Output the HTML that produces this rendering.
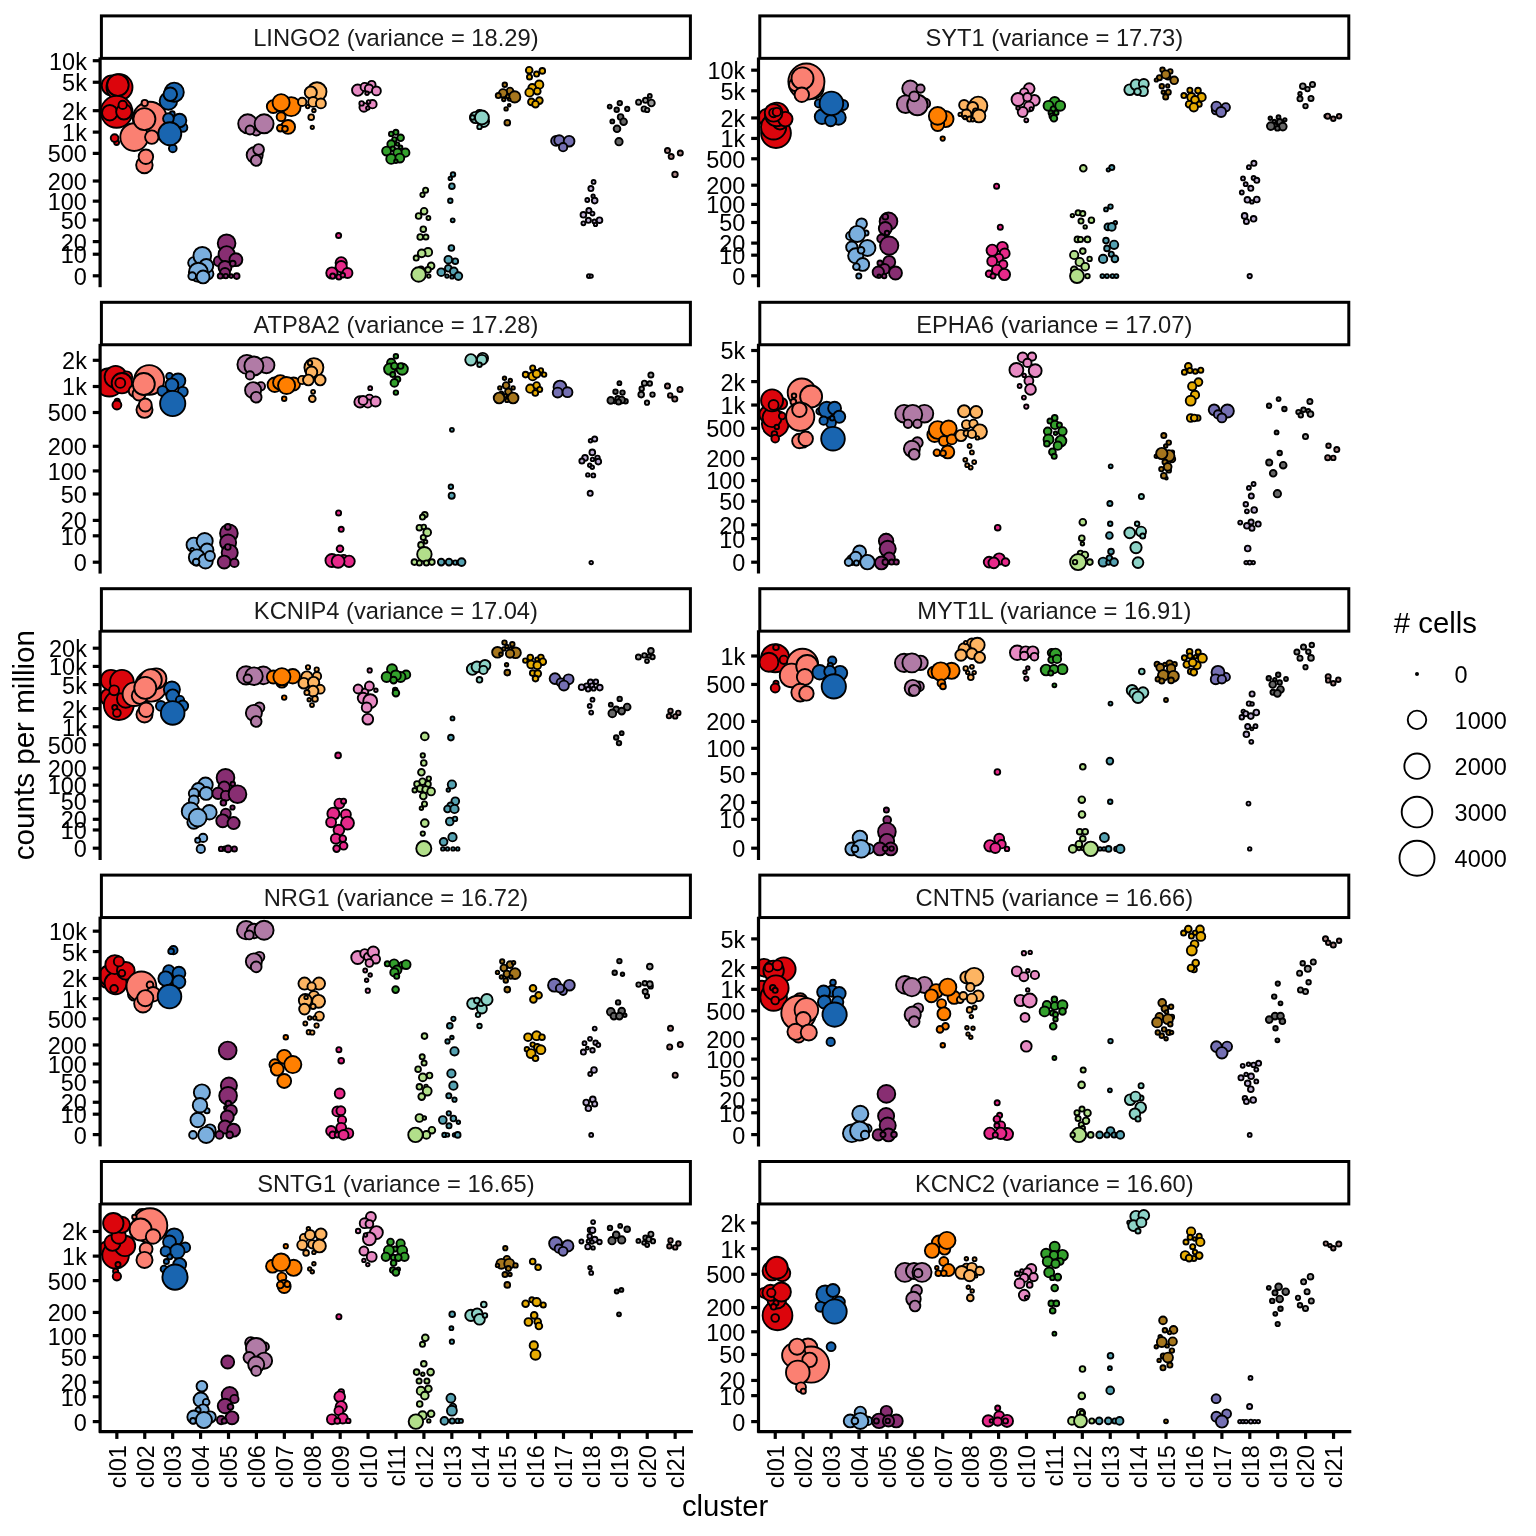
<!DOCTYPE html>
<html><head><meta charset="utf-8"><style>html,body{margin:0;padding:0;background:#fff}svg{display:block}</style></head><body>
<svg xmlns="http://www.w3.org/2000/svg" width="1536" height="1536" viewBox="0 0 1536 1536">
<rect width="1536" height="1536" fill="#fff"/>
<clipPath id="cp0"><rect x="100.10" y="56.45" width="591.8" height="229.55"/></clipPath>
<g stroke="#000" stroke-width="1.89" clip-path="url(#cp0)">
<circle cx="111.7" cy="85.4" r="10.00" fill="#DC050C"/>
<circle cx="119.5" cy="87.3" r="13.00" fill="#DC050C"/>
<circle cx="117.9" cy="85.1" r="10.80" fill="#DC050C"/>
<circle cx="116.6" cy="111.8" r="15.91" fill="#DC050C"/>
<circle cx="109.8" cy="112.7" r="7.76" fill="#DC050C"/>
<circle cx="123.9" cy="111.8" r="7.76" fill="#DC050C"/>
<circle cx="122.7" cy="104.9" r="4.16" fill="#DC050C"/>
<circle cx="116.6" cy="142.5" r="2.46" fill="#DC050C"/>
<circle cx="114.6" cy="138.1" r="3.86" fill="#DC050C"/>
<circle cx="149.8" cy="118.6" r="16.91" fill="#FB8072"/>
<circle cx="134.2" cy="137.1" r="13.90" fill="#FB8072"/>
<circle cx="144.4" cy="119.1" r="11.00" fill="#FB8072"/>
<circle cx="151.8" cy="137.1" r="6.75" fill="#FB8072"/>
<circle cx="144.7" cy="103.0" r="3.16" fill="#FB8072"/>
<circle cx="144.4" cy="165.0" r="8.26" fill="#FB8072"/>
<circle cx="145.9" cy="156.7" r="7.25" fill="#FB8072"/>
<circle cx="172.8" cy="148.4" r="3.86" fill="#1965B0"/>
<circle cx="168.4" cy="101.0" r="8.76" fill="#1965B0"/>
<circle cx="174.2" cy="92.2" r="9.61" fill="#1965B0"/>
<circle cx="170.3" cy="94.2" r="6.75" fill="#1965B0"/>
<circle cx="172.3" cy="113.7" r="2.46" fill="#1965B0"/>
<circle cx="183.0" cy="127.4" r="4.36" fill="#1965B0"/>
<circle cx="179.6" cy="120.5" r="6.75" fill="#1965B0"/>
<circle cx="168.4" cy="118.6" r="5.36" fill="#1965B0"/>
<circle cx="169.8" cy="133.7" r="11.50" fill="#1965B0"/>
<circle cx="193.8" cy="262.8" r="5.66" fill="#7BAFDE"/>
<circle cx="207.8" cy="273.8" r="5.66" fill="#7BAFDE"/>
<circle cx="202.3" cy="255.8" r="8.86" fill="#7BAFDE"/>
<circle cx="206.3" cy="265.9" r="6.96" fill="#7BAFDE"/>
<circle cx="198.4" cy="272.2" r="9.50" fill="#7BAFDE"/>
<circle cx="203.1" cy="276.9" r="6.46" fill="#7BAFDE"/>
<circle cx="192.2" cy="276.1" r="3.86" fill="#7BAFDE"/>
<circle cx="218.8" cy="261.2" r="4.96" fill="#882E72"/>
<circle cx="226.6" cy="243.3" r="8.86" fill="#882E72"/>
<circle cx="226.6" cy="254.2" r="8.05" fill="#882E72"/>
<circle cx="235.9" cy="259.7" r="6.46" fill="#882E72"/>
<circle cx="225.0" cy="267.5" r="6.46" fill="#882E72"/>
<circle cx="225.0" cy="273.0" r="4.96" fill="#882E72"/>
<circle cx="232.8" cy="263.6" r="2.85" fill="#882E72"/>
<circle cx="220.3" cy="276.1" r="2.56" fill="#882E72"/>
<circle cx="225.8" cy="276.1" r="2.25" fill="#882E72"/>
<circle cx="231.2" cy="276.1" r="1.85" fill="#882E72"/>
<circle cx="236.7" cy="276.1" r="2.85" fill="#882E72"/>
<circle cx="256.2" cy="130.0" r="5.46" fill="#B17BA6"/>
<circle cx="247.7" cy="123.8" r="9.50" fill="#B17BA6"/>
<circle cx="264.1" cy="123.8" r="9.50" fill="#B17BA6"/>
<circle cx="250.0" cy="130.0" r="4.46" fill="#B17BA6"/>
<circle cx="254.7" cy="155.0" r="8.05" fill="#B17BA6"/>
<circle cx="258.6" cy="149.5" r="5.36" fill="#B17BA6"/>
<circle cx="256.2" cy="160.5" r="5.36" fill="#B17BA6"/>
<circle cx="273.3" cy="106.6" r="6.46" fill="#FF7F00"/>
<circle cx="288.0" cy="104.0" r="5.66" fill="#FF7F00"/>
<circle cx="291.2" cy="106.6" r="9.50" fill="#FF7F00"/>
<circle cx="281.1" cy="102.7" r="8.55" fill="#FF7F00"/>
<circle cx="281.1" cy="116.7" r="4.46" fill="#FF7F00"/>
<circle cx="288.1" cy="126.9" r="6.96" fill="#FF7F00"/>
<circle cx="280.3" cy="128.1" r="3.35" fill="#FF7F00"/>
<circle cx="285.0" cy="128.8" r="2.85" fill="#FF7F00"/>
<circle cx="317.0" cy="91.7" r="9.50" fill="#FDB462"/>
<circle cx="310.8" cy="92.5" r="6.05" fill="#FDB462"/>
<circle cx="313.1" cy="101.9" r="4.96" fill="#FDB462"/>
<circle cx="302.2" cy="101.9" r="4.16" fill="#FDB462"/>
<circle cx="320.9" cy="103.4" r="4.96" fill="#FDB462"/>
<circle cx="307.7" cy="106.6" r="1.75" fill="#FDB462"/>
<circle cx="313.9" cy="110.5" r="1.75" fill="#FDB462"/>
<circle cx="311.2" cy="117.2" r="2.85" fill="#FDB462"/>
<circle cx="312.3" cy="127.3" r="1.66" fill="#FDB462"/>
<circle cx="338.6" cy="235.5" r="2.56" fill="#E7298A"/>
<circle cx="341.2" cy="262.8" r="5.66" fill="#E7298A"/>
<circle cx="341.2" cy="266.7" r="5.66" fill="#E7298A"/>
<circle cx="331.9" cy="273.0" r="5.66" fill="#E7298A"/>
<circle cx="347.5" cy="273.0" r="4.96" fill="#E7298A"/>
<circle cx="332.7" cy="276.1" r="2.56" fill="#E7298A"/>
<circle cx="338.9" cy="276.9" r="2.56" fill="#E7298A"/>
<circle cx="342.8" cy="275.3" r="2.25" fill="#E7298A"/>
<circle cx="357.7" cy="90.2" r="5.66" fill="#E78AC3"/>
<circle cx="364.7" cy="87.0" r="4.16" fill="#E78AC3"/>
<circle cx="371.7" cy="84.7" r="3.86" fill="#E78AC3"/>
<circle cx="369.0" cy="88.6" r="4.16" fill="#E78AC3"/>
<circle cx="376.4" cy="90.9" r="4.46" fill="#E78AC3"/>
<circle cx="367.0" cy="93.3" r="1.75" fill="#E78AC3"/>
<circle cx="363.9" cy="107.3" r="4.46" fill="#E78AC3"/>
<circle cx="372.5" cy="104.2" r="4.16" fill="#E78AC3"/>
<circle cx="361.6" cy="103.4" r="2.25" fill="#E78AC3"/>
<circle cx="368.6" cy="101.9" r="1.75" fill="#E78AC3"/>
<circle cx="367.8" cy="108.1" r="1.75" fill="#E78AC3"/>
<circle cx="395.9" cy="132.3" r="2.56" fill="#33A02C"/>
<circle cx="391.2" cy="133.9" r="2.25" fill="#33A02C"/>
<circle cx="400.6" cy="137.8" r="3.35" fill="#33A02C"/>
<circle cx="394.4" cy="139.4" r="2.25" fill="#33A02C"/>
<circle cx="391.2" cy="144.1" r="3.86" fill="#33A02C"/>
<circle cx="397.5" cy="144.1" r="1.75" fill="#33A02C"/>
<circle cx="386.6" cy="151.1" r="4.46" fill="#33A02C"/>
<circle cx="392.8" cy="148.8" r="2.25" fill="#33A02C"/>
<circle cx="400.6" cy="147.2" r="1.75" fill="#33A02C"/>
<circle cx="405.3" cy="152.7" r="4.16" fill="#33A02C"/>
<circle cx="397.5" cy="152.7" r="4.16" fill="#33A02C"/>
<circle cx="391.2" cy="158.9" r="4.96" fill="#33A02C"/>
<circle cx="399.8" cy="158.1" r="4.46" fill="#33A02C"/>
<circle cx="395.9" cy="161.2" r="1.75" fill="#33A02C"/>
<circle cx="425.6" cy="190.2" r="2.56" fill="#B2DF8A"/>
<circle cx="422.5" cy="194.8" r="2.16" fill="#B2DF8A"/>
<circle cx="424.1" cy="211.2" r="3.35" fill="#B2DF8A"/>
<circle cx="418.6" cy="216.0" r="2.85" fill="#B2DF8A"/>
<circle cx="428.4" cy="218.0" r="1.96" fill="#B2DF8A"/>
<circle cx="423.3" cy="229.2" r="2.85" fill="#B2DF8A"/>
<circle cx="420.2" cy="237.0" r="2.85" fill="#B2DF8A"/>
<circle cx="425.9" cy="237.0" r="2.56" fill="#B2DF8A"/>
<circle cx="428.0" cy="252.2" r="4.16" fill="#B2DF8A"/>
<circle cx="421.7" cy="253.4" r="3.86" fill="#B2DF8A"/>
<circle cx="416.2" cy="258.1" r="2.56" fill="#B2DF8A"/>
<circle cx="421.0" cy="269.8" r="3.35" fill="#B2DF8A"/>
<circle cx="431.1" cy="265.9" r="3.35" fill="#B2DF8A"/>
<circle cx="428.0" cy="269.8" r="2.85" fill="#B2DF8A"/>
<circle cx="418.6" cy="274.5" r="7.25" fill="#B2DF8A"/>
<circle cx="428.8" cy="276.1" r="1.75" fill="#B2DF8A"/>
<circle cx="453.0" cy="174.5" r="2.25" fill="#55A1B1"/>
<circle cx="450.3" cy="178.4" r="1.75" fill="#55A1B1"/>
<circle cx="451.9" cy="186.2" r="2.85" fill="#55A1B1"/>
<circle cx="450.3" cy="200.8" r="2.25" fill="#55A1B1"/>
<circle cx="452.7" cy="220.3" r="1.96" fill="#55A1B1"/>
<circle cx="451.4" cy="248.0" r="2.85" fill="#55A1B1"/>
<circle cx="448.3" cy="259.7" r="3.86" fill="#55A1B1"/>
<circle cx="455.3" cy="261.2" r="2.85" fill="#55A1B1"/>
<circle cx="448.3" cy="268.3" r="3.35" fill="#55A1B1"/>
<circle cx="441.2" cy="272.2" r="3.86" fill="#55A1B1"/>
<circle cx="453.8" cy="271.4" r="3.86" fill="#55A1B1"/>
<circle cx="447.0" cy="276.1" r="1.75" fill="#55A1B1"/>
<circle cx="452.0" cy="276.9" r="1.75" fill="#55A1B1"/>
<circle cx="458.4" cy="276.1" r="3.86" fill="#55A1B1"/>
<circle cx="479.5" cy="114.0" r="4.16" fill="#8DD3C7"/>
<circle cx="475.6" cy="117.5" r="5.66" fill="#8DD3C7"/>
<circle cx="483.4" cy="121.4" r="5.66" fill="#8DD3C7"/>
<circle cx="481.9" cy="117.5" r="6.96" fill="#8DD3C7"/>
<circle cx="472.5" cy="117.5" r="2.25" fill="#8DD3C7"/>
<circle cx="479.5" cy="126.9" r="2.25" fill="#8DD3C7"/>
<circle cx="504.8" cy="84.7" r="2.25" fill="#A6761D"/>
<circle cx="510.0" cy="91.0" r="3.35" fill="#A6761D"/>
<circle cx="503.0" cy="93.3" r="4.16" fill="#A6761D"/>
<circle cx="498.3" cy="95.6" r="2.56" fill="#A6761D"/>
<circle cx="514.7" cy="96.9" r="5.66" fill="#A6761D"/>
<circle cx="507.7" cy="96.4" r="1.75" fill="#A6761D"/>
<circle cx="503.8" cy="99.5" r="1.75" fill="#A6761D"/>
<circle cx="509.2" cy="99.5" r="1.35" fill="#A6761D"/>
<circle cx="509.2" cy="105.3" r="1.35" fill="#A6761D"/>
<circle cx="506.1" cy="108.9" r="1.75" fill="#A6761D"/>
<circle cx="507.3" cy="122.7" r="2.85" fill="#A6761D"/>
<circle cx="529.2" cy="70.2" r="3.35" fill="#E6AB02"/>
<circle cx="536.6" cy="74.1" r="2.56" fill="#E6AB02"/>
<circle cx="542.3" cy="70.9" r="2.85" fill="#E6AB02"/>
<circle cx="529.5" cy="76.9" r="2.56" fill="#E6AB02"/>
<circle cx="539.2" cy="84.7" r="4.16" fill="#E6AB02"/>
<circle cx="532.2" cy="87.8" r="3.86" fill="#E6AB02"/>
<circle cx="529.5" cy="92.5" r="4.16" fill="#E6AB02"/>
<circle cx="537.3" cy="91.2" r="3.35" fill="#E6AB02"/>
<circle cx="531.4" cy="101.9" r="3.35" fill="#E6AB02"/>
<circle cx="539.4" cy="100.6" r="3.35" fill="#E6AB02"/>
<circle cx="535.5" cy="104.2" r="3.35" fill="#E6AB02"/>
<circle cx="556.1" cy="140.9" r="4.96" fill="#7570B3"/>
<circle cx="559.2" cy="140.2" r="4.96" fill="#7570B3"/>
<circle cx="569.1" cy="141.2" r="5.36" fill="#7570B3"/>
<circle cx="563.1" cy="147.2" r="4.16" fill="#7570B3"/>
<circle cx="593.6" cy="181.9" r="1.96" fill="#BEAED4"/>
<circle cx="590.9" cy="188.6" r="2.56" fill="#BEAED4"/>
<circle cx="593.1" cy="196.1" r="1.66" fill="#BEAED4"/>
<circle cx="587.3" cy="200.0" r="1.96" fill="#BEAED4"/>
<circle cx="594.7" cy="200.6" r="2.85" fill="#BEAED4"/>
<circle cx="588.9" cy="210.5" r="2.56" fill="#BEAED4"/>
<circle cx="592.5" cy="213.6" r="1.96" fill="#BEAED4"/>
<circle cx="583.4" cy="214.8" r="2.85" fill="#BEAED4"/>
<circle cx="588.4" cy="220.3" r="2.56" fill="#BEAED4"/>
<circle cx="594.4" cy="221.4" r="1.96" fill="#BEAED4"/>
<circle cx="599.5" cy="220.2" r="2.85" fill="#BEAED4"/>
<circle cx="583.4" cy="223.3" r="1.96" fill="#BEAED4"/>
<circle cx="595.5" cy="224.5" r="1.66" fill="#BEAED4"/>
<circle cx="588.9" cy="276.1" r="1.96" fill="#BEAED4"/>
<circle cx="591.2" cy="276.1" r="1.66" fill="#BEAED4"/>
<circle cx="609.7" cy="106.6" r="1.96" fill="#666666"/>
<circle cx="619.8" cy="103.1" r="2.25" fill="#666666"/>
<circle cx="616.7" cy="109.7" r="2.25" fill="#666666"/>
<circle cx="627.2" cy="108.9" r="2.16" fill="#666666"/>
<circle cx="620.6" cy="117.0" r="2.85" fill="#666666"/>
<circle cx="623.6" cy="121.7" r="3.35" fill="#666666"/>
<circle cx="612.3" cy="121.4" r="1.96" fill="#666666"/>
<circle cx="617.0" cy="128.8" r="3.35" fill="#666666"/>
<circle cx="619.0" cy="141.7" r="3.66" fill="#666666"/>
<circle cx="649.8" cy="95.9" r="1.96" fill="#999999"/>
<circle cx="638.6" cy="102.2" r="2.56" fill="#999999"/>
<circle cx="645.5" cy="100.3" r="2.56" fill="#999999"/>
<circle cx="651.4" cy="103.0" r="3.35" fill="#999999"/>
<circle cx="644.1" cy="108.9" r="2.56" fill="#999999"/>
<circle cx="647.2" cy="110.0" r="2.16" fill="#999999"/>
<circle cx="667.5" cy="150.6" r="2.56" fill="#AA8282"/>
<circle cx="671.2" cy="156.6" r="2.56" fill="#AA8282"/>
<circle cx="680.3" cy="153.0" r="2.56" fill="#AA8282"/>
<circle cx="675.0" cy="174.4" r="2.75" fill="#AA8282"/>
</g>
<rect x="101.40" y="15.90" width="589.00" height="42.45" fill="#fff" stroke="#000" stroke-width="3.0"/>
<text x="395.90" y="46.30" font-family='"Liberation Sans", Arial, sans-serif' font-size="23.73" fill="#1A1A1A" text-anchor="middle">LINGO2 (variance = 18.29)</text>
<line x1="100.1" y1="57.45" x2="100.1" y2="287.20" stroke="#000" stroke-width="3.2"/>
<line x1="92.77" y1="275.80" x2="100.1" y2="275.80" stroke="#000" stroke-width="3.2"/>
<text x="86.90" y="284.75" font-family='"Liberation Sans", Arial, sans-serif' font-size="23.47" fill="#000" text-anchor="end">0</text>
<line x1="92.77" y1="254.22" x2="100.1" y2="254.22" stroke="#000" stroke-width="3.2"/>
<text x="86.90" y="263.17" font-family='"Liberation Sans", Arial, sans-serif' font-size="23.47" fill="#000" text-anchor="end">10</text>
<line x1="92.77" y1="241.60" x2="100.1" y2="241.60" stroke="#000" stroke-width="3.2"/>
<text x="86.90" y="250.55" font-family='"Liberation Sans", Arial, sans-serif' font-size="23.47" fill="#000" text-anchor="end">20</text>
<line x1="92.77" y1="220.01" x2="100.1" y2="220.01" stroke="#000" stroke-width="3.2"/>
<text x="86.90" y="228.96" font-family='"Liberation Sans", Arial, sans-serif' font-size="23.47" fill="#000" text-anchor="end">50</text>
<line x1="92.77" y1="201.14" x2="100.1" y2="201.14" stroke="#000" stroke-width="3.2"/>
<text x="86.90" y="210.09" font-family='"Liberation Sans", Arial, sans-serif' font-size="23.47" fill="#000" text-anchor="end">100</text>
<line x1="92.77" y1="181.01" x2="100.1" y2="181.01" stroke="#000" stroke-width="3.2"/>
<text x="86.90" y="189.96" font-family='"Liberation Sans", Arial, sans-serif' font-size="23.47" fill="#000" text-anchor="end">200</text>
<line x1="92.77" y1="153.38" x2="100.1" y2="153.38" stroke="#000" stroke-width="3.2"/>
<text x="86.90" y="162.33" font-family='"Liberation Sans", Arial, sans-serif' font-size="23.47" fill="#000" text-anchor="end">500</text>
<line x1="92.77" y1="132.11" x2="100.1" y2="132.11" stroke="#000" stroke-width="3.2"/>
<text x="86.90" y="141.06" font-family='"Liberation Sans", Arial, sans-serif' font-size="23.47" fill="#000" text-anchor="end">1k</text>
<line x1="92.77" y1="110.68" x2="100.1" y2="110.68" stroke="#000" stroke-width="3.2"/>
<text x="86.90" y="119.63" font-family='"Liberation Sans", Arial, sans-serif' font-size="23.47" fill="#000" text-anchor="end">2k</text>
<line x1="92.77" y1="82.25" x2="100.1" y2="82.25" stroke="#000" stroke-width="3.2"/>
<text x="86.90" y="91.20" font-family='"Liberation Sans", Arial, sans-serif' font-size="23.47" fill="#000" text-anchor="end">5k</text>
<line x1="92.77" y1="60.70" x2="100.1" y2="60.70" stroke="#000" stroke-width="3.2"/>
<text x="86.90" y="69.65" font-family='"Liberation Sans", Arial, sans-serif' font-size="23.47" fill="#000" text-anchor="end">10k</text>
<clipPath id="cp1"><rect x="758.50" y="56.45" width="591.8" height="229.55"/></clipPath>
<g stroke="#000" stroke-width="1.89" clip-path="url(#cp1)">
<circle cx="767.4" cy="117.5" r="8.86" fill="#DC050C"/>
<circle cx="776.0" cy="133.1" r="14.90" fill="#DC050C"/>
<circle cx="773.6" cy="126.9" r="12.61" fill="#DC050C"/>
<circle cx="780.0" cy="122.0" r="7.46" fill="#DC050C"/>
<circle cx="776.8" cy="114.4" r="11.80" fill="#DC050C"/>
<circle cx="785.3" cy="119.1" r="7.25" fill="#DC050C"/>
<circle cx="773.6" cy="112.8" r="8.86" fill="#DC050C"/>
<circle cx="773.6" cy="112.8" r="4.46" fill="#DC050C"/>
<circle cx="776.8" cy="112.0" r="4.16" fill="#DC050C"/>
<circle cx="812.7" cy="87.8" r="11.00" fill="#FB8072"/>
<circle cx="806.4" cy="81.6" r="18.05" fill="#FB8072"/>
<circle cx="795.5" cy="84.7" r="6.46" fill="#FB8072"/>
<circle cx="802.5" cy="78.4" r="11.00" fill="#FB8072"/>
<circle cx="801.8" cy="94.8" r="7.25" fill="#FB8072"/>
<circle cx="819.0" cy="103.4" r="4.16" fill="#1965B0"/>
<circle cx="843.2" cy="105.0" r="4.96" fill="#1965B0"/>
<circle cx="822.0" cy="116.7" r="7.25" fill="#1965B0"/>
<circle cx="838.5" cy="117.5" r="7.25" fill="#1965B0"/>
<circle cx="830.7" cy="120.6" r="5.66" fill="#1965B0"/>
<circle cx="831.4" cy="103.4" r="11.80" fill="#1965B0"/>
<circle cx="850.2" cy="236.0" r="4.16" fill="#7BAFDE"/>
<circle cx="861.6" cy="223.8" r="5.36" fill="#7BAFDE"/>
<circle cx="866.0" cy="233.0" r="2.56" fill="#7BAFDE"/>
<circle cx="857.2" cy="233.9" r="8.05" fill="#7BAFDE"/>
<circle cx="851.8" cy="247.2" r="5.66" fill="#7BAFDE"/>
<circle cx="867.4" cy="248.0" r="8.05" fill="#7BAFDE"/>
<circle cx="855.7" cy="255.8" r="7.55" fill="#7BAFDE"/>
<circle cx="861.1" cy="250.3" r="3.35" fill="#7BAFDE"/>
<circle cx="862.7" cy="264.4" r="6.46" fill="#7BAFDE"/>
<circle cx="856.4" cy="266.7" r="3.35" fill="#7BAFDE"/>
<circle cx="858.8" cy="276.1" r="2.56" fill="#7BAFDE"/>
<circle cx="888.5" cy="221.4" r="8.86" fill="#882E72"/>
<circle cx="885.3" cy="216.7" r="2.85" fill="#882E72"/>
<circle cx="885.3" cy="228.4" r="6.46" fill="#882E72"/>
<circle cx="887.0" cy="233.0" r="2.25" fill="#882E72"/>
<circle cx="881.4" cy="238.6" r="4.16" fill="#882E72"/>
<circle cx="889.2" cy="245.6" r="9.15" fill="#882E72"/>
<circle cx="880.0" cy="263.0" r="2.56" fill="#882E72"/>
<circle cx="889.2" cy="262.0" r="6.05" fill="#882E72"/>
<circle cx="884.6" cy="269.0" r="4.96" fill="#882E72"/>
<circle cx="878.3" cy="272.2" r="5.66" fill="#882E72"/>
<circle cx="895.5" cy="273.0" r="6.46" fill="#882E72"/>
<circle cx="884.2" cy="276.1" r="2.25" fill="#882E72"/>
<circle cx="879.1" cy="276.1" r="1.66" fill="#882E72"/>
<circle cx="910.3" cy="88.6" r="8.05" fill="#B17BA6"/>
<circle cx="920.5" cy="88.6" r="4.16" fill="#B17BA6"/>
<circle cx="925.2" cy="103.4" r="4.96" fill="#B17BA6"/>
<circle cx="905.7" cy="104.2" r="8.86" fill="#B17BA6"/>
<circle cx="917.4" cy="105.0" r="10.21" fill="#B17BA6"/>
<circle cx="914.2" cy="96.4" r="4.96" fill="#B17BA6"/>
<circle cx="937.0" cy="119.0" r="5.66" fill="#FF7F00"/>
<circle cx="945.5" cy="119.1" r="8.05" fill="#FF7F00"/>
<circle cx="937.7" cy="124.5" r="6.46" fill="#FF7F00"/>
<circle cx="937.7" cy="115.9" r="8.86" fill="#FF7F00"/>
<circle cx="942.7" cy="138.6" r="2.16" fill="#FF7F00"/>
<circle cx="978.2" cy="105.8" r="9.15" fill="#FDB462"/>
<circle cx="964.1" cy="105.0" r="4.96" fill="#FDB462"/>
<circle cx="972.7" cy="107.3" r="5.36" fill="#FDB462"/>
<circle cx="975.8" cy="111.2" r="2.85" fill="#FDB462"/>
<circle cx="978.9" cy="115.9" r="6.46" fill="#FDB462"/>
<circle cx="966.4" cy="114.4" r="4.96" fill="#FDB462"/>
<circle cx="960.2" cy="114.4" r="1.75" fill="#FDB462"/>
<circle cx="965.0" cy="117.5" r="1.75" fill="#FDB462"/>
<circle cx="969.6" cy="119.1" r="2.56" fill="#FDB462"/>
<circle cx="972.7" cy="119.8" r="1.75" fill="#FDB462"/>
<circle cx="996.6" cy="186.2" r="2.56" fill="#E7298A"/>
<circle cx="1000.3" cy="227.2" r="2.56" fill="#E7298A"/>
<circle cx="1002.4" cy="247.2" r="5.36" fill="#E7298A"/>
<circle cx="992.2" cy="250.3" r="5.66" fill="#E7298A"/>
<circle cx="1004.7" cy="253.4" r="4.96" fill="#E7298A"/>
<circle cx="999.0" cy="258.0" r="4.16" fill="#E7298A"/>
<circle cx="992.2" cy="261.2" r="4.96" fill="#E7298A"/>
<circle cx="1003.2" cy="264.4" r="4.16" fill="#E7298A"/>
<circle cx="996.9" cy="269.8" r="4.96" fill="#E7298A"/>
<circle cx="989.1" cy="273.8" r="3.35" fill="#E7298A"/>
<circle cx="993.0" cy="276.1" r="2.56" fill="#E7298A"/>
<circle cx="1004.4" cy="274.5" r="5.66" fill="#E7298A"/>
<circle cx="1029.2" cy="88.6" r="5.36" fill="#E78AC3"/>
<circle cx="1024.2" cy="92.5" r="4.16" fill="#E78AC3"/>
<circle cx="1018.0" cy="99.5" r="6.46" fill="#E78AC3"/>
<circle cx="1034.4" cy="100.3" r="5.36" fill="#E78AC3"/>
<circle cx="1027.4" cy="97.2" r="4.16" fill="#E78AC3"/>
<circle cx="1029.0" cy="106.6" r="4.96" fill="#E78AC3"/>
<circle cx="1022.7" cy="112.0" r="4.96" fill="#E78AC3"/>
<circle cx="1018.0" cy="108.1" r="1.75" fill="#E78AC3"/>
<circle cx="1031.3" cy="108.9" r="1.75" fill="#E78AC3"/>
<circle cx="1026.3" cy="120.3" r="1.96" fill="#E78AC3"/>
<circle cx="1047.0" cy="105.0" r="2.56" fill="#33A02C"/>
<circle cx="1054.7" cy="101.9" r="4.96" fill="#33A02C"/>
<circle cx="1048.5" cy="105.8" r="4.96" fill="#33A02C"/>
<circle cx="1060.2" cy="105.8" r="4.96" fill="#33A02C"/>
<circle cx="1053.2" cy="108.9" r="2.56" fill="#33A02C"/>
<circle cx="1056.3" cy="112.8" r="2.25" fill="#33A02C"/>
<circle cx="1050.8" cy="112.8" r="2.25" fill="#33A02C"/>
<circle cx="1052.0" cy="115.9" r="2.56" fill="#33A02C"/>
<circle cx="1053.9" cy="118.3" r="3.35" fill="#33A02C"/>
<circle cx="1083.3" cy="168.3" r="3.35" fill="#B2DF8A"/>
<circle cx="1078.1" cy="212.8" r="2.56" fill="#B2DF8A"/>
<circle cx="1082.8" cy="213.6" r="2.56" fill="#B2DF8A"/>
<circle cx="1072.4" cy="215.6" r="1.75" fill="#B2DF8A"/>
<circle cx="1091.4" cy="220.2" r="2.85" fill="#B2DF8A"/>
<circle cx="1081.0" cy="221.1" r="2.56" fill="#B2DF8A"/>
<circle cx="1085.2" cy="226.9" r="1.75" fill="#B2DF8A"/>
<circle cx="1077.4" cy="239.4" r="2.85" fill="#B2DF8A"/>
<circle cx="1080.5" cy="239.4" r="2.56" fill="#B2DF8A"/>
<circle cx="1087.5" cy="239.4" r="2.85" fill="#B2DF8A"/>
<circle cx="1082.8" cy="251.1" r="2.85" fill="#B2DF8A"/>
<circle cx="1074.2" cy="255.0" r="4.16" fill="#B2DF8A"/>
<circle cx="1089.6" cy="258.9" r="2.25" fill="#B2DF8A"/>
<circle cx="1079.7" cy="262.0" r="4.16" fill="#B2DF8A"/>
<circle cx="1085.2" cy="266.7" r="3.86" fill="#B2DF8A"/>
<circle cx="1074.2" cy="269.8" r="3.35" fill="#B2DF8A"/>
<circle cx="1077.0" cy="276.1" r="6.96" fill="#B2DF8A"/>
<circle cx="1087.5" cy="276.1" r="2.25" fill="#B2DF8A"/>
<circle cx="1111.8" cy="167.5" r="2.56" fill="#55A1B1"/>
<circle cx="1108.3" cy="169.8" r="1.66" fill="#55A1B1"/>
<circle cx="1110.5" cy="206.6" r="2.25" fill="#55A1B1"/>
<circle cx="1106.0" cy="209.4" r="1.96" fill="#55A1B1"/>
<circle cx="1115.3" cy="222.7" r="1.75" fill="#55A1B1"/>
<circle cx="1107.8" cy="226.9" r="3.35" fill="#55A1B1"/>
<circle cx="1111.8" cy="226.9" r="3.86" fill="#55A1B1"/>
<circle cx="1106.0" cy="240.6" r="2.85" fill="#55A1B1"/>
<circle cx="1114.1" cy="244.8" r="4.16" fill="#55A1B1"/>
<circle cx="1107.0" cy="248.4" r="2.85" fill="#55A1B1"/>
<circle cx="1111.3" cy="254.2" r="2.56" fill="#55A1B1"/>
<circle cx="1103.1" cy="258.9" r="4.16" fill="#55A1B1"/>
<circle cx="1114.9" cy="258.9" r="3.35" fill="#55A1B1"/>
<circle cx="1102.4" cy="276.1" r="1.96" fill="#55A1B1"/>
<circle cx="1107.0" cy="276.1" r="1.96" fill="#55A1B1"/>
<circle cx="1112.5" cy="276.1" r="1.96" fill="#55A1B1"/>
<circle cx="1116.4" cy="276.1" r="1.96" fill="#55A1B1"/>
<circle cx="1129.7" cy="89.7" r="5.36" fill="#8DD3C7"/>
<circle cx="1136.0" cy="84.7" r="5.36" fill="#8DD3C7"/>
<circle cx="1143.8" cy="83.9" r="4.96" fill="#8DD3C7"/>
<circle cx="1143.0" cy="91.2" r="4.96" fill="#8DD3C7"/>
<circle cx="1137.5" cy="91.7" r="3.35" fill="#8DD3C7"/>
<circle cx="1162.5" cy="69.8" r="2.25" fill="#A6761D"/>
<circle cx="1170.3" cy="71.4" r="2.25" fill="#A6761D"/>
<circle cx="1168.0" cy="77.0" r="2.56" fill="#A6761D"/>
<circle cx="1165.7" cy="74.5" r="4.16" fill="#A6761D"/>
<circle cx="1174.2" cy="80.3" r="3.86" fill="#A6761D"/>
<circle cx="1159.4" cy="77.7" r="2.56" fill="#A6761D"/>
<circle cx="1156.3" cy="80.0" r="1.66" fill="#A6761D"/>
<circle cx="1161.8" cy="86.2" r="2.25" fill="#A6761D"/>
<circle cx="1167.7" cy="85.9" r="1.66" fill="#A6761D"/>
<circle cx="1163.3" cy="92.2" r="1.75" fill="#A6761D"/>
<circle cx="1168.3" cy="92.2" r="2.56" fill="#A6761D"/>
<circle cx="1165.7" cy="96.9" r="2.56" fill="#A6761D"/>
<circle cx="1189.9" cy="90.2" r="2.56" fill="#E6AB02"/>
<circle cx="1198.0" cy="90.6" r="2.85" fill="#E6AB02"/>
<circle cx="1183.9" cy="95.6" r="2.56" fill="#E6AB02"/>
<circle cx="1201.6" cy="97.2" r="4.16" fill="#E6AB02"/>
<circle cx="1191.4" cy="97.2" r="4.16" fill="#E6AB02"/>
<circle cx="1195.0" cy="99.8" r="3.86" fill="#E6AB02"/>
<circle cx="1189.1" cy="104.2" r="3.35" fill="#E6AB02"/>
<circle cx="1199.2" cy="104.2" r="2.56" fill="#E6AB02"/>
<circle cx="1193.8" cy="107.3" r="4.16" fill="#E6AB02"/>
<circle cx="1215.7" cy="110.5" r="3.86" fill="#7570B3"/>
<circle cx="1216.4" cy="106.6" r="4.96" fill="#7570B3"/>
<circle cx="1225.8" cy="107.3" r="4.16" fill="#7570B3"/>
<circle cx="1221.1" cy="112.0" r="4.96" fill="#7570B3"/>
<circle cx="1253.9" cy="163.3" r="2.56" fill="#BEAED4"/>
<circle cx="1248.9" cy="167.2" r="1.96" fill="#BEAED4"/>
<circle cx="1243.0" cy="178.4" r="1.96" fill="#BEAED4"/>
<circle cx="1253.6" cy="178.0" r="1.96" fill="#BEAED4"/>
<circle cx="1256.8" cy="180.3" r="2.56" fill="#BEAED4"/>
<circle cx="1245.7" cy="184.2" r="1.96" fill="#BEAED4"/>
<circle cx="1250.8" cy="188.3" r="2.56" fill="#BEAED4"/>
<circle cx="1241.8" cy="192.5" r="1.96" fill="#BEAED4"/>
<circle cx="1247.4" cy="199.8" r="2.85" fill="#BEAED4"/>
<circle cx="1256.8" cy="199.5" r="2.85" fill="#BEAED4"/>
<circle cx="1251.9" cy="201.9" r="1.75" fill="#BEAED4"/>
<circle cx="1244.6" cy="215.9" r="2.85" fill="#BEAED4"/>
<circle cx="1253.6" cy="218.8" r="2.85" fill="#BEAED4"/>
<circle cx="1246.4" cy="221.4" r="2.56" fill="#BEAED4"/>
<circle cx="1249.7" cy="276.1" r="2.16" fill="#BEAED4"/>
<circle cx="1270.3" cy="118.3" r="1.75" fill="#666666"/>
<circle cx="1278.5" cy="117.2" r="1.96" fill="#666666"/>
<circle cx="1284.9" cy="119.8" r="1.66" fill="#666666"/>
<circle cx="1274.2" cy="121.4" r="1.66" fill="#666666"/>
<circle cx="1279.7" cy="121.9" r="2.85" fill="#666666"/>
<circle cx="1275.0" cy="126.0" r="2.56" fill="#666666"/>
<circle cx="1270.8" cy="126.1" r="3.86" fill="#666666"/>
<circle cx="1282.8" cy="126.6" r="3.86" fill="#666666"/>
<circle cx="1277.4" cy="128.4" r="2.25" fill="#666666"/>
<circle cx="1302.8" cy="86.2" r="2.85" fill="#999999"/>
<circle cx="1312.5" cy="84.4" r="2.56" fill="#999999"/>
<circle cx="1307.5" cy="89.1" r="2.25" fill="#999999"/>
<circle cx="1300.0" cy="93.8" r="1.75" fill="#999999"/>
<circle cx="1300.0" cy="98.8" r="2.56" fill="#999999"/>
<circle cx="1311.0" cy="98.4" r="2.56" fill="#999999"/>
<circle cx="1305.5" cy="106.1" r="2.25" fill="#999999"/>
<circle cx="1326.0" cy="116.0" r="1.66" fill="#AA8282"/>
<circle cx="1327.7" cy="116.2" r="2.56" fill="#AA8282"/>
<circle cx="1333.3" cy="118.8" r="2.25" fill="#AA8282"/>
<circle cx="1339.1" cy="116.2" r="2.25" fill="#AA8282"/>
</g>
<rect x="759.80" y="15.90" width="589.00" height="42.45" fill="#fff" stroke="#000" stroke-width="3.0"/>
<text x="1054.30" y="46.30" font-family='"Liberation Sans", Arial, sans-serif' font-size="23.73" fill="#1A1A1A" text-anchor="middle">SYT1 (variance = 17.73)</text>
<line x1="758.5" y1="57.45" x2="758.5" y2="287.20" stroke="#000" stroke-width="3.2"/>
<line x1="751.17" y1="275.80" x2="758.5" y2="275.80" stroke="#000" stroke-width="3.2"/>
<text x="745.30" y="284.75" font-family='"Liberation Sans", Arial, sans-serif' font-size="23.47" fill="#000" text-anchor="end">0</text>
<line x1="751.17" y1="255.17" x2="758.5" y2="255.17" stroke="#000" stroke-width="3.2"/>
<text x="745.30" y="264.12" font-family='"Liberation Sans", Arial, sans-serif' font-size="23.47" fill="#000" text-anchor="end">10</text>
<line x1="751.17" y1="243.10" x2="758.5" y2="243.10" stroke="#000" stroke-width="3.2"/>
<text x="745.30" y="252.05" font-family='"Liberation Sans", Arial, sans-serif' font-size="23.47" fill="#000" text-anchor="end">20</text>
<line x1="751.17" y1="222.47" x2="758.5" y2="222.47" stroke="#000" stroke-width="3.2"/>
<text x="745.30" y="231.42" font-family='"Liberation Sans", Arial, sans-serif' font-size="23.47" fill="#000" text-anchor="end">50</text>
<line x1="751.17" y1="204.43" x2="758.5" y2="204.43" stroke="#000" stroke-width="3.2"/>
<text x="745.30" y="213.38" font-family='"Liberation Sans", Arial, sans-serif' font-size="23.47" fill="#000" text-anchor="end">100</text>
<line x1="751.17" y1="185.19" x2="758.5" y2="185.19" stroke="#000" stroke-width="3.2"/>
<text x="745.30" y="194.14" font-family='"Liberation Sans", Arial, sans-serif' font-size="23.47" fill="#000" text-anchor="end">200</text>
<line x1="751.17" y1="158.78" x2="758.5" y2="158.78" stroke="#000" stroke-width="3.2"/>
<text x="745.30" y="167.73" font-family='"Liberation Sans", Arial, sans-serif' font-size="23.47" fill="#000" text-anchor="end">500</text>
<line x1="751.17" y1="138.44" x2="758.5" y2="138.44" stroke="#000" stroke-width="3.2"/>
<text x="745.30" y="147.39" font-family='"Liberation Sans", Arial, sans-serif' font-size="23.47" fill="#000" text-anchor="end">1k</text>
<line x1="751.17" y1="117.96" x2="758.5" y2="117.96" stroke="#000" stroke-width="3.2"/>
<text x="745.30" y="126.91" font-family='"Liberation Sans", Arial, sans-serif' font-size="23.47" fill="#000" text-anchor="end">2k</text>
<line x1="751.17" y1="90.78" x2="758.5" y2="90.78" stroke="#000" stroke-width="3.2"/>
<text x="745.30" y="99.73" font-family='"Liberation Sans", Arial, sans-serif' font-size="23.47" fill="#000" text-anchor="end">5k</text>
<line x1="751.17" y1="70.18" x2="758.5" y2="70.18" stroke="#000" stroke-width="3.2"/>
<text x="745.30" y="79.13" font-family='"Liberation Sans", Arial, sans-serif' font-size="23.47" fill="#000" text-anchor="end">10k</text>
<clipPath id="cp2"><rect x="100.10" y="342.85" width="591.8" height="229.55"/></clipPath>
<g stroke="#000" stroke-width="1.89" clip-path="url(#cp2)">
<circle cx="106.2" cy="383.2" r="7.25" fill="#DC050C"/>
<circle cx="109.4" cy="382.4" r="14.11" fill="#DC050C"/>
<circle cx="115.6" cy="376.9" r="11.00" fill="#DC050C"/>
<circle cx="126.6" cy="377.0" r="5.66" fill="#DC050C"/>
<circle cx="121.9" cy="383.2" r="10.21" fill="#DC050C"/>
<circle cx="120.3" cy="382.9" r="4.96" fill="#DC050C"/>
<circle cx="117.2" cy="401.2" r="2.56" fill="#DC050C"/>
<circle cx="116.9" cy="405.0" r="4.46" fill="#DC050C"/>
<circle cx="149.2" cy="380.0" r="14.90" fill="#FB8072"/>
<circle cx="134.4" cy="391.0" r="5.66" fill="#FB8072"/>
<circle cx="139.0" cy="394.0" r="6.46" fill="#FB8072"/>
<circle cx="143.8" cy="384.0" r="11.00" fill="#FB8072"/>
<circle cx="144.5" cy="409.8" r="8.05" fill="#FB8072"/>
<circle cx="145.3" cy="405.0" r="6.46" fill="#FB8072"/>
<circle cx="169.5" cy="376.2" r="3.35" fill="#1965B0"/>
<circle cx="176.1" cy="376.6" r="2.25" fill="#1965B0"/>
<circle cx="178.1" cy="380.8" r="7.25" fill="#1965B0"/>
<circle cx="171.9" cy="384.8" r="6.46" fill="#1965B0"/>
<circle cx="182.8" cy="391.8" r="4.96" fill="#1965B0"/>
<circle cx="162.5" cy="391.0" r="4.96" fill="#1965B0"/>
<circle cx="172.7" cy="403.5" r="12.61" fill="#1965B0"/>
<circle cx="193.8" cy="544.9" r="7.25" fill="#7BAFDE"/>
<circle cx="204.7" cy="541.0" r="8.05" fill="#7BAFDE"/>
<circle cx="207.0" cy="550.0" r="6.46" fill="#7BAFDE"/>
<circle cx="192.2" cy="549.6" r="1.75" fill="#7BAFDE"/>
<circle cx="196.9" cy="557.4" r="8.05" fill="#7BAFDE"/>
<circle cx="205.5" cy="561.3" r="7.25" fill="#7BAFDE"/>
<circle cx="210.0" cy="556.0" r="4.96" fill="#7BAFDE"/>
<circle cx="196.1" cy="562.1" r="3.35" fill="#7BAFDE"/>
<circle cx="228.9" cy="533.2" r="8.86" fill="#882E72"/>
<circle cx="227.8" cy="526.9" r="2.85" fill="#882E72"/>
<circle cx="228.1" cy="542.6" r="8.05" fill="#882E72"/>
<circle cx="229.7" cy="552.7" r="8.05" fill="#882E72"/>
<circle cx="227.8" cy="547.0" r="2.85" fill="#882E72"/>
<circle cx="224.2" cy="562.1" r="6.46" fill="#882E72"/>
<circle cx="234.4" cy="562.9" r="4.16" fill="#882E72"/>
<circle cx="246.9" cy="364.4" r="9.50" fill="#B17BA6"/>
<circle cx="266.4" cy="365.2" r="8.05" fill="#B17BA6"/>
<circle cx="253.9" cy="366.0" r="9.50" fill="#B17BA6"/>
<circle cx="250.0" cy="375.4" r="4.16" fill="#B17BA6"/>
<circle cx="260.9" cy="386.3" r="4.16" fill="#B17BA6"/>
<circle cx="253.1" cy="390.2" r="8.05" fill="#B17BA6"/>
<circle cx="256.2" cy="397.2" r="5.36" fill="#B17BA6"/>
<circle cx="274.8" cy="384.8" r="7.25" fill="#FF7F00"/>
<circle cx="280.3" cy="382.4" r="7.25" fill="#FF7F00"/>
<circle cx="293.6" cy="384.0" r="6.46" fill="#FF7F00"/>
<circle cx="286.6" cy="385.5" r="8.55" fill="#FF7F00"/>
<circle cx="284.2" cy="398.8" r="2.25" fill="#FF7F00"/>
<circle cx="313.9" cy="367.6" r="9.50" fill="#FDB462"/>
<circle cx="311.6" cy="372.2" r="5.66" fill="#FDB462"/>
<circle cx="310.0" cy="362.9" r="2.25" fill="#FDB462"/>
<circle cx="302.2" cy="380.0" r="4.16" fill="#FDB462"/>
<circle cx="308.4" cy="380.0" r="5.36" fill="#FDB462"/>
<circle cx="320.2" cy="380.0" r="5.36" fill="#FDB462"/>
<circle cx="313.1" cy="391.8" r="1.96" fill="#FDB462"/>
<circle cx="312.3" cy="398.8" r="3.35" fill="#FDB462"/>
<circle cx="338.6" cy="512.9" r="2.56" fill="#E7298A"/>
<circle cx="341.2" cy="529.3" r="2.56" fill="#E7298A"/>
<circle cx="340.0" cy="548.8" r="3.35" fill="#E7298A"/>
<circle cx="343.6" cy="559.0" r="4.16" fill="#E7298A"/>
<circle cx="331.9" cy="560.5" r="6.46" fill="#E7298A"/>
<circle cx="349.1" cy="561.3" r="5.66" fill="#E7298A"/>
<circle cx="338.1" cy="561.3" r="6.46" fill="#E7298A"/>
<circle cx="360.0" cy="401.9" r="5.66" fill="#E78AC3"/>
<circle cx="369.4" cy="398.8" r="4.16" fill="#E78AC3"/>
<circle cx="367.8" cy="403.5" r="4.16" fill="#E78AC3"/>
<circle cx="363.1" cy="400.4" r="4.46" fill="#E78AC3"/>
<circle cx="375.6" cy="401.5" r="4.96" fill="#E78AC3"/>
<circle cx="370.2" cy="388.2" r="1.96" fill="#E78AC3"/>
<circle cx="395.9" cy="356.3" r="2.25" fill="#33A02C"/>
<circle cx="391.2" cy="362.9" r="4.16" fill="#33A02C"/>
<circle cx="389.7" cy="369.1" r="5.66" fill="#33A02C"/>
<circle cx="402.2" cy="369.1" r="5.66" fill="#33A02C"/>
<circle cx="394.4" cy="366.0" r="3.35" fill="#33A02C"/>
<circle cx="400.6" cy="366.0" r="2.85" fill="#33A02C"/>
<circle cx="392.8" cy="374.6" r="2.56" fill="#33A02C"/>
<circle cx="397.5" cy="379.3" r="2.85" fill="#33A02C"/>
<circle cx="394.4" cy="382.9" r="3.86" fill="#33A02C"/>
<circle cx="395.9" cy="392.6" r="2.25" fill="#33A02C"/>
<circle cx="424.8" cy="514.8" r="2.85" fill="#B2DF8A"/>
<circle cx="422.5" cy="517.1" r="2.56" fill="#B2DF8A"/>
<circle cx="419.4" cy="527.7" r="2.85" fill="#B2DF8A"/>
<circle cx="423.8" cy="526.9" r="2.25" fill="#B2DF8A"/>
<circle cx="427.2" cy="532.4" r="3.86" fill="#B2DF8A"/>
<circle cx="423.3" cy="537.4" r="2.56" fill="#B2DF8A"/>
<circle cx="425.6" cy="541.8" r="1.75" fill="#B2DF8A"/>
<circle cx="421.0" cy="544.9" r="2.85" fill="#B2DF8A"/>
<circle cx="424.4" cy="554.3" r="7.25" fill="#B2DF8A"/>
<circle cx="414.4" cy="562.1" r="2.85" fill="#B2DF8A"/>
<circle cx="419.4" cy="562.9" r="2.56" fill="#B2DF8A"/>
<circle cx="431.9" cy="562.1" r="2.85" fill="#B2DF8A"/>
<circle cx="426.4" cy="562.9" r="2.56" fill="#B2DF8A"/>
<circle cx="451.9" cy="429.8" r="1.96" fill="#55A1B1"/>
<circle cx="450.9" cy="486.8" r="2.25" fill="#55A1B1"/>
<circle cx="451.7" cy="495.7" r="3.06" fill="#55A1B1"/>
<circle cx="441.2" cy="562.1" r="3.35" fill="#55A1B1"/>
<circle cx="449.0" cy="562.1" r="3.35" fill="#55A1B1"/>
<circle cx="455.3" cy="562.6" r="2.25" fill="#55A1B1"/>
<circle cx="459.2" cy="562.6" r="2.25" fill="#55A1B1"/>
<circle cx="461.6" cy="562.1" r="3.86" fill="#55A1B1"/>
<circle cx="470.9" cy="359.8" r="5.66" fill="#8DD3C7"/>
<circle cx="482.7" cy="358.2" r="5.36" fill="#8DD3C7"/>
<circle cx="481.9" cy="359.8" r="4.96" fill="#8DD3C7"/>
<circle cx="479.5" cy="364.8" r="2.25" fill="#8DD3C7"/>
<circle cx="504.5" cy="378.2" r="1.75" fill="#A6761D"/>
<circle cx="510.3" cy="380.5" r="1.75" fill="#A6761D"/>
<circle cx="506.1" cy="385.5" r="3.35" fill="#A6761D"/>
<circle cx="499.8" cy="387.9" r="1.75" fill="#A6761D"/>
<circle cx="513.1" cy="387.9" r="1.75" fill="#A6761D"/>
<circle cx="501.4" cy="393.3" r="1.75" fill="#A6761D"/>
<circle cx="508.4" cy="391.8" r="3.35" fill="#A6761D"/>
<circle cx="505.3" cy="395.7" r="1.75" fill="#A6761D"/>
<circle cx="515.5" cy="395.7" r="1.75" fill="#A6761D"/>
<circle cx="499.1" cy="398.0" r="5.36" fill="#A6761D"/>
<circle cx="513.1" cy="398.0" r="5.36" fill="#A6761D"/>
<circle cx="506.9" cy="400.4" r="1.75" fill="#A6761D"/>
<circle cx="532.7" cy="367.9" r="2.56" fill="#E6AB02"/>
<circle cx="540.9" cy="370.4" r="2.25" fill="#E6AB02"/>
<circle cx="525.6" cy="374.6" r="2.85" fill="#E6AB02"/>
<circle cx="532.7" cy="376.2" r="4.16" fill="#E6AB02"/>
<circle cx="536.6" cy="373.8" r="3.86" fill="#E6AB02"/>
<circle cx="544.1" cy="374.6" r="2.25" fill="#E6AB02"/>
<circle cx="530.3" cy="388.7" r="4.16" fill="#E6AB02"/>
<circle cx="536.6" cy="385.5" r="3.35" fill="#E6AB02"/>
<circle cx="539.7" cy="389.4" r="2.56" fill="#E6AB02"/>
<circle cx="535.3" cy="393.0" r="2.85" fill="#E6AB02"/>
<circle cx="560.0" cy="387.1" r="6.46" fill="#7570B3"/>
<circle cx="557.7" cy="392.6" r="4.96" fill="#7570B3"/>
<circle cx="567.5" cy="392.2" r="4.96" fill="#7570B3"/>
<circle cx="594.7" cy="439.0" r="2.56" fill="#BEAED4"/>
<circle cx="590.5" cy="440.7" r="1.75" fill="#BEAED4"/>
<circle cx="592.3" cy="452.4" r="2.85" fill="#BEAED4"/>
<circle cx="585.0" cy="457.9" r="2.85" fill="#BEAED4"/>
<circle cx="581.9" cy="461.0" r="2.56" fill="#BEAED4"/>
<circle cx="592.5" cy="459.4" r="1.75" fill="#BEAED4"/>
<circle cx="597.5" cy="457.9" r="2.25" fill="#BEAED4"/>
<circle cx="598.3" cy="461.6" r="2.85" fill="#BEAED4"/>
<circle cx="589.7" cy="465.2" r="1.75" fill="#BEAED4"/>
<circle cx="592.3" cy="467.2" r="1.75" fill="#BEAED4"/>
<circle cx="587.8" cy="474.9" r="1.75" fill="#BEAED4"/>
<circle cx="593.3" cy="475.4" r="1.96" fill="#BEAED4"/>
<circle cx="590.2" cy="493.3" r="2.56" fill="#BEAED4"/>
<circle cx="591.2" cy="562.6" r="1.75" fill="#BEAED4"/>
<circle cx="619.4" cy="383.2" r="1.96" fill="#666666"/>
<circle cx="615.5" cy="391.8" r="2.25" fill="#666666"/>
<circle cx="622.5" cy="392.6" r="2.25" fill="#666666"/>
<circle cx="617.8" cy="398.5" r="2.56" fill="#666666"/>
<circle cx="614.7" cy="401.6" r="1.75" fill="#666666"/>
<circle cx="610.8" cy="400.4" r="3.35" fill="#666666"/>
<circle cx="625.6" cy="401.2" r="2.25" fill="#666666"/>
<circle cx="621.7" cy="400.0" r="3.35" fill="#666666"/>
<circle cx="618.6" cy="401.9" r="2.56" fill="#666666"/>
<circle cx="650.9" cy="375.0" r="2.56" fill="#999999"/>
<circle cx="644.4" cy="383.2" r="2.56" fill="#999999"/>
<circle cx="649.8" cy="383.5" r="2.25" fill="#999999"/>
<circle cx="641.7" cy="388.7" r="2.25" fill="#999999"/>
<circle cx="641.2" cy="394.6" r="2.85" fill="#999999"/>
<circle cx="652.5" cy="394.6" r="2.25" fill="#999999"/>
<circle cx="647.0" cy="402.7" r="2.16" fill="#999999"/>
<circle cx="667.5" cy="386.0" r="2.56" fill="#AA8282"/>
<circle cx="680.0" cy="389.4" r="2.56" fill="#AA8282"/>
<circle cx="670.2" cy="395.4" r="2.25" fill="#AA8282"/>
<circle cx="674.8" cy="399.1" r="2.56" fill="#AA8282"/>
</g>
<rect x="101.40" y="302.30" width="589.00" height="42.45" fill="#fff" stroke="#000" stroke-width="3.0"/>
<text x="395.90" y="332.70" font-family='"Liberation Sans", Arial, sans-serif' font-size="23.73" fill="#1A1A1A" text-anchor="middle">ATP8A2 (variance = 17.28)</text>
<line x1="100.1" y1="343.85" x2="100.1" y2="573.60" stroke="#000" stroke-width="3.2"/>
<line x1="92.77" y1="562.20" x2="100.1" y2="562.20" stroke="#000" stroke-width="3.2"/>
<text x="86.90" y="571.15" font-family='"Liberation Sans", Arial, sans-serif' font-size="23.47" fill="#000" text-anchor="end">0</text>
<line x1="92.77" y1="535.81" x2="100.1" y2="535.81" stroke="#000" stroke-width="3.2"/>
<text x="86.90" y="544.76" font-family='"Liberation Sans", Arial, sans-serif' font-size="23.47" fill="#000" text-anchor="end">10</text>
<line x1="92.77" y1="520.38" x2="100.1" y2="520.38" stroke="#000" stroke-width="3.2"/>
<text x="86.90" y="529.33" font-family='"Liberation Sans", Arial, sans-serif' font-size="23.47" fill="#000" text-anchor="end">20</text>
<line x1="92.77" y1="493.99" x2="100.1" y2="493.99" stroke="#000" stroke-width="3.2"/>
<text x="86.90" y="502.94" font-family='"Liberation Sans", Arial, sans-serif' font-size="23.47" fill="#000" text-anchor="end">50</text>
<line x1="92.77" y1="470.91" x2="100.1" y2="470.91" stroke="#000" stroke-width="3.2"/>
<text x="86.90" y="479.86" font-family='"Liberation Sans", Arial, sans-serif' font-size="23.47" fill="#000" text-anchor="end">100</text>
<line x1="92.77" y1="446.29" x2="100.1" y2="446.29" stroke="#000" stroke-width="3.2"/>
<text x="86.90" y="455.24" font-family='"Liberation Sans", Arial, sans-serif' font-size="23.47" fill="#000" text-anchor="end">200</text>
<line x1="92.77" y1="412.51" x2="100.1" y2="412.51" stroke="#000" stroke-width="3.2"/>
<text x="86.90" y="421.46" font-family='"Liberation Sans", Arial, sans-serif' font-size="23.47" fill="#000" text-anchor="end">500</text>
<line x1="92.77" y1="386.50" x2="100.1" y2="386.50" stroke="#000" stroke-width="3.2"/>
<text x="86.90" y="395.45" font-family='"Liberation Sans", Arial, sans-serif' font-size="23.47" fill="#000" text-anchor="end">1k</text>
<line x1="92.77" y1="360.30" x2="100.1" y2="360.30" stroke="#000" stroke-width="3.2"/>
<text x="86.90" y="369.25" font-family='"Liberation Sans", Arial, sans-serif' font-size="23.47" fill="#000" text-anchor="end">2k</text>
<clipPath id="cp3"><rect x="758.50" y="342.85" width="591.8" height="229.55"/></clipPath>
<g stroke="#000" stroke-width="1.89" clip-path="url(#cp3)">
<circle cx="767.4" cy="414.4" r="8.05" fill="#DC050C"/>
<circle cx="775.2" cy="423.8" r="13.30" fill="#DC050C"/>
<circle cx="772.1" cy="417.6" r="9.50" fill="#DC050C"/>
<circle cx="781.5" cy="403.5" r="5.66" fill="#DC050C"/>
<circle cx="772.1" cy="400.4" r="11.00" fill="#DC050C"/>
<circle cx="773.6" cy="405.0" r="4.96" fill="#DC050C"/>
<circle cx="782.2" cy="416.0" r="3.35" fill="#DC050C"/>
<circle cx="776.8" cy="427.0" r="2.25" fill="#DC050C"/>
<circle cx="774.4" cy="434.0" r="2.85" fill="#DC050C"/>
<circle cx="775.2" cy="438.7" r="3.86" fill="#DC050C"/>
<circle cx="801.8" cy="392.6" r="14.11" fill="#FB8072"/>
<circle cx="811.1" cy="396.5" r="11.00" fill="#FB8072"/>
<circle cx="793.4" cy="401.9" r="2.85" fill="#FB8072"/>
<circle cx="800.2" cy="416.8" r="14.11" fill="#FB8072"/>
<circle cx="799.4" cy="409.8" r="7.25" fill="#FB8072"/>
<circle cx="794.0" cy="395.7" r="2.25" fill="#FB8072"/>
<circle cx="803.0" cy="442.0" r="5.66" fill="#FB8072"/>
<circle cx="799.4" cy="441.0" r="7.25" fill="#FB8072"/>
<circle cx="805.7" cy="438.7" r="7.25" fill="#FB8072"/>
<circle cx="819.7" cy="411.3" r="3.35" fill="#1965B0"/>
<circle cx="826.8" cy="409.8" r="8.05" fill="#1965B0"/>
<circle cx="834.6" cy="408.2" r="6.46" fill="#1965B0"/>
<circle cx="839.2" cy="416.8" r="6.05" fill="#1965B0"/>
<circle cx="831.0" cy="423.0" r="4.96" fill="#1965B0"/>
<circle cx="823.6" cy="420.7" r="4.16" fill="#1965B0"/>
<circle cx="832.2" cy="418.3" r="2.25" fill="#1965B0"/>
<circle cx="833.0" cy="438.7" r="11.80" fill="#1965B0"/>
<circle cx="859.6" cy="551.9" r="6.46" fill="#7BAFDE"/>
<circle cx="852.0" cy="560.0" r="4.96" fill="#7BAFDE"/>
<circle cx="855.7" cy="557.4" r="5.66" fill="#7BAFDE"/>
<circle cx="848.6" cy="562.1" r="3.86" fill="#7BAFDE"/>
<circle cx="867.4" cy="562.1" r="7.25" fill="#7BAFDE"/>
<circle cx="856.4" cy="562.9" r="2.56" fill="#7BAFDE"/>
<circle cx="886.1" cy="537.1" r="3.35" fill="#882E72"/>
<circle cx="886.1" cy="541.0" r="7.25" fill="#882E72"/>
<circle cx="887.7" cy="548.8" r="8.05" fill="#882E72"/>
<circle cx="889.2" cy="558.2" r="5.66" fill="#882E72"/>
<circle cx="881.4" cy="562.9" r="6.46" fill="#882E72"/>
<circle cx="885.3" cy="562.1" r="2.85" fill="#882E72"/>
<circle cx="891.6" cy="562.1" r="2.56" fill="#882E72"/>
<circle cx="896.3" cy="562.1" r="2.56" fill="#882E72"/>
<circle cx="904.1" cy="413.7" r="8.86" fill="#B17BA6"/>
<circle cx="924.4" cy="413.7" r="8.86" fill="#B17BA6"/>
<circle cx="912.7" cy="414.4" r="9.50" fill="#B17BA6"/>
<circle cx="908.0" cy="423.8" r="4.16" fill="#B17BA6"/>
<circle cx="917.4" cy="423.8" r="4.16" fill="#B17BA6"/>
<circle cx="917.4" cy="442.6" r="5.36" fill="#B17BA6"/>
<circle cx="911.9" cy="448.8" r="8.05" fill="#B17BA6"/>
<circle cx="914.2" cy="454.3" r="5.36" fill="#B17BA6"/>
<circle cx="934.6" cy="434.8" r="7.25" fill="#FF7F00"/>
<circle cx="937.7" cy="430.0" r="8.86" fill="#FF7F00"/>
<circle cx="948.6" cy="428.5" r="8.05" fill="#FF7F00"/>
<circle cx="943.9" cy="441.0" r="4.96" fill="#FF7F00"/>
<circle cx="951.8" cy="439.4" r="4.96" fill="#FF7F00"/>
<circle cx="947.8" cy="451.9" r="6.46" fill="#FF7F00"/>
<circle cx="936.9" cy="452.7" r="3.35" fill="#FF7F00"/>
<circle cx="943.1" cy="453.2" r="2.85" fill="#FF7F00"/>
<circle cx="964.1" cy="411.3" r="6.05" fill="#FDB462"/>
<circle cx="976.1" cy="412.1" r="6.05" fill="#FDB462"/>
<circle cx="966.4" cy="424.6" r="4.46" fill="#FDB462"/>
<circle cx="973.5" cy="423.8" r="4.16" fill="#FDB462"/>
<circle cx="979.7" cy="431.6" r="7.25" fill="#FDB462"/>
<circle cx="961.0" cy="435.5" r="5.66" fill="#FDB462"/>
<circle cx="966.4" cy="433.2" r="2.85" fill="#FDB462"/>
<circle cx="971.9" cy="434.0" r="4.16" fill="#FDB462"/>
<circle cx="977.4" cy="437.9" r="1.75" fill="#FDB462"/>
<circle cx="969.6" cy="446.0" r="1.96" fill="#FDB462"/>
<circle cx="971.9" cy="452.4" r="1.96" fill="#FDB462"/>
<circle cx="965.3" cy="459.8" r="1.96" fill="#FDB462"/>
<circle cx="974.2" cy="462.1" r="1.96" fill="#FDB462"/>
<circle cx="967.2" cy="465.2" r="1.96" fill="#FDB462"/>
<circle cx="970.7" cy="467.6" r="1.96" fill="#FDB462"/>
<circle cx="997.7" cy="527.7" r="2.85" fill="#E7298A"/>
<circle cx="989.1" cy="562.1" r="5.36" fill="#E7298A"/>
<circle cx="999.2" cy="559.0" r="5.66" fill="#E7298A"/>
<circle cx="993.8" cy="562.9" r="5.36" fill="#E7298A"/>
<circle cx="1005.5" cy="562.1" r="3.86" fill="#E7298A"/>
<circle cx="1022.7" cy="357.4" r="4.96" fill="#E78AC3"/>
<circle cx="1032.0" cy="356.6" r="4.16" fill="#E78AC3"/>
<circle cx="1027.4" cy="362.9" r="4.16" fill="#E78AC3"/>
<circle cx="1016.4" cy="369.9" r="6.96" fill="#E78AC3"/>
<circle cx="1035.2" cy="370.7" r="6.46" fill="#E78AC3"/>
<circle cx="1024.2" cy="375.4" r="1.75" fill="#E78AC3"/>
<circle cx="1028.9" cy="380.8" r="4.46" fill="#E78AC3"/>
<circle cx="1030.5" cy="389.4" r="5.36" fill="#E78AC3"/>
<circle cx="1019.6" cy="386.0" r="1.96" fill="#E78AC3"/>
<circle cx="1023.9" cy="397.6" r="1.96" fill="#E78AC3"/>
<circle cx="1026.3" cy="406.6" r="2.16" fill="#E78AC3"/>
<circle cx="1054.7" cy="417.9" r="2.85" fill="#33A02C"/>
<circle cx="1050.0" cy="421.0" r="2.56" fill="#33A02C"/>
<circle cx="1055.0" cy="425.0" r="4.16" fill="#33A02C"/>
<circle cx="1059.4" cy="425.1" r="2.56" fill="#33A02C"/>
<circle cx="1047.7" cy="431.3" r="3.86" fill="#33A02C"/>
<circle cx="1062.5" cy="431.3" r="4.16" fill="#33A02C"/>
<circle cx="1055.5" cy="433.2" r="1.75" fill="#33A02C"/>
<circle cx="1048.5" cy="439.4" r="4.96" fill="#33A02C"/>
<circle cx="1061.0" cy="441.0" r="5.36" fill="#33A02C"/>
<circle cx="1057.8" cy="445.7" r="4.16" fill="#33A02C"/>
<circle cx="1046.9" cy="443.7" r="2.85" fill="#33A02C"/>
<circle cx="1052.4" cy="451.9" r="3.35" fill="#33A02C"/>
<circle cx="1054.2" cy="456.3" r="2.56" fill="#33A02C"/>
<circle cx="1082.8" cy="522.2" r="3.35" fill="#B2DF8A"/>
<circle cx="1081.8" cy="538.2" r="2.85" fill="#B2DF8A"/>
<circle cx="1082.4" cy="543.8" r="1.75" fill="#B2DF8A"/>
<circle cx="1080.5" cy="553.5" r="2.85" fill="#B2DF8A"/>
<circle cx="1084.9" cy="555.0" r="3.35" fill="#B2DF8A"/>
<circle cx="1078.1" cy="562.1" r="8.05" fill="#B2DF8A"/>
<circle cx="1075.0" cy="562.1" r="2.25" fill="#B2DF8A"/>
<circle cx="1089.9" cy="562.1" r="2.85" fill="#B2DF8A"/>
<circle cx="1110.7" cy="466.3" r="1.96" fill="#55A1B1"/>
<circle cx="1109.9" cy="503.5" r="2.56" fill="#55A1B1"/>
<circle cx="1110.2" cy="523.8" r="2.25" fill="#55A1B1"/>
<circle cx="1109.4" cy="535.5" r="3.35" fill="#55A1B1"/>
<circle cx="1111.0" cy="551.6" r="2.85" fill="#55A1B1"/>
<circle cx="1109.4" cy="558.2" r="2.85" fill="#55A1B1"/>
<circle cx="1103.1" cy="562.1" r="4.46" fill="#55A1B1"/>
<circle cx="1108.5" cy="562.6" r="2.25" fill="#55A1B1"/>
<circle cx="1114.1" cy="562.1" r="3.86" fill="#55A1B1"/>
<circle cx="1141.4" cy="496.5" r="2.56" fill="#8DD3C7"/>
<circle cx="1137.1" cy="523.8" r="2.25" fill="#8DD3C7"/>
<circle cx="1129.7" cy="532.9" r="5.36" fill="#8DD3C7"/>
<circle cx="1141.1" cy="531.6" r="4.96" fill="#8DD3C7"/>
<circle cx="1142.7" cy="536.0" r="2.56" fill="#8DD3C7"/>
<circle cx="1136.0" cy="547.6" r="5.66" fill="#8DD3C7"/>
<circle cx="1138.0" cy="562.6" r="5.36" fill="#8DD3C7"/>
<circle cx="1163.8" cy="435.5" r="2.56" fill="#A6761D"/>
<circle cx="1168.8" cy="442.6" r="2.25" fill="#A6761D"/>
<circle cx="1165.7" cy="446.0" r="1.75" fill="#A6761D"/>
<circle cx="1159.4" cy="452.0" r="1.75" fill="#A6761D"/>
<circle cx="1156.3" cy="456.3" r="1.75" fill="#A6761D"/>
<circle cx="1172.4" cy="452.2" r="1.75" fill="#A6761D"/>
<circle cx="1171.9" cy="459.0" r="3.35" fill="#A6761D"/>
<circle cx="1168.8" cy="455.8" r="5.66" fill="#A6761D"/>
<circle cx="1161.8" cy="453.5" r="5.66" fill="#A6761D"/>
<circle cx="1165.0" cy="462.0" r="2.56" fill="#A6761D"/>
<circle cx="1168.8" cy="470.4" r="2.25" fill="#A6761D"/>
<circle cx="1167.7" cy="466.8" r="3.86" fill="#A6761D"/>
<circle cx="1161.4" cy="469.1" r="2.25" fill="#A6761D"/>
<circle cx="1166.4" cy="478.2" r="1.35" fill="#A6761D"/>
<circle cx="1163.8" cy="475.7" r="2.85" fill="#A6761D"/>
<circle cx="1188.3" cy="366.3" r="3.35" fill="#E6AB02"/>
<circle cx="1184.4" cy="372.2" r="2.56" fill="#E6AB02"/>
<circle cx="1189.9" cy="370.4" r="2.56" fill="#E6AB02"/>
<circle cx="1195.3" cy="371.5" r="2.25" fill="#E6AB02"/>
<circle cx="1200.8" cy="370.2" r="2.56" fill="#E6AB02"/>
<circle cx="1198.5" cy="382.1" r="3.86" fill="#E6AB02"/>
<circle cx="1192.2" cy="386.3" r="4.16" fill="#E6AB02"/>
<circle cx="1195.0" cy="394.9" r="4.16" fill="#E6AB02"/>
<circle cx="1190.7" cy="400.7" r="4.96" fill="#E6AB02"/>
<circle cx="1190.7" cy="418.0" r="3.86" fill="#E6AB02"/>
<circle cx="1197.7" cy="418.0" r="2.85" fill="#E6AB02"/>
<circle cx="1194.2" cy="418.0" r="3.35" fill="#E6AB02"/>
<circle cx="1227.4" cy="411.0" r="6.46" fill="#7570B3"/>
<circle cx="1214.1" cy="409.8" r="5.36" fill="#7570B3"/>
<circle cx="1218.0" cy="414.4" r="4.16" fill="#7570B3"/>
<circle cx="1221.9" cy="417.9" r="4.46" fill="#7570B3"/>
<circle cx="1253.6" cy="484.0" r="1.96" fill="#BEAED4"/>
<circle cx="1248.9" cy="487.9" r="1.96" fill="#BEAED4"/>
<circle cx="1251.3" cy="496.0" r="2.56" fill="#BEAED4"/>
<circle cx="1245.8" cy="504.3" r="2.25" fill="#BEAED4"/>
<circle cx="1254.2" cy="510.0" r="2.85" fill="#BEAED4"/>
<circle cx="1246.9" cy="511.3" r="1.96" fill="#BEAED4"/>
<circle cx="1240.2" cy="522.6" r="1.96" fill="#BEAED4"/>
<circle cx="1251.1" cy="522.0" r="2.56" fill="#BEAED4"/>
<circle cx="1246.9" cy="525.8" r="2.85" fill="#BEAED4"/>
<circle cx="1258.2" cy="524.1" r="2.56" fill="#BEAED4"/>
<circle cx="1252.0" cy="528.2" r="2.56" fill="#BEAED4"/>
<circle cx="1247.7" cy="548.5" r="2.85" fill="#BEAED4"/>
<circle cx="1246.1" cy="562.6" r="1.75" fill="#BEAED4"/>
<circle cx="1253.2" cy="562.6" r="1.75" fill="#BEAED4"/>
<circle cx="1249.7" cy="562.6" r="1.96" fill="#BEAED4"/>
<circle cx="1278.6" cy="399.1" r="1.96" fill="#666666"/>
<circle cx="1269.1" cy="405.8" r="2.25" fill="#666666"/>
<circle cx="1284.4" cy="409.0" r="2.25" fill="#666666"/>
<circle cx="1276.6" cy="432.4" r="1.96" fill="#666666"/>
<circle cx="1279.7" cy="453.0" r="2.25" fill="#666666"/>
<circle cx="1269.2" cy="462.6" r="3.06" fill="#666666"/>
<circle cx="1283.2" cy="465.2" r="3.35" fill="#666666"/>
<circle cx="1273.2" cy="473.3" r="3.35" fill="#666666"/>
<circle cx="1277.4" cy="493.7" r="3.66" fill="#666666"/>
<circle cx="1309.9" cy="401.5" r="2.56" fill="#999999"/>
<circle cx="1298.5" cy="412.1" r="2.25" fill="#999999"/>
<circle cx="1303.5" cy="409.8" r="2.25" fill="#999999"/>
<circle cx="1308.3" cy="411.0" r="1.96" fill="#999999"/>
<circle cx="1310.5" cy="414.1" r="2.85" fill="#999999"/>
<circle cx="1300.8" cy="415.2" r="2.25" fill="#999999"/>
<circle cx="1305.5" cy="436.6" r="2.56" fill="#999999"/>
<circle cx="1328.5" cy="445.7" r="2.25" fill="#AA8282"/>
<circle cx="1336.8" cy="449.6" r="2.56" fill="#AA8282"/>
<circle cx="1327.7" cy="457.7" r="2.56" fill="#AA8282"/>
<circle cx="1333.3" cy="457.9" r="2.25" fill="#AA8282"/>
</g>
<rect x="759.80" y="302.30" width="589.00" height="42.45" fill="#fff" stroke="#000" stroke-width="3.0"/>
<text x="1054.30" y="332.70" font-family='"Liberation Sans", Arial, sans-serif' font-size="23.73" fill="#1A1A1A" text-anchor="middle">EPHA6 (variance = 17.07)</text>
<line x1="758.5" y1="343.85" x2="758.5" y2="573.60" stroke="#000" stroke-width="3.2"/>
<line x1="751.17" y1="562.20" x2="758.5" y2="562.20" stroke="#000" stroke-width="3.2"/>
<text x="745.30" y="571.15" font-family='"Liberation Sans", Arial, sans-serif' font-size="23.47" fill="#000" text-anchor="end">0</text>
<line x1="751.17" y1="538.60" x2="758.5" y2="538.60" stroke="#000" stroke-width="3.2"/>
<text x="745.30" y="547.55" font-family='"Liberation Sans", Arial, sans-serif' font-size="23.47" fill="#000" text-anchor="end">10</text>
<line x1="751.17" y1="524.79" x2="758.5" y2="524.79" stroke="#000" stroke-width="3.2"/>
<text x="745.30" y="533.74" font-family='"Liberation Sans", Arial, sans-serif' font-size="23.47" fill="#000" text-anchor="end">20</text>
<line x1="751.17" y1="501.19" x2="758.5" y2="501.19" stroke="#000" stroke-width="3.2"/>
<text x="745.30" y="510.14" font-family='"Liberation Sans", Arial, sans-serif' font-size="23.47" fill="#000" text-anchor="end">50</text>
<line x1="751.17" y1="480.54" x2="758.5" y2="480.54" stroke="#000" stroke-width="3.2"/>
<text x="745.30" y="489.49" font-family='"Liberation Sans", Arial, sans-serif' font-size="23.47" fill="#000" text-anchor="end">100</text>
<line x1="751.17" y1="458.52" x2="758.5" y2="458.52" stroke="#000" stroke-width="3.2"/>
<text x="745.30" y="467.47" font-family='"Liberation Sans", Arial, sans-serif' font-size="23.47" fill="#000" text-anchor="end">200</text>
<line x1="751.17" y1="428.31" x2="758.5" y2="428.31" stroke="#000" stroke-width="3.2"/>
<text x="745.30" y="437.26" font-family='"Liberation Sans", Arial, sans-serif' font-size="23.47" fill="#000" text-anchor="end">500</text>
<line x1="751.17" y1="405.04" x2="758.5" y2="405.04" stroke="#000" stroke-width="3.2"/>
<text x="745.30" y="413.99" font-family='"Liberation Sans", Arial, sans-serif' font-size="23.47" fill="#000" text-anchor="end">1k</text>
<line x1="751.17" y1="381.61" x2="758.5" y2="381.61" stroke="#000" stroke-width="3.2"/>
<text x="745.30" y="390.56" font-family='"Liberation Sans", Arial, sans-serif' font-size="23.47" fill="#000" text-anchor="end">2k</text>
<line x1="751.17" y1="350.51" x2="758.5" y2="350.51" stroke="#000" stroke-width="3.2"/>
<text x="745.30" y="359.46" font-family='"Liberation Sans", Arial, sans-serif' font-size="23.47" fill="#000" text-anchor="end">5k</text>
<clipPath id="cp4"><rect x="100.10" y="629.25" width="591.8" height="229.55"/></clipPath>
<g stroke="#000" stroke-width="1.89" clip-path="url(#cp4)">
<circle cx="109.4" cy="697.3" r="8.86" fill="#DC050C"/>
<circle cx="118.8" cy="705.1" r="14.90" fill="#DC050C"/>
<circle cx="125.8" cy="698.9" r="8.86" fill="#DC050C"/>
<circle cx="110.9" cy="680.1" r="10.21" fill="#DC050C"/>
<circle cx="121.9" cy="681.7" r="11.80" fill="#DC050C"/>
<circle cx="114.1" cy="690.3" r="4.96" fill="#DC050C"/>
<circle cx="114.8" cy="707.5" r="2.56" fill="#DC050C"/>
<circle cx="116.9" cy="713.0" r="3.86" fill="#DC050C"/>
<circle cx="151.0" cy="686.0" r="15.61" fill="#FB8072"/>
<circle cx="156.2" cy="678.6" r="10.21" fill="#FB8072"/>
<circle cx="150.8" cy="680.1" r="11.00" fill="#FB8072"/>
<circle cx="134.4" cy="694.2" r="11.80" fill="#FB8072"/>
<circle cx="139.8" cy="695.8" r="8.05" fill="#FB8072"/>
<circle cx="145.3" cy="687.9" r="11.00" fill="#FB8072"/>
<circle cx="144.5" cy="714.5" r="8.05" fill="#FB8072"/>
<circle cx="146.1" cy="709.8" r="7.25" fill="#FB8072"/>
<circle cx="171.9" cy="689.5" r="8.05" fill="#1965B0"/>
<circle cx="172.7" cy="695.8" r="6.46" fill="#1965B0"/>
<circle cx="180.0" cy="700.0" r="4.16" fill="#1965B0"/>
<circle cx="182.8" cy="705.9" r="5.36" fill="#1965B0"/>
<circle cx="160.9" cy="705.9" r="4.96" fill="#1965B0"/>
<circle cx="172.7" cy="712.9" r="11.80" fill="#1965B0"/>
<circle cx="205.5" cy="784.8" r="7.25" fill="#7BAFDE"/>
<circle cx="198.4" cy="789.5" r="6.46" fill="#7BAFDE"/>
<circle cx="193.8" cy="793.4" r="4.96" fill="#7BAFDE"/>
<circle cx="206.2" cy="793.4" r="6.46" fill="#7BAFDE"/>
<circle cx="193.8" cy="800.4" r="4.96" fill="#7BAFDE"/>
<circle cx="190.6" cy="811.4" r="8.86" fill="#7BAFDE"/>
<circle cx="209.4" cy="812.2" r="7.25" fill="#7BAFDE"/>
<circle cx="193.8" cy="822.3" r="6.46" fill="#7BAFDE"/>
<circle cx="197.7" cy="817.6" r="8.86" fill="#7BAFDE"/>
<circle cx="203.1" cy="837.9" r="4.16" fill="#7BAFDE"/>
<circle cx="197.7" cy="840.3" r="2.56" fill="#7BAFDE"/>
<circle cx="200.8" cy="848.9" r="4.16" fill="#7BAFDE"/>
<circle cx="225.5" cy="777.8" r="8.86" fill="#882E72"/>
<circle cx="224.2" cy="787.2" r="5.66" fill="#882E72"/>
<circle cx="232.8" cy="784.0" r="2.25" fill="#882E72"/>
<circle cx="218.0" cy="793.4" r="5.66" fill="#882E72"/>
<circle cx="225.8" cy="795.8" r="4.96" fill="#882E72"/>
<circle cx="237.5" cy="794.2" r="8.86" fill="#882E72"/>
<circle cx="223.4" cy="802.8" r="2.85" fill="#882E72"/>
<circle cx="232.5" cy="807.5" r="2.16" fill="#882E72"/>
<circle cx="225.8" cy="813.7" r="4.96" fill="#882E72"/>
<circle cx="222.7" cy="820.8" r="6.46" fill="#882E72"/>
<circle cx="233.6" cy="823.1" r="6.05" fill="#882E72"/>
<circle cx="221.1" cy="848.9" r="2.25" fill="#882E72"/>
<circle cx="225.0" cy="848.6" r="2.25" fill="#882E72"/>
<circle cx="228.1" cy="848.9" r="3.35" fill="#882E72"/>
<circle cx="234.4" cy="848.9" r="2.56" fill="#882E72"/>
<circle cx="246.1" cy="675.4" r="9.15" fill="#B17BA6"/>
<circle cx="263.3" cy="675.4" r="8.86" fill="#B17BA6"/>
<circle cx="253.9" cy="676.2" r="8.86" fill="#B17BA6"/>
<circle cx="247.7" cy="678.6" r="4.16" fill="#B17BA6"/>
<circle cx="259.4" cy="707.5" r="4.96" fill="#B17BA6"/>
<circle cx="253.9" cy="712.9" r="8.05" fill="#B17BA6"/>
<circle cx="256.2" cy="721.5" r="5.36" fill="#B17BA6"/>
<circle cx="273.3" cy="677.0" r="6.46" fill="#FF7F00"/>
<circle cx="292.8" cy="676.2" r="7.25" fill="#FF7F00"/>
<circle cx="281.9" cy="682.0" r="5.66" fill="#FF7F00"/>
<circle cx="281.9" cy="676.7" r="8.55" fill="#FF7F00"/>
<circle cx="284.2" cy="697.6" r="2.25" fill="#FF7F00"/>
<circle cx="308.0" cy="667.3" r="2.16" fill="#FDB462"/>
<circle cx="316.7" cy="669.5" r="2.16" fill="#FDB462"/>
<circle cx="306.9" cy="677.0" r="5.66" fill="#FDB462"/>
<circle cx="317.0" cy="676.2" r="4.16" fill="#FDB462"/>
<circle cx="303.8" cy="683.2" r="5.36" fill="#FDB462"/>
<circle cx="313.6" cy="682.5" r="5.66" fill="#FDB462"/>
<circle cx="320.2" cy="689.2" r="4.46" fill="#FDB462"/>
<circle cx="313.1" cy="691.1" r="5.36" fill="#FDB462"/>
<circle cx="306.9" cy="692.6" r="2.56" fill="#FDB462"/>
<circle cx="315.0" cy="698.9" r="2.85" fill="#FDB462"/>
<circle cx="309.2" cy="699.7" r="1.75" fill="#FDB462"/>
<circle cx="312.0" cy="705.1" r="1.96" fill="#FDB462"/>
<circle cx="338.1" cy="755.4" r="2.85" fill="#E7298A"/>
<circle cx="339.4" cy="803.6" r="4.96" fill="#E7298A"/>
<circle cx="343.6" cy="801.2" r="2.56" fill="#E7298A"/>
<circle cx="333.4" cy="813.7" r="6.05" fill="#E7298A"/>
<circle cx="345.9" cy="814.5" r="4.96" fill="#E7298A"/>
<circle cx="331.1" cy="822.3" r="4.96" fill="#E7298A"/>
<circle cx="347.5" cy="823.1" r="6.46" fill="#E7298A"/>
<circle cx="338.9" cy="830.1" r="5.36" fill="#E7298A"/>
<circle cx="335.8" cy="838.7" r="4.96" fill="#E7298A"/>
<circle cx="342.8" cy="838.7" r="3.35" fill="#E7298A"/>
<circle cx="343.6" cy="845.8" r="3.86" fill="#E7298A"/>
<circle cx="336.6" cy="848.6" r="3.35" fill="#E7298A"/>
<circle cx="369.7" cy="670.4" r="2.16" fill="#E78AC3"/>
<circle cx="358.1" cy="689.0" r="4.46" fill="#E78AC3"/>
<circle cx="365.0" cy="691.9" r="3.35" fill="#E78AC3"/>
<circle cx="369.4" cy="686.0" r="4.46" fill="#E78AC3"/>
<circle cx="375.9" cy="690.3" r="1.75" fill="#E78AC3"/>
<circle cx="363.1" cy="698.1" r="5.36" fill="#E78AC3"/>
<circle cx="370.2" cy="701.2" r="6.96" fill="#E78AC3"/>
<circle cx="366.7" cy="707.5" r="4.96" fill="#E78AC3"/>
<circle cx="367.8" cy="719.2" r="5.36" fill="#E78AC3"/>
<circle cx="392.0" cy="669.2" r="4.96" fill="#33A02C"/>
<circle cx="394.4" cy="674.0" r="2.85" fill="#33A02C"/>
<circle cx="386.6" cy="677.0" r="4.96" fill="#33A02C"/>
<circle cx="406.1" cy="674.7" r="4.16" fill="#33A02C"/>
<circle cx="400.6" cy="677.0" r="4.96" fill="#33A02C"/>
<circle cx="395.9" cy="675.4" r="4.96" fill="#33A02C"/>
<circle cx="393.6" cy="680.1" r="3.35" fill="#33A02C"/>
<circle cx="395.2" cy="690.0" r="2.25" fill="#33A02C"/>
<circle cx="395.9" cy="693.1" r="3.35" fill="#33A02C"/>
<circle cx="424.8" cy="736.4" r="3.86" fill="#B2DF8A"/>
<circle cx="422.8" cy="755.4" r="2.16" fill="#B2DF8A"/>
<circle cx="423.8" cy="763.0" r="2.85" fill="#B2DF8A"/>
<circle cx="421.4" cy="772.3" r="3.35" fill="#B2DF8A"/>
<circle cx="428.8" cy="778.6" r="2.25" fill="#B2DF8A"/>
<circle cx="422.5" cy="781.7" r="3.35" fill="#B2DF8A"/>
<circle cx="428.0" cy="784.0" r="2.85" fill="#B2DF8A"/>
<circle cx="417.0" cy="784.0" r="2.85" fill="#B2DF8A"/>
<circle cx="420.2" cy="788.7" r="3.35" fill="#B2DF8A"/>
<circle cx="425.6" cy="789.5" r="3.35" fill="#B2DF8A"/>
<circle cx="431.1" cy="791.5" r="3.86" fill="#B2DF8A"/>
<circle cx="414.7" cy="790.3" r="2.25" fill="#B2DF8A"/>
<circle cx="423.3" cy="796.0" r="3.35" fill="#B2DF8A"/>
<circle cx="424.5" cy="803.9" r="2.56" fill="#B2DF8A"/>
<circle cx="421.4" cy="808.2" r="1.75" fill="#B2DF8A"/>
<circle cx="424.8" cy="823.1" r="3.86" fill="#B2DF8A"/>
<circle cx="422.8" cy="833.6" r="2.16" fill="#B2DF8A"/>
<circle cx="423.8" cy="848.6" r="7.55" fill="#B2DF8A"/>
<circle cx="452.5" cy="718.4" r="1.96" fill="#55A1B1"/>
<circle cx="450.9" cy="737.6" r="2.85" fill="#55A1B1"/>
<circle cx="451.9" cy="784.5" r="4.16" fill="#55A1B1"/>
<circle cx="448.3" cy="790.0" r="1.75" fill="#55A1B1"/>
<circle cx="455.3" cy="801.2" r="3.86" fill="#55A1B1"/>
<circle cx="450.6" cy="805.9" r="3.35" fill="#55A1B1"/>
<circle cx="447.5" cy="809.0" r="3.35" fill="#55A1B1"/>
<circle cx="454.5" cy="809.0" r="4.16" fill="#55A1B1"/>
<circle cx="449.8" cy="821.5" r="3.86" fill="#55A1B1"/>
<circle cx="455.0" cy="818.9" r="2.25" fill="#55A1B1"/>
<circle cx="452.5" cy="837.2" r="4.16" fill="#55A1B1"/>
<circle cx="443.6" cy="841.8" r="3.86" fill="#55A1B1"/>
<circle cx="442.8" cy="848.9" r="1.75" fill="#55A1B1"/>
<circle cx="447.5" cy="848.9" r="1.75" fill="#55A1B1"/>
<circle cx="453.0" cy="848.9" r="1.75" fill="#55A1B1"/>
<circle cx="457.7" cy="848.9" r="1.75" fill="#55A1B1"/>
<circle cx="472.5" cy="669.2" r="5.66" fill="#8DD3C7"/>
<circle cx="476.9" cy="666.8" r="5.36" fill="#8DD3C7"/>
<circle cx="485.0" cy="665.3" r="5.36" fill="#8DD3C7"/>
<circle cx="483.4" cy="670.0" r="4.16" fill="#8DD3C7"/>
<circle cx="479.5" cy="679.8" r="2.85" fill="#8DD3C7"/>
<circle cx="504.5" cy="642.6" r="2.25" fill="#A6761D"/>
<circle cx="512.3" cy="644.2" r="2.25" fill="#A6761D"/>
<circle cx="506.9" cy="646.5" r="1.75" fill="#A6761D"/>
<circle cx="503.8" cy="648.9" r="1.75" fill="#A6761D"/>
<circle cx="510.8" cy="648.9" r="1.75" fill="#A6761D"/>
<circle cx="497.5" cy="652.3" r="5.36" fill="#A6761D"/>
<circle cx="515.5" cy="652.8" r="5.36" fill="#A6761D"/>
<circle cx="510.0" cy="653.6" r="4.16" fill="#A6761D"/>
<circle cx="500.9" cy="654.3" r="1.75" fill="#A6761D"/>
<circle cx="506.6" cy="664.8" r="1.75" fill="#A6761D"/>
<circle cx="507.3" cy="672.6" r="2.85" fill="#A6761D"/>
<circle cx="530.3" cy="657.5" r="2.85" fill="#E6AB02"/>
<circle cx="540.9" cy="657.5" r="2.85" fill="#E6AB02"/>
<circle cx="525.3" cy="660.6" r="2.25" fill="#E6AB02"/>
<circle cx="537.0" cy="659.5" r="1.96" fill="#E6AB02"/>
<circle cx="542.8" cy="661.7" r="3.35" fill="#E6AB02"/>
<circle cx="531.1" cy="664.5" r="3.86" fill="#E6AB02"/>
<circle cx="537.3" cy="665.3" r="3.86" fill="#E6AB02"/>
<circle cx="532.7" cy="673.1" r="2.85" fill="#E6AB02"/>
<circle cx="537.8" cy="673.6" r="3.35" fill="#E6AB02"/>
<circle cx="535.5" cy="678.6" r="2.85" fill="#E6AB02"/>
<circle cx="555.0" cy="678.6" r="5.36" fill="#7570B3"/>
<circle cx="568.6" cy="679.3" r="4.96" fill="#7570B3"/>
<circle cx="560.8" cy="682.5" r="4.16" fill="#7570B3"/>
<circle cx="563.9" cy="685.6" r="4.96" fill="#7570B3"/>
<circle cx="590.5" cy="682.0" r="2.56" fill="#BEAED4"/>
<circle cx="595.9" cy="681.7" r="2.25" fill="#BEAED4"/>
<circle cx="586.6" cy="685.6" r="2.25" fill="#BEAED4"/>
<circle cx="592.0" cy="685.6" r="2.25" fill="#BEAED4"/>
<circle cx="581.6" cy="687.2" r="2.85" fill="#BEAED4"/>
<circle cx="599.8" cy="687.6" r="2.85" fill="#BEAED4"/>
<circle cx="588.1" cy="689.2" r="2.25" fill="#BEAED4"/>
<circle cx="593.6" cy="688.7" r="1.96" fill="#BEAED4"/>
<circle cx="592.5" cy="699.7" r="1.96" fill="#BEAED4"/>
<circle cx="589.7" cy="705.9" r="1.96" fill="#BEAED4"/>
<circle cx="591.2" cy="712.6" r="1.96" fill="#BEAED4"/>
<circle cx="619.7" cy="698.9" r="2.25" fill="#666666"/>
<circle cx="610.8" cy="704.7" r="1.96" fill="#666666"/>
<circle cx="627.2" cy="707.0" r="3.35" fill="#666666"/>
<circle cx="616.2" cy="709.3" r="2.85" fill="#666666"/>
<circle cx="621.7" cy="711.1" r="3.35" fill="#666666"/>
<circle cx="612.3" cy="713.4" r="3.86" fill="#666666"/>
<circle cx="621.7" cy="733.2" r="1.96" fill="#666666"/>
<circle cx="616.2" cy="737.5" r="2.25" fill="#666666"/>
<circle cx="619.0" cy="743.1" r="2.25" fill="#666666"/>
<circle cx="650.9" cy="650.8" r="2.85" fill="#999999"/>
<circle cx="638.4" cy="657.0" r="2.56" fill="#999999"/>
<circle cx="644.4" cy="655.4" r="2.25" fill="#999999"/>
<circle cx="652.5" cy="657.0" r="2.25" fill="#999999"/>
<circle cx="649.0" cy="656.0" r="1.75" fill="#999999"/>
<circle cx="647.0" cy="661.1" r="1.96" fill="#999999"/>
<circle cx="670.5" cy="710.9" r="2.25" fill="#AA8282"/>
<circle cx="678.3" cy="712.9" r="2.25" fill="#AA8282"/>
<circle cx="669.0" cy="716.1" r="2.25" fill="#AA8282"/>
<circle cx="675.2" cy="716.4" r="2.25" fill="#AA8282"/>
</g>
<rect x="101.40" y="588.70" width="589.00" height="42.45" fill="#fff" stroke="#000" stroke-width="3.0"/>
<text x="395.90" y="619.10" font-family='"Liberation Sans", Arial, sans-serif' font-size="23.73" fill="#1A1A1A" text-anchor="middle">KCNIP4 (variance = 17.04)</text>
<line x1="100.1" y1="630.25" x2="100.1" y2="860.00" stroke="#000" stroke-width="3.2"/>
<line x1="92.77" y1="848.20" x2="100.1" y2="848.20" stroke="#000" stroke-width="3.2"/>
<text x="86.90" y="857.15" font-family='"Liberation Sans", Arial, sans-serif' font-size="23.47" fill="#000" text-anchor="end">0</text>
<line x1="92.77" y1="829.96" x2="100.1" y2="829.96" stroke="#000" stroke-width="3.2"/>
<text x="86.90" y="838.91" font-family='"Liberation Sans", Arial, sans-serif' font-size="23.47" fill="#000" text-anchor="end">10</text>
<line x1="92.77" y1="819.30" x2="100.1" y2="819.30" stroke="#000" stroke-width="3.2"/>
<text x="86.90" y="828.25" font-family='"Liberation Sans", Arial, sans-serif' font-size="23.47" fill="#000" text-anchor="end">20</text>
<line x1="92.77" y1="801.06" x2="100.1" y2="801.06" stroke="#000" stroke-width="3.2"/>
<text x="86.90" y="810.01" font-family='"Liberation Sans", Arial, sans-serif' font-size="23.47" fill="#000" text-anchor="end">50</text>
<line x1="92.77" y1="785.11" x2="100.1" y2="785.11" stroke="#000" stroke-width="3.2"/>
<text x="86.90" y="794.06" font-family='"Liberation Sans", Arial, sans-serif' font-size="23.47" fill="#000" text-anchor="end">100</text>
<line x1="92.77" y1="768.10" x2="100.1" y2="768.10" stroke="#000" stroke-width="3.2"/>
<text x="86.90" y="777.05" font-family='"Liberation Sans", Arial, sans-serif' font-size="23.47" fill="#000" text-anchor="end">200</text>
<line x1="92.77" y1="744.76" x2="100.1" y2="744.76" stroke="#000" stroke-width="3.2"/>
<text x="86.90" y="753.71" font-family='"Liberation Sans", Arial, sans-serif' font-size="23.47" fill="#000" text-anchor="end">500</text>
<line x1="92.77" y1="726.78" x2="100.1" y2="726.78" stroke="#000" stroke-width="3.2"/>
<text x="86.90" y="735.73" font-family='"Liberation Sans", Arial, sans-serif' font-size="23.47" fill="#000" text-anchor="end">1k</text>
<line x1="92.77" y1="708.67" x2="100.1" y2="708.67" stroke="#000" stroke-width="3.2"/>
<text x="86.90" y="717.62" font-family='"Liberation Sans", Arial, sans-serif' font-size="23.47" fill="#000" text-anchor="end">2k</text>
<line x1="92.77" y1="684.64" x2="100.1" y2="684.64" stroke="#000" stroke-width="3.2"/>
<text x="86.90" y="693.59" font-family='"Liberation Sans", Arial, sans-serif' font-size="23.47" fill="#000" text-anchor="end">5k</text>
<line x1="92.77" y1="666.43" x2="100.1" y2="666.43" stroke="#000" stroke-width="3.2"/>
<text x="86.90" y="675.38" font-family='"Liberation Sans", Arial, sans-serif' font-size="23.47" fill="#000" text-anchor="end">10k</text>
<line x1="92.77" y1="648.21" x2="100.1" y2="648.21" stroke="#000" stroke-width="3.2"/>
<text x="86.90" y="657.16" font-family='"Liberation Sans", Arial, sans-serif' font-size="23.47" fill="#000" text-anchor="end">20k</text>
<clipPath id="cp5"><rect x="758.50" y="629.25" width="591.8" height="229.55"/></clipPath>
<g stroke="#000" stroke-width="1.89" clip-path="url(#cp5)">
<circle cx="775.2" cy="658.2" r="14.11" fill="#DC050C"/>
<circle cx="768.9" cy="662.2" r="9.50" fill="#DC050C"/>
<circle cx="776.0" cy="647.3" r="2.85" fill="#DC050C"/>
<circle cx="783.8" cy="659.8" r="4.16" fill="#DC050C"/>
<circle cx="776.0" cy="683.2" r="2.56" fill="#DC050C"/>
<circle cx="775.2" cy="688.0" r="4.46" fill="#DC050C"/>
<circle cx="802.5" cy="664.5" r="15.70" fill="#FB8072"/>
<circle cx="791.6" cy="675.4" r="11.80" fill="#FB8072"/>
<circle cx="807.2" cy="666.0" r="11.00" fill="#FB8072"/>
<circle cx="804.9" cy="677.0" r="8.05" fill="#FB8072"/>
<circle cx="800.2" cy="692.6" r="8.86" fill="#FB8072"/>
<circle cx="806.4" cy="693.4" r="7.25" fill="#FB8072"/>
<circle cx="832.2" cy="660.6" r="4.16" fill="#1965B0"/>
<circle cx="830.3" cy="665.3" r="2.56" fill="#1965B0"/>
<circle cx="819.7" cy="672.3" r="7.25" fill="#1965B0"/>
<circle cx="840.0" cy="673.1" r="7.25" fill="#1965B0"/>
<circle cx="829.9" cy="671.5" r="5.66" fill="#1965B0"/>
<circle cx="833.8" cy="686.4" r="12.11" fill="#1965B0"/>
<circle cx="859.9" cy="837.9" r="7.25" fill="#7BAFDE"/>
<circle cx="851.8" cy="848.9" r="6.46" fill="#7BAFDE"/>
<circle cx="868.9" cy="848.9" r="4.96" fill="#7BAFDE"/>
<circle cx="861.1" cy="848.9" r="8.86" fill="#7BAFDE"/>
<circle cx="854.9" cy="848.9" r="3.35" fill="#7BAFDE"/>
<circle cx="886.4" cy="810.1" r="2.56" fill="#882E72"/>
<circle cx="887.2" cy="820.0" r="3.86" fill="#882E72"/>
<circle cx="886.9" cy="831.7" r="8.86" fill="#882E72"/>
<circle cx="886.9" cy="841.1" r="7.25" fill="#882E72"/>
<circle cx="879.9" cy="848.9" r="6.46" fill="#882E72"/>
<circle cx="890.8" cy="848.9" r="6.46" fill="#882E72"/>
<circle cx="885.3" cy="848.6" r="2.56" fill="#882E72"/>
<circle cx="891.6" cy="848.6" r="2.25" fill="#882E72"/>
<circle cx="904.1" cy="662.9" r="9.15" fill="#B17BA6"/>
<circle cx="920.5" cy="662.9" r="7.25" fill="#B17BA6"/>
<circle cx="911.9" cy="662.9" r="9.50" fill="#B17BA6"/>
<circle cx="918.9" cy="686.4" r="4.96" fill="#B17BA6"/>
<circle cx="912.7" cy="687.9" r="8.05" fill="#B17BA6"/>
<circle cx="914.2" cy="690.3" r="5.36" fill="#B17BA6"/>
<circle cx="933.6" cy="672.3" r="5.66" fill="#FF7F00"/>
<circle cx="951.6" cy="670.8" r="8.05" fill="#FF7F00"/>
<circle cx="940.7" cy="671.5" r="9.15" fill="#FF7F00"/>
<circle cx="941.4" cy="683.2" r="3.86" fill="#FF7F00"/>
<circle cx="943.0" cy="686.4" r="2.85" fill="#FF7F00"/>
<circle cx="971.9" cy="643.4" r="4.96" fill="#FDB462"/>
<circle cx="977.4" cy="645.0" r="7.25" fill="#FDB462"/>
<circle cx="964.1" cy="648.9" r="5.66" fill="#FDB462"/>
<circle cx="961.0" cy="655.1" r="5.66" fill="#FDB462"/>
<circle cx="971.9" cy="653.6" r="5.36" fill="#FDB462"/>
<circle cx="979.7" cy="657.5" r="5.36" fill="#FDB462"/>
<circle cx="965.7" cy="642.6" r="1.75" fill="#FDB462"/>
<circle cx="965.7" cy="668.4" r="2.25" fill="#FDB462"/>
<circle cx="971.9" cy="666.8" r="1.96" fill="#FDB462"/>
<circle cx="967.7" cy="672.6" r="1.75" fill="#FDB462"/>
<circle cx="974.2" cy="672.6" r="1.75" fill="#FDB462"/>
<circle cx="970.8" cy="677.3" r="2.85" fill="#FDB462"/>
<circle cx="997.4" cy="772.0" r="2.85" fill="#E7298A"/>
<circle cx="999.2" cy="838.7" r="4.96" fill="#E7298A"/>
<circle cx="989.9" cy="845.8" r="5.66" fill="#E7298A"/>
<circle cx="1001.6" cy="844.2" r="4.16" fill="#E7298A"/>
<circle cx="995.3" cy="848.1" r="4.96" fill="#E7298A"/>
<circle cx="1007.0" cy="848.9" r="2.25" fill="#E7298A"/>
<circle cx="1017.2" cy="652.8" r="7.25" fill="#E78AC3"/>
<circle cx="1025.8" cy="652.0" r="5.66" fill="#E78AC3"/>
<circle cx="1032.8" cy="652.0" r="5.66" fill="#E78AC3"/>
<circle cx="1024.2" cy="655.9" r="4.16" fill="#E78AC3"/>
<circle cx="1034.4" cy="656.7" r="3.86" fill="#E78AC3"/>
<circle cx="1027.8" cy="668.0" r="1.75" fill="#E78AC3"/>
<circle cx="1025.0" cy="672.3" r="1.75" fill="#E78AC3"/>
<circle cx="1026.3" cy="678.6" r="2.16" fill="#E78AC3"/>
<circle cx="1051.6" cy="652.8" r="3.86" fill="#33A02C"/>
<circle cx="1055.5" cy="654.3" r="5.66" fill="#33A02C"/>
<circle cx="1051.6" cy="659.8" r="3.35" fill="#33A02C"/>
<circle cx="1057.0" cy="659.0" r="4.16" fill="#33A02C"/>
<circle cx="1046.1" cy="670.0" r="5.36" fill="#33A02C"/>
<circle cx="1062.5" cy="669.2" r="4.96" fill="#33A02C"/>
<circle cx="1053.9" cy="669.2" r="4.16" fill="#33A02C"/>
<circle cx="1050.8" cy="673.1" r="2.56" fill="#33A02C"/>
<circle cx="1054.4" cy="685.3" r="1.96" fill="#33A02C"/>
<circle cx="1082.8" cy="766.8" r="2.85" fill="#B2DF8A"/>
<circle cx="1081.8" cy="799.7" r="3.35" fill="#B2DF8A"/>
<circle cx="1082.0" cy="814.5" r="3.35" fill="#B2DF8A"/>
<circle cx="1079.7" cy="831.7" r="2.85" fill="#B2DF8A"/>
<circle cx="1085.2" cy="831.7" r="2.85" fill="#B2DF8A"/>
<circle cx="1082.8" cy="838.7" r="2.85" fill="#B2DF8A"/>
<circle cx="1078.9" cy="844.2" r="3.35" fill="#B2DF8A"/>
<circle cx="1072.7" cy="848.9" r="3.86" fill="#B2DF8A"/>
<circle cx="1079.0" cy="848.6" r="1.75" fill="#B2DF8A"/>
<circle cx="1083.0" cy="848.6" r="1.75" fill="#B2DF8A"/>
<circle cx="1090.7" cy="848.9" r="7.25" fill="#B2DF8A"/>
<circle cx="1110.5" cy="703.6" r="1.96" fill="#55A1B1"/>
<circle cx="1109.9" cy="761.1" r="3.35" fill="#55A1B1"/>
<circle cx="1110.2" cy="801.7" r="2.25" fill="#55A1B1"/>
<circle cx="1104.4" cy="837.5" r="4.46" fill="#55A1B1"/>
<circle cx="1100.0" cy="848.9" r="1.75" fill="#55A1B1"/>
<circle cx="1104.0" cy="848.9" r="1.75" fill="#55A1B1"/>
<circle cx="1108.6" cy="848.9" r="2.85" fill="#55A1B1"/>
<circle cx="1116.4" cy="848.9" r="2.25" fill="#55A1B1"/>
<circle cx="1120.3" cy="848.9" r="4.16" fill="#55A1B1"/>
<circle cx="1141.8" cy="671.5" r="2.85" fill="#8DD3C7"/>
<circle cx="1132.1" cy="690.3" r="5.36" fill="#8DD3C7"/>
<circle cx="1143.0" cy="692.6" r="5.36" fill="#8DD3C7"/>
<circle cx="1134.4" cy="693.4" r="4.96" fill="#8DD3C7"/>
<circle cx="1138.0" cy="697.3" r="5.66" fill="#8DD3C7"/>
<circle cx="1157.1" cy="664.2" r="2.56" fill="#A6761D"/>
<circle cx="1169.6" cy="663.7" r="3.35" fill="#A6761D"/>
<circle cx="1174.6" cy="664.2" r="2.25" fill="#A6761D"/>
<circle cx="1164.9" cy="664.5" r="1.75" fill="#A6761D"/>
<circle cx="1160.2" cy="667.6" r="3.86" fill="#A6761D"/>
<circle cx="1171.1" cy="668.4" r="4.16" fill="#A6761D"/>
<circle cx="1163.3" cy="675.4" r="5.36" fill="#A6761D"/>
<circle cx="1173.5" cy="676.2" r="5.36" fill="#A6761D"/>
<circle cx="1157.8" cy="679.3" r="2.25" fill="#A6761D"/>
<circle cx="1161.8" cy="680.9" r="2.56" fill="#A6761D"/>
<circle cx="1171.1" cy="680.4" r="2.85" fill="#A6761D"/>
<circle cx="1166.0" cy="700.0" r="1.96" fill="#A6761D"/>
<circle cx="1189.6" cy="651.7" r="2.85" fill="#E6AB02"/>
<circle cx="1198.2" cy="652.0" r="2.56" fill="#E6AB02"/>
<circle cx="1184.4" cy="657.8" r="2.56" fill="#E6AB02"/>
<circle cx="1189.9" cy="655.9" r="2.56" fill="#E6AB02"/>
<circle cx="1195.5" cy="656.7" r="1.75" fill="#E6AB02"/>
<circle cx="1202.4" cy="658.2" r="4.46" fill="#E6AB02"/>
<circle cx="1186.8" cy="664.5" r="3.35" fill="#E6AB02"/>
<circle cx="1196.9" cy="665.3" r="3.86" fill="#E6AB02"/>
<circle cx="1192.7" cy="662.6" r="3.86" fill="#E6AB02"/>
<circle cx="1190.7" cy="671.5" r="2.85" fill="#E6AB02"/>
<circle cx="1193.8" cy="672.3" r="3.35" fill="#E6AB02"/>
<circle cx="1225.8" cy="677.0" r="4.16" fill="#7570B3"/>
<circle cx="1218.0" cy="672.3" r="6.46" fill="#7570B3"/>
<circle cx="1215.7" cy="679.3" r="4.96" fill="#7570B3"/>
<circle cx="1221.9" cy="679.3" r="4.16" fill="#7570B3"/>
<circle cx="1252.1" cy="693.9" r="2.56" fill="#BEAED4"/>
<circle cx="1249.0" cy="703.6" r="2.25" fill="#BEAED4"/>
<circle cx="1252.1" cy="704.0" r="1.75" fill="#BEAED4"/>
<circle cx="1243.3" cy="711.4" r="1.75" fill="#BEAED4"/>
<circle cx="1256.3" cy="712.5" r="2.85" fill="#BEAED4"/>
<circle cx="1245.8" cy="713.7" r="2.56" fill="#BEAED4"/>
<circle cx="1250.8" cy="716.1" r="2.85" fill="#BEAED4"/>
<circle cx="1241.8" cy="717.3" r="2.25" fill="#BEAED4"/>
<circle cx="1247.7" cy="726.5" r="2.56" fill="#BEAED4"/>
<circle cx="1255.5" cy="726.2" r="1.96" fill="#BEAED4"/>
<circle cx="1251.9" cy="728.9" r="1.46" fill="#BEAED4"/>
<circle cx="1246.4" cy="734.3" r="2.85" fill="#BEAED4"/>
<circle cx="1251.3" cy="741.8" r="1.96" fill="#BEAED4"/>
<circle cx="1248.5" cy="803.6" r="1.96" fill="#BEAED4"/>
<circle cx="1249.7" cy="848.9" r="1.75" fill="#BEAED4"/>
<circle cx="1278.2" cy="674.7" r="2.25" fill="#666666"/>
<circle cx="1268.8" cy="678.2" r="2.25" fill="#666666"/>
<circle cx="1286.0" cy="679.0" r="1.96" fill="#666666"/>
<circle cx="1274.8" cy="679.8" r="1.75" fill="#666666"/>
<circle cx="1279.7" cy="682.5" r="2.25" fill="#666666"/>
<circle cx="1272.7" cy="684.5" r="3.35" fill="#666666"/>
<circle cx="1280.5" cy="689.5" r="3.35" fill="#666666"/>
<circle cx="1273.0" cy="692.3" r="2.56" fill="#666666"/>
<circle cx="1277.4" cy="693.4" r="3.35" fill="#666666"/>
<circle cx="1311.8" cy="645.0" r="2.25" fill="#999999"/>
<circle cx="1303.5" cy="647.0" r="2.56" fill="#999999"/>
<circle cx="1296.9" cy="652.0" r="2.56" fill="#999999"/>
<circle cx="1308.3" cy="651.7" r="2.25" fill="#999999"/>
<circle cx="1300.0" cy="658.2" r="2.56" fill="#999999"/>
<circle cx="1311.0" cy="657.9" r="2.85" fill="#999999"/>
<circle cx="1305.5" cy="667.2" r="2.16" fill="#999999"/>
<circle cx="1328.2" cy="676.7" r="2.56" fill="#AA8282"/>
<circle cx="1328.2" cy="680.4" r="2.25" fill="#AA8282"/>
<circle cx="1333.3" cy="683.2" r="2.25" fill="#AA8282"/>
<circle cx="1338.3" cy="679.8" r="2.25" fill="#AA8282"/>
</g>
<rect x="759.80" y="588.70" width="589.00" height="42.45" fill="#fff" stroke="#000" stroke-width="3.0"/>
<text x="1054.30" y="619.10" font-family='"Liberation Sans", Arial, sans-serif' font-size="23.73" fill="#1A1A1A" text-anchor="middle">MYT1L (variance = 16.91)</text>
<line x1="758.5" y1="630.25" x2="758.5" y2="860.00" stroke="#000" stroke-width="3.2"/>
<line x1="751.17" y1="848.20" x2="758.5" y2="848.20" stroke="#000" stroke-width="3.2"/>
<text x="745.30" y="857.15" font-family='"Liberation Sans", Arial, sans-serif' font-size="23.47" fill="#000" text-anchor="end">0</text>
<line x1="751.17" y1="819.33" x2="758.5" y2="819.33" stroke="#000" stroke-width="3.2"/>
<text x="745.30" y="828.28" font-family='"Liberation Sans", Arial, sans-serif' font-size="23.47" fill="#000" text-anchor="end">10</text>
<line x1="751.17" y1="802.44" x2="758.5" y2="802.44" stroke="#000" stroke-width="3.2"/>
<text x="745.30" y="811.39" font-family='"Liberation Sans", Arial, sans-serif' font-size="23.47" fill="#000" text-anchor="end">20</text>
<line x1="751.17" y1="773.58" x2="758.5" y2="773.58" stroke="#000" stroke-width="3.2"/>
<text x="745.30" y="782.53" font-family='"Liberation Sans", Arial, sans-serif' font-size="23.47" fill="#000" text-anchor="end">50</text>
<line x1="751.17" y1="748.33" x2="758.5" y2="748.33" stroke="#000" stroke-width="3.2"/>
<text x="745.30" y="757.28" font-family='"Liberation Sans", Arial, sans-serif' font-size="23.47" fill="#000" text-anchor="end">100</text>
<line x1="751.17" y1="721.40" x2="758.5" y2="721.40" stroke="#000" stroke-width="3.2"/>
<text x="745.30" y="730.35" font-family='"Liberation Sans", Arial, sans-serif' font-size="23.47" fill="#000" text-anchor="end">200</text>
<line x1="751.17" y1="684.44" x2="758.5" y2="684.44" stroke="#000" stroke-width="3.2"/>
<text x="745.30" y="693.39" font-family='"Liberation Sans", Arial, sans-serif' font-size="23.47" fill="#000" text-anchor="end">500</text>
<line x1="751.17" y1="655.99" x2="758.5" y2="655.99" stroke="#000" stroke-width="3.2"/>
<text x="745.30" y="664.94" font-family='"Liberation Sans", Arial, sans-serif' font-size="23.47" fill="#000" text-anchor="end">1k</text>
<clipPath id="cp6"><rect x="100.10" y="915.65" width="591.8" height="229.55"/></clipPath>
<g stroke="#000" stroke-width="1.89" clip-path="url(#cp6)">
<circle cx="106.0" cy="982.0" r="5.66" fill="#DC050C"/>
<circle cx="109.4" cy="975.5" r="10.21" fill="#DC050C"/>
<circle cx="115.6" cy="983.3" r="11.00" fill="#DC050C"/>
<circle cx="114.8" cy="964.6" r="9.50" fill="#DC050C"/>
<circle cx="125.8" cy="970.8" r="8.86" fill="#DC050C"/>
<circle cx="118.8" cy="961.4" r="4.96" fill="#DC050C"/>
<circle cx="121.9" cy="973.2" r="3.35" fill="#DC050C"/>
<circle cx="114.1" cy="988.8" r="3.86" fill="#DC050C"/>
<circle cx="134.4" cy="994.2" r="6.46" fill="#FB8072"/>
<circle cx="141.4" cy="986.4" r="14.90" fill="#FB8072"/>
<circle cx="150.0" cy="984.9" r="3.35" fill="#FB8072"/>
<circle cx="153.1" cy="994.2" r="7.25" fill="#FB8072"/>
<circle cx="143.0" cy="1003.6" r="8.86" fill="#FB8072"/>
<circle cx="145.3" cy="998.2" r="8.05" fill="#FB8072"/>
<circle cx="173.4" cy="950.2" r="4.16" fill="#1965B0"/>
<circle cx="171.1" cy="951.3" r="2.85" fill="#1965B0"/>
<circle cx="168.8" cy="970.8" r="5.66" fill="#1965B0"/>
<circle cx="178.9" cy="973.2" r="6.46" fill="#1965B0"/>
<circle cx="165.6" cy="978.6" r="7.25" fill="#1965B0"/>
<circle cx="178.9" cy="981.8" r="6.46" fill="#1965B0"/>
<circle cx="169.5" cy="996.6" r="11.80" fill="#1965B0"/>
<circle cx="201.9" cy="1092.4" r="8.05" fill="#7BAFDE"/>
<circle cx="207.0" cy="1110.7" r="2.56" fill="#7BAFDE"/>
<circle cx="200.0" cy="1105.2" r="7.25" fill="#7BAFDE"/>
<circle cx="197.7" cy="1120.0" r="7.25" fill="#7BAFDE"/>
<circle cx="210.0" cy="1130.0" r="5.66" fill="#7BAFDE"/>
<circle cx="206.2" cy="1134.9" r="8.05" fill="#7BAFDE"/>
<circle cx="193.0" cy="1134.9" r="3.86" fill="#7BAFDE"/>
<circle cx="227.7" cy="1050.5" r="8.86" fill="#882E72"/>
<circle cx="228.9" cy="1085.6" r="8.05" fill="#882E72"/>
<circle cx="228.1" cy="1095.8" r="8.86" fill="#882E72"/>
<circle cx="228.4" cy="1103.6" r="2.85" fill="#882E72"/>
<circle cx="225.8" cy="1107.8" r="1.75" fill="#882E72"/>
<circle cx="231.2" cy="1110.7" r="5.66" fill="#882E72"/>
<circle cx="227.3" cy="1116.9" r="6.46" fill="#882E72"/>
<circle cx="225.0" cy="1127.0" r="6.46" fill="#882E72"/>
<circle cx="233.6" cy="1130.2" r="6.46" fill="#882E72"/>
<circle cx="219.5" cy="1134.9" r="3.86" fill="#882E72"/>
<circle cx="229.7" cy="1134.9" r="3.35" fill="#882E72"/>
<circle cx="246.1" cy="930.2" r="9.15" fill="#B17BA6"/>
<circle cx="254.0" cy="931.0" r="7.25" fill="#B17BA6"/>
<circle cx="264.1" cy="930.2" r="9.50" fill="#B17BA6"/>
<circle cx="249.2" cy="934.9" r="4.46" fill="#B17BA6"/>
<circle cx="259.4" cy="956.8" r="4.96" fill="#B17BA6"/>
<circle cx="253.9" cy="961.4" r="8.05" fill="#B17BA6"/>
<circle cx="256.2" cy="966.9" r="5.36" fill="#B17BA6"/>
<circle cx="285.8" cy="1037.2" r="2.25" fill="#FF7F00"/>
<circle cx="284.2" cy="1056.8" r="6.96" fill="#FF7F00"/>
<circle cx="274.8" cy="1064.6" r="5.36" fill="#FF7F00"/>
<circle cx="277.2" cy="1069.2" r="6.46" fill="#FF7F00"/>
<circle cx="292.8" cy="1064.6" r="8.55" fill="#FF7F00"/>
<circle cx="284.2" cy="1081.0" r="6.96" fill="#FF7F00"/>
<circle cx="304.5" cy="983.6" r="6.05" fill="#FDB462"/>
<circle cx="319.0" cy="983.6" r="6.05" fill="#FDB462"/>
<circle cx="311.6" cy="986.5" r="4.16" fill="#FDB462"/>
<circle cx="313.9" cy="996.0" r="4.96" fill="#FDB462"/>
<circle cx="305.3" cy="1000.5" r="6.46" fill="#FDB462"/>
<circle cx="318.6" cy="1001.3" r="6.46" fill="#FDB462"/>
<circle cx="306.1" cy="997.4" r="1.75" fill="#FDB462"/>
<circle cx="304.5" cy="1009.1" r="5.36" fill="#FDB462"/>
<circle cx="313.1" cy="1006.4" r="2.56" fill="#FDB462"/>
<circle cx="319.4" cy="1016.1" r="4.46" fill="#FDB462"/>
<circle cx="309.7" cy="1018.0" r="1.75" fill="#FDB462"/>
<circle cx="314.7" cy="1018.0" r="1.75" fill="#FDB462"/>
<circle cx="305.3" cy="1023.5" r="1.96" fill="#FDB462"/>
<circle cx="316.6" cy="1025.5" r="2.16" fill="#FDB462"/>
<circle cx="308.8" cy="1032.2" r="2.16" fill="#FDB462"/>
<circle cx="312.3" cy="1032.5" r="2.16" fill="#FDB462"/>
<circle cx="338.9" cy="1049.7" r="2.56" fill="#E7298A"/>
<circle cx="341.2" cy="1060.7" r="2.85" fill="#E7298A"/>
<circle cx="339.7" cy="1093.5" r="4.96" fill="#E7298A"/>
<circle cx="337.3" cy="1111.4" r="4.96" fill="#E7298A"/>
<circle cx="340.9" cy="1110.7" r="4.46" fill="#E7298A"/>
<circle cx="342.0" cy="1120.0" r="4.16" fill="#E7298A"/>
<circle cx="341.2" cy="1127.8" r="4.96" fill="#E7298A"/>
<circle cx="331.1" cy="1131.0" r="4.96" fill="#E7298A"/>
<circle cx="348.3" cy="1133.3" r="4.96" fill="#E7298A"/>
<circle cx="332.7" cy="1134.9" r="3.35" fill="#E7298A"/>
<circle cx="337.3" cy="1134.9" r="2.56" fill="#E7298A"/>
<circle cx="343.6" cy="1134.9" r="4.96" fill="#E7298A"/>
<circle cx="357.7" cy="957.5" r="6.46" fill="#E78AC3"/>
<circle cx="364.7" cy="953.6" r="4.46" fill="#E78AC3"/>
<circle cx="367.8" cy="956.8" r="3.86" fill="#E78AC3"/>
<circle cx="373.3" cy="952.1" r="5.66" fill="#E78AC3"/>
<circle cx="375.6" cy="959.1" r="4.46" fill="#E78AC3"/>
<circle cx="369.4" cy="963.0" r="3.86" fill="#E78AC3"/>
<circle cx="365.2" cy="970.5" r="1.96" fill="#E78AC3"/>
<circle cx="370.2" cy="975.0" r="1.75" fill="#E78AC3"/>
<circle cx="366.6" cy="980.2" r="1.75" fill="#E78AC3"/>
<circle cx="367.8" cy="990.7" r="2.16" fill="#E78AC3"/>
<circle cx="387.3" cy="963.8" r="2.56" fill="#33A02C"/>
<circle cx="394.1" cy="963.8" r="4.46" fill="#33A02C"/>
<circle cx="402.2" cy="965.3" r="3.35" fill="#33A02C"/>
<circle cx="406.1" cy="964.6" r="4.46" fill="#33A02C"/>
<circle cx="397.0" cy="970.0" r="4.46" fill="#33A02C"/>
<circle cx="394.4" cy="972.4" r="4.16" fill="#33A02C"/>
<circle cx="396.7" cy="976.3" r="2.56" fill="#33A02C"/>
<circle cx="395.6" cy="989.6" r="3.35" fill="#33A02C"/>
<circle cx="424.5" cy="1036.1" r="2.85" fill="#B2DF8A"/>
<circle cx="422.2" cy="1056.8" r="2.56" fill="#B2DF8A"/>
<circle cx="424.1" cy="1063.0" r="2.56" fill="#B2DF8A"/>
<circle cx="418.1" cy="1069.2" r="2.85" fill="#B2DF8A"/>
<circle cx="429.5" cy="1075.5" r="2.85" fill="#B2DF8A"/>
<circle cx="422.8" cy="1077.4" r="3.86" fill="#B2DF8A"/>
<circle cx="419.4" cy="1086.8" r="2.85" fill="#B2DF8A"/>
<circle cx="426.0" cy="1086.4" r="1.75" fill="#B2DF8A"/>
<circle cx="427.2" cy="1091.1" r="4.46" fill="#B2DF8A"/>
<circle cx="421.7" cy="1096.6" r="3.35" fill="#B2DF8A"/>
<circle cx="419.4" cy="1118.0" r="3.86" fill="#B2DF8A"/>
<circle cx="424.4" cy="1118.0" r="1.75" fill="#B2DF8A"/>
<circle cx="431.9" cy="1130.2" r="3.35" fill="#B2DF8A"/>
<circle cx="426.4" cy="1134.9" r="3.86" fill="#B2DF8A"/>
<circle cx="420.9" cy="1134.9" r="2.25" fill="#B2DF8A"/>
<circle cx="415.5" cy="1134.9" r="7.25" fill="#B2DF8A"/>
<circle cx="453.4" cy="1018.8" r="2.16" fill="#55A1B1"/>
<circle cx="449.8" cy="1025.8" r="2.85" fill="#55A1B1"/>
<circle cx="451.9" cy="1037.5" r="1.75" fill="#55A1B1"/>
<circle cx="447.5" cy="1041.4" r="2.16" fill="#55A1B1"/>
<circle cx="454.5" cy="1051.3" r="4.16" fill="#55A1B1"/>
<circle cx="451.4" cy="1073.5" r="4.16" fill="#55A1B1"/>
<circle cx="453.4" cy="1085.7" r="4.16" fill="#55A1B1"/>
<circle cx="448.8" cy="1095.8" r="2.56" fill="#55A1B1"/>
<circle cx="454.5" cy="1099.7" r="2.16" fill="#55A1B1"/>
<circle cx="448.8" cy="1113.3" r="2.16" fill="#55A1B1"/>
<circle cx="442.8" cy="1120.0" r="3.86" fill="#55A1B1"/>
<circle cx="453.4" cy="1118.5" r="2.85" fill="#55A1B1"/>
<circle cx="458.4" cy="1122.3" r="1.75" fill="#55A1B1"/>
<circle cx="449.0" cy="1125.8" r="2.56" fill="#55A1B1"/>
<circle cx="444.4" cy="1134.9" r="2.16" fill="#55A1B1"/>
<circle cx="447.5" cy="1134.9" r="1.75" fill="#55A1B1"/>
<circle cx="454.5" cy="1134.9" r="1.75" fill="#55A1B1"/>
<circle cx="457.7" cy="1134.9" r="2.85" fill="#55A1B1"/>
<circle cx="472.5" cy="1003.6" r="5.36" fill="#8DD3C7"/>
<circle cx="481.9" cy="1008.6" r="4.96" fill="#8DD3C7"/>
<circle cx="481.0" cy="1002.8" r="3.35" fill="#8DD3C7"/>
<circle cx="486.9" cy="999.7" r="5.66" fill="#8DD3C7"/>
<circle cx="476.9" cy="1000.5" r="2.85" fill="#8DD3C7"/>
<circle cx="478.0" cy="1014.9" r="2.25" fill="#8DD3C7"/>
<circle cx="479.5" cy="1026.0" r="2.25" fill="#8DD3C7"/>
<circle cx="502.2" cy="961.4" r="2.16" fill="#A6761D"/>
<circle cx="510.0" cy="964.6" r="3.35" fill="#A6761D"/>
<circle cx="513.6" cy="962.7" r="1.75" fill="#A6761D"/>
<circle cx="503.8" cy="968.0" r="3.35" fill="#A6761D"/>
<circle cx="497.5" cy="972.4" r="1.75" fill="#A6761D"/>
<circle cx="506.9" cy="974.0" r="3.35" fill="#A6761D"/>
<circle cx="515.0" cy="973.6" r="5.36" fill="#A6761D"/>
<circle cx="501.4" cy="977.0" r="1.75" fill="#A6761D"/>
<circle cx="510.8" cy="977.0" r="1.75" fill="#A6761D"/>
<circle cx="505.8" cy="980.5" r="2.25" fill="#A6761D"/>
<circle cx="507.3" cy="989.6" r="2.85" fill="#A6761D"/>
<circle cx="533.0" cy="988.3" r="3.35" fill="#E6AB02"/>
<circle cx="538.6" cy="995.3" r="3.35" fill="#E6AB02"/>
<circle cx="533.4" cy="999.4" r="3.35" fill="#E6AB02"/>
<circle cx="528.0" cy="1037.2" r="3.86" fill="#E6AB02"/>
<circle cx="536.6" cy="1035.7" r="4.46" fill="#E6AB02"/>
<circle cx="542.0" cy="1037.2" r="2.85" fill="#E6AB02"/>
<circle cx="532.7" cy="1044.6" r="2.25" fill="#E6AB02"/>
<circle cx="526.9" cy="1049.2" r="2.25" fill="#E6AB02"/>
<circle cx="537.3" cy="1047.4" r="3.35" fill="#E6AB02"/>
<circle cx="540.9" cy="1049.7" r="4.46" fill="#E6AB02"/>
<circle cx="531.1" cy="1053.6" r="4.46" fill="#E6AB02"/>
<circle cx="535.5" cy="1058.3" r="2.85" fill="#E6AB02"/>
<circle cx="554.5" cy="985.2" r="6.46" fill="#7570B3"/>
<circle cx="569.4" cy="985.2" r="5.36" fill="#7570B3"/>
<circle cx="563.1" cy="991.1" r="3.86" fill="#7570B3"/>
<circle cx="560.0" cy="988.3" r="4.16" fill="#7570B3"/>
<circle cx="594.7" cy="1028.6" r="1.96" fill="#BEAED4"/>
<circle cx="590.0" cy="1038.8" r="1.96" fill="#BEAED4"/>
<circle cx="584.5" cy="1043.2" r="1.96" fill="#BEAED4"/>
<circle cx="595.6" cy="1042.7" r="2.25" fill="#BEAED4"/>
<circle cx="598.3" cy="1045.0" r="1.96" fill="#BEAED4"/>
<circle cx="587.3" cy="1048.2" r="1.46" fill="#BEAED4"/>
<circle cx="592.5" cy="1050.2" r="2.25" fill="#BEAED4"/>
<circle cx="583.4" cy="1052.1" r="2.56" fill="#BEAED4"/>
<circle cx="594.0" cy="1070.0" r="2.85" fill="#BEAED4"/>
<circle cx="590.2" cy="1074.0" r="1.96" fill="#BEAED4"/>
<circle cx="592.8" cy="1099.4" r="2.85" fill="#BEAED4"/>
<circle cx="586.2" cy="1102.5" r="2.85" fill="#BEAED4"/>
<circle cx="594.7" cy="1103.9" r="2.56" fill="#BEAED4"/>
<circle cx="588.4" cy="1108.3" r="2.85" fill="#BEAED4"/>
<circle cx="591.2" cy="1134.9" r="1.96" fill="#BEAED4"/>
<circle cx="619.4" cy="961.1" r="2.25" fill="#666666"/>
<circle cx="614.7" cy="972.7" r="2.25" fill="#666666"/>
<circle cx="622.5" cy="974.2" r="1.75" fill="#666666"/>
<circle cx="618.1" cy="1002.4" r="2.25" fill="#666666"/>
<circle cx="610.8" cy="1011.8" r="3.86" fill="#666666"/>
<circle cx="621.7" cy="1011.1" r="3.35" fill="#666666"/>
<circle cx="613.9" cy="1016.1" r="3.35" fill="#666666"/>
<circle cx="619.4" cy="1016.1" r="3.35" fill="#666666"/>
<circle cx="624.8" cy="1015.3" r="1.75" fill="#666666"/>
<circle cx="649.8" cy="966.6" r="2.85" fill="#999999"/>
<circle cx="638.6" cy="984.6" r="2.25" fill="#999999"/>
<circle cx="644.8" cy="983.3" r="2.25" fill="#999999"/>
<circle cx="650.6" cy="986.4" r="2.25" fill="#999999"/>
<circle cx="649.8" cy="984.1" r="2.85" fill="#999999"/>
<circle cx="645.2" cy="991.6" r="2.56" fill="#999999"/>
<circle cx="647.0" cy="996.1" r="2.16" fill="#999999"/>
<circle cx="670.5" cy="1028.3" r="2.56" fill="#AA8282"/>
<circle cx="669.7" cy="1046.9" r="2.56" fill="#AA8282"/>
<circle cx="680.3" cy="1044.6" r="2.56" fill="#AA8282"/>
<circle cx="675.2" cy="1075.2" r="2.56" fill="#AA8282"/>
</g>
<rect x="101.40" y="875.10" width="589.00" height="42.45" fill="#fff" stroke="#000" stroke-width="3.0"/>
<text x="395.90" y="905.50" font-family='"Liberation Sans", Arial, sans-serif' font-size="23.73" fill="#1A1A1A" text-anchor="middle">NRG1 (variance = 16.72)</text>
<line x1="100.1" y1="916.65" x2="100.1" y2="1146.40" stroke="#000" stroke-width="3.2"/>
<line x1="92.77" y1="1134.60" x2="100.1" y2="1134.60" stroke="#000" stroke-width="3.2"/>
<text x="86.90" y="1143.55" font-family='"Liberation Sans", Arial, sans-serif' font-size="23.47" fill="#000" text-anchor="end">0</text>
<line x1="92.77" y1="1114.19" x2="100.1" y2="1114.19" stroke="#000" stroke-width="3.2"/>
<text x="86.90" y="1123.14" font-family='"Liberation Sans", Arial, sans-serif' font-size="23.47" fill="#000" text-anchor="end">10</text>
<line x1="92.77" y1="1102.25" x2="100.1" y2="1102.25" stroke="#000" stroke-width="3.2"/>
<text x="86.90" y="1111.20" font-family='"Liberation Sans", Arial, sans-serif' font-size="23.47" fill="#000" text-anchor="end">20</text>
<line x1="92.77" y1="1081.84" x2="100.1" y2="1081.84" stroke="#000" stroke-width="3.2"/>
<text x="86.90" y="1090.79" font-family='"Liberation Sans", Arial, sans-serif' font-size="23.47" fill="#000" text-anchor="end">50</text>
<line x1="92.77" y1="1063.99" x2="100.1" y2="1063.99" stroke="#000" stroke-width="3.2"/>
<text x="86.90" y="1072.94" font-family='"Liberation Sans", Arial, sans-serif' font-size="23.47" fill="#000" text-anchor="end">100</text>
<line x1="92.77" y1="1044.95" x2="100.1" y2="1044.95" stroke="#000" stroke-width="3.2"/>
<text x="86.90" y="1053.90" font-family='"Liberation Sans", Arial, sans-serif' font-size="23.47" fill="#000" text-anchor="end">200</text>
<line x1="92.77" y1="1018.83" x2="100.1" y2="1018.83" stroke="#000" stroke-width="3.2"/>
<text x="86.90" y="1027.78" font-family='"Liberation Sans", Arial, sans-serif' font-size="23.47" fill="#000" text-anchor="end">500</text>
<line x1="92.77" y1="998.71" x2="100.1" y2="998.71" stroke="#000" stroke-width="3.2"/>
<text x="86.90" y="1007.66" font-family='"Liberation Sans", Arial, sans-serif' font-size="23.47" fill="#000" text-anchor="end">1k</text>
<line x1="92.77" y1="978.44" x2="100.1" y2="978.44" stroke="#000" stroke-width="3.2"/>
<text x="86.90" y="987.39" font-family='"Liberation Sans", Arial, sans-serif' font-size="23.47" fill="#000" text-anchor="end">2k</text>
<line x1="92.77" y1="951.55" x2="100.1" y2="951.55" stroke="#000" stroke-width="3.2"/>
<text x="86.90" y="960.50" font-family='"Liberation Sans", Arial, sans-serif' font-size="23.47" fill="#000" text-anchor="end">5k</text>
<line x1="92.77" y1="931.17" x2="100.1" y2="931.17" stroke="#000" stroke-width="3.2"/>
<text x="86.90" y="940.12" font-family='"Liberation Sans", Arial, sans-serif' font-size="23.47" fill="#000" text-anchor="end">10k</text>
<clipPath id="cp7"><rect x="758.50" y="915.65" width="591.8" height="229.55"/></clipPath>
<g stroke="#000" stroke-width="1.89" clip-path="url(#cp7)">
<circle cx="762.0" cy="988.0" r="7.25" fill="#DC050C"/>
<circle cx="764.2" cy="967.7" r="8.86" fill="#DC050C"/>
<circle cx="783.8" cy="969.2" r="11.80" fill="#DC050C"/>
<circle cx="773.6" cy="970.8" r="10.21" fill="#DC050C"/>
<circle cx="777.5" cy="965.3" r="4.96" fill="#DC050C"/>
<circle cx="768.9" cy="967.7" r="4.16" fill="#DC050C"/>
<circle cx="773.6" cy="997.4" r="13.30" fill="#DC050C"/>
<circle cx="776.0" cy="988.0" r="12.61" fill="#DC050C"/>
<circle cx="772.8" cy="987.8" r="2.85" fill="#DC050C"/>
<circle cx="775.2" cy="990.3" r="2.56" fill="#DC050C"/>
<circle cx="775.2" cy="1000.5" r="3.86" fill="#DC050C"/>
<circle cx="800.2" cy="1000.5" r="7.25" fill="#FB8072"/>
<circle cx="798.6" cy="1013.0" r="17.30" fill="#FB8072"/>
<circle cx="806.4" cy="1009.9" r="11.80" fill="#FB8072"/>
<circle cx="803.3" cy="1019.2" r="7.25" fill="#FB8072"/>
<circle cx="798.6" cy="1036.0" r="6.46" fill="#FB8072"/>
<circle cx="795.5" cy="1031.8" r="8.05" fill="#FB8072"/>
<circle cx="808.8" cy="1032.5" r="8.05" fill="#FB8072"/>
<circle cx="833.0" cy="982.5" r="2.85" fill="#1965B0"/>
<circle cx="832.2" cy="991.1" r="5.66" fill="#1965B0"/>
<circle cx="823.6" cy="991.9" r="6.46" fill="#1965B0"/>
<circle cx="839.2" cy="993.5" r="6.46" fill="#1965B0"/>
<circle cx="837.7" cy="1002.0" r="5.66" fill="#1965B0"/>
<circle cx="824.4" cy="1002.0" r="6.46" fill="#1965B0"/>
<circle cx="834.6" cy="1014.6" r="12.11" fill="#1965B0"/>
<circle cx="830.7" cy="1041.9" r="4.16" fill="#1965B0"/>
<circle cx="860.3" cy="1113.8" r="8.05" fill="#7BAFDE"/>
<circle cx="867.4" cy="1128.6" r="4.16" fill="#7BAFDE"/>
<circle cx="851.8" cy="1133.3" r="8.86" fill="#7BAFDE"/>
<circle cx="859.6" cy="1131.0" r="9.50" fill="#7BAFDE"/>
<circle cx="865.0" cy="1134.9" r="4.16" fill="#7BAFDE"/>
<circle cx="886.4" cy="1093.9" r="8.86" fill="#882E72"/>
<circle cx="886.1" cy="1116.1" r="8.05" fill="#882E72"/>
<circle cx="887.7" cy="1125.5" r="8.05" fill="#882E72"/>
<circle cx="878.3" cy="1134.9" r="5.66" fill="#882E72"/>
<circle cx="888.5" cy="1134.9" r="6.46" fill="#882E72"/>
<circle cx="883.0" cy="1134.6" r="2.56" fill="#882E72"/>
<circle cx="894.0" cy="1134.6" r="2.85" fill="#882E72"/>
<circle cx="904.9" cy="984.9" r="8.86" fill="#B17BA6"/>
<circle cx="924.4" cy="984.9" r="8.05" fill="#B17BA6"/>
<circle cx="911.9" cy="987.2" r="9.15" fill="#B17BA6"/>
<circle cx="918.2" cy="1008.3" r="4.96" fill="#B17BA6"/>
<circle cx="912.7" cy="1014.6" r="8.05" fill="#B17BA6"/>
<circle cx="914.2" cy="1021.6" r="5.36" fill="#B17BA6"/>
<circle cx="936.1" cy="991.1" r="6.96" fill="#FF7F00"/>
<circle cx="931.4" cy="995.8" r="6.46" fill="#FF7F00"/>
<circle cx="954.1" cy="997.4" r="6.46" fill="#FF7F00"/>
<circle cx="947.8" cy="987.2" r="8.55" fill="#FF7F00"/>
<circle cx="941.6" cy="1003.6" r="4.46" fill="#FF7F00"/>
<circle cx="943.9" cy="1013.8" r="6.46" fill="#FF7F00"/>
<circle cx="945.5" cy="1026.3" r="3.35" fill="#FF7F00"/>
<circle cx="940.0" cy="1029.4" r="3.35" fill="#FF7F00"/>
<circle cx="942.8" cy="1045.3" r="2.25" fill="#FF7F00"/>
<circle cx="966.4" cy="977.4" r="6.05" fill="#FDB462"/>
<circle cx="974.2" cy="977.0" r="9.15" fill="#FDB462"/>
<circle cx="970.3" cy="987.2" r="4.16" fill="#FDB462"/>
<circle cx="960.2" cy="999.7" r="3.35" fill="#FDB462"/>
<circle cx="963.3" cy="995.8" r="3.86" fill="#FDB462"/>
<circle cx="978.2" cy="995.8" r="5.36" fill="#FDB462"/>
<circle cx="971.9" cy="998.6" r="4.96" fill="#FDB462"/>
<circle cx="969.6" cy="1009.9" r="2.85" fill="#FDB462"/>
<circle cx="974.7" cy="1007.5" r="1.96" fill="#FDB462"/>
<circle cx="971.4" cy="1016.6" r="1.75" fill="#FDB462"/>
<circle cx="966.9" cy="1027.8" r="1.75" fill="#FDB462"/>
<circle cx="973.0" cy="1028.2" r="1.75" fill="#FDB462"/>
<circle cx="968.0" cy="1034.1" r="1.75" fill="#FDB462"/>
<circle cx="970.8" cy="1037.2" r="1.75" fill="#FDB462"/>
<circle cx="997.2" cy="1102.8" r="2.56" fill="#E7298A"/>
<circle cx="999.6" cy="1115.3" r="2.56" fill="#E7298A"/>
<circle cx="996.9" cy="1119.2" r="3.35" fill="#E7298A"/>
<circle cx="1001.0" cy="1125.5" r="4.16" fill="#E7298A"/>
<circle cx="996.9" cy="1125.5" r="2.56" fill="#E7298A"/>
<circle cx="989.9" cy="1133.3" r="5.66" fill="#E7298A"/>
<circle cx="1007.0" cy="1134.1" r="6.05" fill="#E7298A"/>
<circle cx="1000.8" cy="1133.3" r="5.66" fill="#E7298A"/>
<circle cx="995.3" cy="1134.9" r="2.56" fill="#E7298A"/>
<circle cx="1023.9" cy="953.2" r="2.16" fill="#E78AC3"/>
<circle cx="1030.2" cy="952.4" r="1.75" fill="#E78AC3"/>
<circle cx="1016.8" cy="971.3" r="4.96" fill="#E78AC3"/>
<circle cx="1027.8" cy="970.8" r="1.75" fill="#E78AC3"/>
<circle cx="1023.9" cy="976.8" r="4.46" fill="#E78AC3"/>
<circle cx="1034.9" cy="975.0" r="4.16" fill="#E78AC3"/>
<circle cx="1027.7" cy="989.9" r="1.75" fill="#E78AC3"/>
<circle cx="1020.3" cy="1000.5" r="5.66" fill="#E78AC3"/>
<circle cx="1029.7" cy="1000.5" r="6.96" fill="#E78AC3"/>
<circle cx="1025.0" cy="1017.4" r="4.46" fill="#E78AC3"/>
<circle cx="1026.3" cy="1046.3" r="5.36" fill="#E78AC3"/>
<circle cx="1054.4" cy="999.4" r="2.85" fill="#33A02C"/>
<circle cx="1046.9" cy="1005.2" r="4.16" fill="#33A02C"/>
<circle cx="1054.7" cy="1006.0" r="3.86" fill="#33A02C"/>
<circle cx="1062.5" cy="1005.2" r="4.96" fill="#33A02C"/>
<circle cx="1044.6" cy="1011.4" r="4.96" fill="#33A02C"/>
<circle cx="1062.5" cy="1011.4" r="3.35" fill="#33A02C"/>
<circle cx="1052.4" cy="1013.0" r="2.56" fill="#33A02C"/>
<circle cx="1055.5" cy="1014.6" r="2.56" fill="#33A02C"/>
<circle cx="1055.5" cy="1019.2" r="2.25" fill="#33A02C"/>
<circle cx="1053.2" cy="1026.3" r="3.35" fill="#33A02C"/>
<circle cx="1054.4" cy="1058.0" r="1.96" fill="#33A02C"/>
<circle cx="1083.2" cy="1070.0" r="2.56" fill="#B2DF8A"/>
<circle cx="1081.6" cy="1084.9" r="3.35" fill="#B2DF8A"/>
<circle cx="1082.0" cy="1109.1" r="2.56" fill="#B2DF8A"/>
<circle cx="1077.0" cy="1112.7" r="2.56" fill="#B2DF8A"/>
<circle cx="1087.5" cy="1113.0" r="3.35" fill="#B2DF8A"/>
<circle cx="1078.1" cy="1118.5" r="2.56" fill="#B2DF8A"/>
<circle cx="1086.0" cy="1120.8" r="3.35" fill="#B2DF8A"/>
<circle cx="1081.3" cy="1124.7" r="2.56" fill="#B2DF8A"/>
<circle cx="1082.8" cy="1128.3" r="2.25" fill="#B2DF8A"/>
<circle cx="1078.9" cy="1134.9" r="7.25" fill="#B2DF8A"/>
<circle cx="1072.7" cy="1134.9" r="2.25" fill="#B2DF8A"/>
<circle cx="1090.7" cy="1134.9" r="2.85" fill="#B2DF8A"/>
<circle cx="1110.5" cy="1041.1" r="2.25" fill="#55A1B1"/>
<circle cx="1109.9" cy="1090.3" r="1.96" fill="#55A1B1"/>
<circle cx="1110.5" cy="1131.0" r="3.86" fill="#55A1B1"/>
<circle cx="1099.6" cy="1134.9" r="3.35" fill="#55A1B1"/>
<circle cx="1107.0" cy="1134.9" r="2.56" fill="#55A1B1"/>
<circle cx="1114.1" cy="1134.9" r="2.56" fill="#55A1B1"/>
<circle cx="1117.2" cy="1134.9" r="1.75" fill="#55A1B1"/>
<circle cx="1120.3" cy="1134.9" r="3.86" fill="#55A1B1"/>
<circle cx="1141.1" cy="1085.7" r="2.56" fill="#8DD3C7"/>
<circle cx="1130.2" cy="1099.7" r="5.36" fill="#8DD3C7"/>
<circle cx="1141.0" cy="1098.0" r="2.56" fill="#8DD3C7"/>
<circle cx="1135.5" cy="1096.6" r="4.96" fill="#8DD3C7"/>
<circle cx="1140.7" cy="1107.5" r="5.36" fill="#8DD3C7"/>
<circle cx="1134.9" cy="1113.8" r="5.36" fill="#8DD3C7"/>
<circle cx="1138.0" cy="1118.9" r="2.56" fill="#8DD3C7"/>
<circle cx="1162.2" cy="1002.8" r="3.86" fill="#A6761D"/>
<circle cx="1171.1" cy="1006.8" r="2.25" fill="#A6761D"/>
<circle cx="1164.9" cy="1008.6" r="3.35" fill="#A6761D"/>
<circle cx="1166.5" cy="1012.0" r="1.75" fill="#A6761D"/>
<circle cx="1159.4" cy="1016.9" r="3.86" fill="#A6761D"/>
<circle cx="1171.9" cy="1016.9" r="2.25" fill="#A6761D"/>
<circle cx="1168.0" cy="1019.2" r="4.96" fill="#A6761D"/>
<circle cx="1157.1" cy="1022.4" r="4.96" fill="#A6761D"/>
<circle cx="1170.3" cy="1024.2" r="2.25" fill="#A6761D"/>
<circle cx="1164.1" cy="1029.4" r="2.25" fill="#A6761D"/>
<circle cx="1157.8" cy="1032.5" r="2.25" fill="#A6761D"/>
<circle cx="1168.8" cy="1032.5" r="2.56" fill="#A6761D"/>
<circle cx="1171.6" cy="1032.5" r="1.75" fill="#A6761D"/>
<circle cx="1161.8" cy="1035.7" r="2.25" fill="#A6761D"/>
<circle cx="1166.1" cy="1038.8" r="1.75" fill="#A6761D"/>
<circle cx="1188.3" cy="929.1" r="3.35" fill="#E6AB02"/>
<circle cx="1200.0" cy="929.4" r="3.86" fill="#E6AB02"/>
<circle cx="1183.6" cy="933.0" r="2.56" fill="#E6AB02"/>
<circle cx="1195.0" cy="932.8" r="2.16" fill="#E6AB02"/>
<circle cx="1191.4" cy="936.1" r="2.56" fill="#E6AB02"/>
<circle cx="1200.8" cy="936.4" r="4.46" fill="#E6AB02"/>
<circle cx="1194.6" cy="944.2" r="3.86" fill="#E6AB02"/>
<circle cx="1191.8" cy="950.5" r="4.96" fill="#E6AB02"/>
<circle cx="1195.7" cy="963.0" r="3.35" fill="#E6AB02"/>
<circle cx="1194.0" cy="969.5" r="2.85" fill="#E6AB02"/>
<circle cx="1191.0" cy="968.0" r="3.35" fill="#E6AB02"/>
<circle cx="1216.4" cy="1046.6" r="5.36" fill="#7570B3"/>
<circle cx="1227.1" cy="1046.6" r="4.96" fill="#7570B3"/>
<circle cx="1221.9" cy="1052.8" r="5.66" fill="#7570B3"/>
<circle cx="1242.7" cy="1065.8" r="1.96" fill="#BEAED4"/>
<circle cx="1248.5" cy="1064.2" r="1.75" fill="#BEAED4"/>
<circle cx="1253.6" cy="1064.9" r="2.25" fill="#BEAED4"/>
<circle cx="1258.6" cy="1063.3" r="2.56" fill="#BEAED4"/>
<circle cx="1256.3" cy="1069.6" r="1.96" fill="#BEAED4"/>
<circle cx="1246.1" cy="1074.4" r="1.75" fill="#BEAED4"/>
<circle cx="1241.0" cy="1077.8" r="2.56" fill="#BEAED4"/>
<circle cx="1251.1" cy="1076.3" r="2.85" fill="#BEAED4"/>
<circle cx="1256.3" cy="1081.4" r="1.96" fill="#BEAED4"/>
<circle cx="1247.7" cy="1083.3" r="2.85" fill="#BEAED4"/>
<circle cx="1250.8" cy="1089.2" r="2.85" fill="#BEAED4"/>
<circle cx="1244.9" cy="1098.2" r="2.25" fill="#BEAED4"/>
<circle cx="1253.2" cy="1100.0" r="2.85" fill="#BEAED4"/>
<circle cx="1246.4" cy="1101.6" r="2.56" fill="#BEAED4"/>
<circle cx="1249.7" cy="1134.9" r="1.96" fill="#BEAED4"/>
<circle cx="1277.8" cy="983.6" r="2.16" fill="#666666"/>
<circle cx="1274.2" cy="996.6" r="2.25" fill="#666666"/>
<circle cx="1280.5" cy="1003.3" r="1.96" fill="#666666"/>
<circle cx="1275.0" cy="1016.1" r="3.35" fill="#666666"/>
<circle cx="1280.5" cy="1016.1" r="3.35" fill="#666666"/>
<circle cx="1269.2" cy="1019.6" r="3.35" fill="#666666"/>
<circle cx="1282.4" cy="1021.3" r="2.85" fill="#666666"/>
<circle cx="1275.5" cy="1028.3" r="2.25" fill="#666666"/>
<circle cx="1277.4" cy="1040.3" r="1.96" fill="#666666"/>
<circle cx="1302.7" cy="963.3" r="2.25" fill="#999999"/>
<circle cx="1313.3" cy="961.9" r="2.56" fill="#999999"/>
<circle cx="1307.8" cy="968.8" r="3.06" fill="#999999"/>
<circle cx="1299.6" cy="973.2" r="2.56" fill="#999999"/>
<circle cx="1308.6" cy="982.2" r="2.25" fill="#999999"/>
<circle cx="1300.5" cy="989.9" r="2.56" fill="#999999"/>
<circle cx="1305.5" cy="991.6" r="2.56" fill="#999999"/>
<circle cx="1325.5" cy="938.8" r="2.56" fill="#AA8282"/>
<circle cx="1328.2" cy="942.7" r="2.25" fill="#AA8282"/>
<circle cx="1333.3" cy="945.0" r="2.56" fill="#AA8282"/>
<circle cx="1339.1" cy="940.8" r="2.25" fill="#AA8282"/>
</g>
<rect x="759.80" y="875.10" width="589.00" height="42.45" fill="#fff" stroke="#000" stroke-width="3.0"/>
<text x="1054.30" y="905.50" font-family='"Liberation Sans", Arial, sans-serif' font-size="23.73" fill="#1A1A1A" text-anchor="middle">CNTN5 (variance = 16.66)</text>
<line x1="758.5" y1="916.65" x2="758.5" y2="1146.40" stroke="#000" stroke-width="3.2"/>
<line x1="751.17" y1="1134.60" x2="758.5" y2="1134.60" stroke="#000" stroke-width="3.2"/>
<text x="745.30" y="1143.55" font-family='"Liberation Sans", Arial, sans-serif' font-size="23.47" fill="#000" text-anchor="end">0</text>
<line x1="751.17" y1="1112.78" x2="758.5" y2="1112.78" stroke="#000" stroke-width="3.2"/>
<text x="745.30" y="1121.73" font-family='"Liberation Sans", Arial, sans-serif' font-size="23.47" fill="#000" text-anchor="end">10</text>
<line x1="751.17" y1="1100.01" x2="758.5" y2="1100.01" stroke="#000" stroke-width="3.2"/>
<text x="745.30" y="1108.96" font-family='"Liberation Sans", Arial, sans-serif' font-size="23.47" fill="#000" text-anchor="end">20</text>
<line x1="751.17" y1="1078.19" x2="758.5" y2="1078.19" stroke="#000" stroke-width="3.2"/>
<text x="745.30" y="1087.14" font-family='"Liberation Sans", Arial, sans-serif' font-size="23.47" fill="#000" text-anchor="end">50</text>
<line x1="751.17" y1="1059.11" x2="758.5" y2="1059.11" stroke="#000" stroke-width="3.2"/>
<text x="745.30" y="1068.06" font-family='"Liberation Sans", Arial, sans-serif' font-size="23.47" fill="#000" text-anchor="end">100</text>
<line x1="751.17" y1="1038.75" x2="758.5" y2="1038.75" stroke="#000" stroke-width="3.2"/>
<text x="745.30" y="1047.70" font-family='"Liberation Sans", Arial, sans-serif' font-size="23.47" fill="#000" text-anchor="end">200</text>
<line x1="751.17" y1="1010.82" x2="758.5" y2="1010.82" stroke="#000" stroke-width="3.2"/>
<text x="745.30" y="1019.77" font-family='"Liberation Sans", Arial, sans-serif' font-size="23.47" fill="#000" text-anchor="end">500</text>
<line x1="751.17" y1="989.31" x2="758.5" y2="989.31" stroke="#000" stroke-width="3.2"/>
<text x="745.30" y="998.26" font-family='"Liberation Sans", Arial, sans-serif' font-size="23.47" fill="#000" text-anchor="end">1k</text>
<line x1="751.17" y1="967.64" x2="758.5" y2="967.64" stroke="#000" stroke-width="3.2"/>
<text x="745.30" y="976.59" font-family='"Liberation Sans", Arial, sans-serif' font-size="23.47" fill="#000" text-anchor="end">2k</text>
<line x1="751.17" y1="938.89" x2="758.5" y2="938.89" stroke="#000" stroke-width="3.2"/>
<text x="745.30" y="947.84" font-family='"Liberation Sans", Arial, sans-serif' font-size="23.47" fill="#000" text-anchor="end">5k</text>
<clipPath id="cp8"><rect x="100.10" y="1202.05" width="591.8" height="229.55"/></clipPath>
<g stroke="#000" stroke-width="1.89" clip-path="url(#cp8)">
<circle cx="106.2" cy="1249.0" r="7.25" fill="#DC050C"/>
<circle cx="115.6" cy="1255.2" r="13.30" fill="#DC050C"/>
<circle cx="125.0" cy="1245.9" r="10.21" fill="#DC050C"/>
<circle cx="112.5" cy="1242.8" r="8.05" fill="#DC050C"/>
<circle cx="118.8" cy="1236.5" r="7.25" fill="#DC050C"/>
<circle cx="121.9" cy="1224.8" r="8.05" fill="#DC050C"/>
<circle cx="113.3" cy="1223.2" r="10.21" fill="#DC050C"/>
<circle cx="118.0" cy="1264.6" r="2.56" fill="#DC050C"/>
<circle cx="115.6" cy="1271.2" r="2.56" fill="#DC050C"/>
<circle cx="116.9" cy="1276.3" r="4.16" fill="#DC050C"/>
<circle cx="142.2" cy="1216.2" r="7.25" fill="#FB8072"/>
<circle cx="150.0" cy="1225.6" r="17.30" fill="#FB8072"/>
<circle cx="134.4" cy="1217.0" r="2.25" fill="#FB8072"/>
<circle cx="140.6" cy="1229.5" r="11.00" fill="#FB8072"/>
<circle cx="153.1" cy="1236.5" r="7.25" fill="#FB8072"/>
<circle cx="146.1" cy="1249.0" r="6.46" fill="#FB8072"/>
<circle cx="144.5" cy="1259.9" r="8.05" fill="#FB8072"/>
<circle cx="174.2" cy="1237.3" r="8.86" fill="#1965B0"/>
<circle cx="169.5" cy="1242.0" r="6.46" fill="#1965B0"/>
<circle cx="185.2" cy="1247.4" r="4.96" fill="#1965B0"/>
<circle cx="177.3" cy="1251.3" r="7.25" fill="#1965B0"/>
<circle cx="165.6" cy="1251.3" r="4.96" fill="#1965B0"/>
<circle cx="169.8" cy="1256.8" r="2.56" fill="#1965B0"/>
<circle cx="166.4" cy="1261.5" r="2.56" fill="#1965B0"/>
<circle cx="179.7" cy="1264.6" r="6.46" fill="#1965B0"/>
<circle cx="164.0" cy="1269.0" r="3.35" fill="#1965B0"/>
<circle cx="175.0" cy="1277.1" r="12.61" fill="#1965B0"/>
<circle cx="201.9" cy="1386.2" r="5.36" fill="#7BAFDE"/>
<circle cx="200.8" cy="1399.8" r="7.25" fill="#7BAFDE"/>
<circle cx="206.2" cy="1402.2" r="3.35" fill="#7BAFDE"/>
<circle cx="203.1" cy="1410.0" r="5.66" fill="#7BAFDE"/>
<circle cx="198.1" cy="1409.9" r="2.56" fill="#7BAFDE"/>
<circle cx="193.8" cy="1417.0" r="6.46" fill="#7BAFDE"/>
<circle cx="210.2" cy="1417.0" r="5.66" fill="#7BAFDE"/>
<circle cx="203.9" cy="1420.1" r="8.05" fill="#7BAFDE"/>
<circle cx="193.0" cy="1420.9" r="2.85" fill="#7BAFDE"/>
<circle cx="227.7" cy="1362.0" r="6.46" fill="#882E72"/>
<circle cx="229.7" cy="1395.1" r="8.05" fill="#882E72"/>
<circle cx="234.4" cy="1399.0" r="4.16" fill="#882E72"/>
<circle cx="225.0" cy="1406.0" r="7.25" fill="#882E72"/>
<circle cx="230.5" cy="1406.8" r="2.85" fill="#882E72"/>
<circle cx="232.0" cy="1417.8" r="6.46" fill="#882E72"/>
<circle cx="221.1" cy="1420.1" r="4.16" fill="#882E72"/>
<circle cx="224.2" cy="1420.9" r="2.56" fill="#882E72"/>
<circle cx="250.8" cy="1342.8" r="5.66" fill="#B17BA6"/>
<circle cx="264.8" cy="1346.7" r="4.16" fill="#B17BA6"/>
<circle cx="256.2" cy="1348.2" r="10.21" fill="#B17BA6"/>
<circle cx="249.2" cy="1357.6" r="5.66" fill="#B17BA6"/>
<circle cx="264.1" cy="1360.7" r="8.05" fill="#B17BA6"/>
<circle cx="256.2" cy="1364.6" r="8.05" fill="#B17BA6"/>
<circle cx="256.2" cy="1370.9" r="4.96" fill="#B17BA6"/>
<circle cx="285.8" cy="1246.2" r="2.16" fill="#FF7F00"/>
<circle cx="272.5" cy="1266.2" r="6.46" fill="#FF7F00"/>
<circle cx="293.6" cy="1267.8" r="8.05" fill="#FF7F00"/>
<circle cx="281.1" cy="1262.3" r="8.86" fill="#FF7F00"/>
<circle cx="281.9" cy="1277.1" r="4.46" fill="#FF7F00"/>
<circle cx="284.2" cy="1286.5" r="6.46" fill="#FF7F00"/>
<circle cx="280.3" cy="1285.0" r="3.35" fill="#FF7F00"/>
<circle cx="287.3" cy="1284.2" r="2.85" fill="#FF7F00"/>
<circle cx="308.4" cy="1228.7" r="1.75" fill="#FDB462"/>
<circle cx="304.0" cy="1238.0" r="4.16" fill="#FDB462"/>
<circle cx="310.0" cy="1234.9" r="4.96" fill="#FDB462"/>
<circle cx="320.9" cy="1234.2" r="5.66" fill="#FDB462"/>
<circle cx="302.2" cy="1245.1" r="4.96" fill="#FDB462"/>
<circle cx="312.3" cy="1244.3" r="4.16" fill="#FDB462"/>
<circle cx="319.4" cy="1245.9" r="6.46" fill="#FDB462"/>
<circle cx="306.1" cy="1252.9" r="2.85" fill="#FDB462"/>
<circle cx="313.9" cy="1252.4" r="1.75" fill="#FDB462"/>
<circle cx="313.9" cy="1263.8" r="1.75" fill="#FDB462"/>
<circle cx="309.7" cy="1269.0" r="1.75" fill="#FDB462"/>
<circle cx="312.3" cy="1271.7" r="1.75" fill="#FDB462"/>
<circle cx="338.9" cy="1316.7" r="2.56" fill="#E7298A"/>
<circle cx="341.2" cy="1392.0" r="2.85" fill="#E7298A"/>
<circle cx="339.7" cy="1396.7" r="5.36" fill="#E7298A"/>
<circle cx="341.2" cy="1406.8" r="5.66" fill="#E7298A"/>
<circle cx="338.9" cy="1410.7" r="4.46" fill="#E7298A"/>
<circle cx="331.9" cy="1419.3" r="4.96" fill="#E7298A"/>
<circle cx="342.8" cy="1418.5" r="4.96" fill="#E7298A"/>
<circle cx="337.3" cy="1420.9" r="2.85" fill="#E7298A"/>
<circle cx="348.3" cy="1420.9" r="2.25" fill="#E7298A"/>
<circle cx="370.9" cy="1217.0" r="4.96" fill="#E78AC3"/>
<circle cx="364.7" cy="1223.2" r="4.96" fill="#E78AC3"/>
<circle cx="369.4" cy="1224.0" r="3.86" fill="#E78AC3"/>
<circle cx="376.4" cy="1232.6" r="6.46" fill="#E78AC3"/>
<circle cx="358.1" cy="1231.0" r="2.25" fill="#E78AC3"/>
<circle cx="369.4" cy="1238.8" r="6.46" fill="#E78AC3"/>
<circle cx="365.5" cy="1235.0" r="1.75" fill="#E78AC3"/>
<circle cx="363.9" cy="1251.0" r="4.46" fill="#E78AC3"/>
<circle cx="371.7" cy="1256.8" r="4.96" fill="#E78AC3"/>
<circle cx="363.9" cy="1260.4" r="1.75" fill="#E78AC3"/>
<circle cx="367.8" cy="1264.6" r="1.75" fill="#E78AC3"/>
<circle cx="390.5" cy="1242.0" r="3.35" fill="#33A02C"/>
<circle cx="400.6" cy="1243.5" r="4.16" fill="#33A02C"/>
<circle cx="395.2" cy="1249.0" r="2.56" fill="#33A02C"/>
<circle cx="388.9" cy="1250.6" r="4.96" fill="#33A02C"/>
<circle cx="402.2" cy="1250.6" r="4.96" fill="#33A02C"/>
<circle cx="385.8" cy="1256.8" r="4.16" fill="#33A02C"/>
<circle cx="404.5" cy="1256.8" r="4.16" fill="#33A02C"/>
<circle cx="393.6" cy="1257.6" r="2.85" fill="#33A02C"/>
<circle cx="398.3" cy="1257.6" r="3.35" fill="#33A02C"/>
<circle cx="393.6" cy="1263.0" r="2.85" fill="#33A02C"/>
<circle cx="398.3" cy="1269.3" r="1.75" fill="#33A02C"/>
<circle cx="392.8" cy="1270.1" r="2.85" fill="#33A02C"/>
<circle cx="395.9" cy="1272.4" r="3.35" fill="#33A02C"/>
<circle cx="425.3" cy="1337.8" r="3.35" fill="#B2DF8A"/>
<circle cx="422.5" cy="1344.3" r="2.56" fill="#B2DF8A"/>
<circle cx="423.8" cy="1363.8" r="2.85" fill="#B2DF8A"/>
<circle cx="416.6" cy="1372.1" r="2.85" fill="#B2DF8A"/>
<circle cx="422.8" cy="1374.3" r="1.75" fill="#B2DF8A"/>
<circle cx="430.6" cy="1372.1" r="3.35" fill="#B2DF8A"/>
<circle cx="419.1" cy="1381.0" r="2.56" fill="#B2DF8A"/>
<circle cx="426.9" cy="1381.0" r="2.56" fill="#B2DF8A"/>
<circle cx="428.4" cy="1388.8" r="3.35" fill="#B2DF8A"/>
<circle cx="420.9" cy="1390.9" r="4.16" fill="#B2DF8A"/>
<circle cx="424.8" cy="1395.6" r="3.86" fill="#B2DF8A"/>
<circle cx="419.7" cy="1404.0" r="2.85" fill="#B2DF8A"/>
<circle cx="422.5" cy="1415.4" r="4.16" fill="#B2DF8A"/>
<circle cx="431.1" cy="1413.8" r="3.35" fill="#B2DF8A"/>
<circle cx="428.8" cy="1420.9" r="1.75" fill="#B2DF8A"/>
<circle cx="415.9" cy="1421.6" r="7.25" fill="#B2DF8A"/>
<circle cx="452.2" cy="1314.2" r="2.85" fill="#55A1B1"/>
<circle cx="451.4" cy="1328.2" r="1.96" fill="#55A1B1"/>
<circle cx="451.9" cy="1341.7" r="2.16" fill="#55A1B1"/>
<circle cx="450.9" cy="1398.2" r="4.46" fill="#55A1B1"/>
<circle cx="452.9" cy="1407.0" r="3.35" fill="#55A1B1"/>
<circle cx="451.9" cy="1410.7" r="4.96" fill="#55A1B1"/>
<circle cx="444.4" cy="1420.9" r="3.86" fill="#55A1B1"/>
<circle cx="452.2" cy="1420.9" r="2.56" fill="#55A1B1"/>
<circle cx="457.7" cy="1420.9" r="2.25" fill="#55A1B1"/>
<circle cx="461.0" cy="1420.9" r="1.96" fill="#55A1B1"/>
<circle cx="470.9" cy="1315.4" r="5.66" fill="#8DD3C7"/>
<circle cx="477.2" cy="1313.8" r="5.36" fill="#8DD3C7"/>
<circle cx="479.5" cy="1319.3" r="5.36" fill="#8DD3C7"/>
<circle cx="485.0" cy="1315.4" r="2.25" fill="#8DD3C7"/>
<circle cx="483.8" cy="1304.5" r="2.85" fill="#8DD3C7"/>
<circle cx="505.3" cy="1248.2" r="2.16" fill="#A6761D"/>
<circle cx="506.9" cy="1259.2" r="3.35" fill="#A6761D"/>
<circle cx="501.4" cy="1263.8" r="4.96" fill="#A6761D"/>
<circle cx="509.2" cy="1263.8" r="4.96" fill="#A6761D"/>
<circle cx="497.5" cy="1265.4" r="1.75" fill="#A6761D"/>
<circle cx="515.5" cy="1265.4" r="2.25" fill="#A6761D"/>
<circle cx="508.4" cy="1268.5" r="2.56" fill="#A6761D"/>
<circle cx="505.0" cy="1274.5" r="2.56" fill="#A6761D"/>
<circle cx="510.0" cy="1274.5" r="1.75" fill="#A6761D"/>
<circle cx="507.3" cy="1284.9" r="2.85" fill="#A6761D"/>
<circle cx="532.7" cy="1261.5" r="2.85" fill="#E6AB02"/>
<circle cx="538.1" cy="1267.3" r="2.85" fill="#E6AB02"/>
<circle cx="531.9" cy="1299.8" r="2.56" fill="#E6AB02"/>
<circle cx="525.6" cy="1303.7" r="3.35" fill="#E6AB02"/>
<circle cx="536.6" cy="1302.1" r="4.16" fill="#E6AB02"/>
<circle cx="543.3" cy="1304.9" r="2.56" fill="#E6AB02"/>
<circle cx="534.2" cy="1315.4" r="3.35" fill="#E6AB02"/>
<circle cx="528.4" cy="1322.0" r="3.86" fill="#E6AB02"/>
<circle cx="537.7" cy="1321.7" r="3.35" fill="#E6AB02"/>
<circle cx="538.9" cy="1326.0" r="3.35" fill="#E6AB02"/>
<circle cx="533.8" cy="1345.4" r="4.16" fill="#E6AB02"/>
<circle cx="535.5" cy="1354.8" r="4.96" fill="#E6AB02"/>
<circle cx="555.6" cy="1243.5" r="6.46" fill="#7570B3"/>
<circle cx="567.8" cy="1245.9" r="5.66" fill="#7570B3"/>
<circle cx="558.8" cy="1248.7" r="4.16" fill="#7570B3"/>
<circle cx="563.1" cy="1251.3" r="4.46" fill="#7570B3"/>
<circle cx="593.1" cy="1222.1" r="1.96" fill="#BEAED4"/>
<circle cx="590.0" cy="1230.0" r="2.25" fill="#BEAED4"/>
<circle cx="592.5" cy="1230.2" r="2.85" fill="#BEAED4"/>
<circle cx="589.7" cy="1236.2" r="2.25" fill="#BEAED4"/>
<circle cx="581.4" cy="1241.5" r="1.96" fill="#BEAED4"/>
<circle cx="594.7" cy="1239.6" r="2.85" fill="#BEAED4"/>
<circle cx="599.5" cy="1242.0" r="2.25" fill="#BEAED4"/>
<circle cx="588.4" cy="1241.2" r="1.75" fill="#BEAED4"/>
<circle cx="592.0" cy="1242.0" r="1.75" fill="#BEAED4"/>
<circle cx="587.8" cy="1246.7" r="2.56" fill="#BEAED4"/>
<circle cx="593.1" cy="1247.9" r="1.75" fill="#BEAED4"/>
<circle cx="590.0" cy="1267.8" r="1.75" fill="#BEAED4"/>
<circle cx="591.2" cy="1272.9" r="1.96" fill="#BEAED4"/>
<circle cx="610.0" cy="1227.9" r="2.25" fill="#666666"/>
<circle cx="620.2" cy="1225.9" r="1.96" fill="#666666"/>
<circle cx="627.2" cy="1229.2" r="2.85" fill="#666666"/>
<circle cx="616.2" cy="1234.9" r="3.35" fill="#666666"/>
<circle cx="612.0" cy="1240.7" r="3.66" fill="#666666"/>
<circle cx="621.7" cy="1239.9" r="3.66" fill="#666666"/>
<circle cx="616.7" cy="1291.5" r="1.96" fill="#666666"/>
<circle cx="621.4" cy="1289.9" r="1.96" fill="#666666"/>
<circle cx="619.0" cy="1314.3" r="1.96" fill="#666666"/>
<circle cx="650.9" cy="1234.2" r="2.56" fill="#999999"/>
<circle cx="638.4" cy="1240.9" r="1.96" fill="#999999"/>
<circle cx="645.5" cy="1237.8" r="2.25" fill="#999999"/>
<circle cx="648.8" cy="1239.3" r="2.56" fill="#999999"/>
<circle cx="653.0" cy="1241.2" r="2.16" fill="#999999"/>
<circle cx="644.1" cy="1242.8" r="1.96" fill="#999999"/>
<circle cx="647.2" cy="1245.1" r="1.96" fill="#999999"/>
<circle cx="670.5" cy="1240.4" r="2.25" fill="#AA8282"/>
<circle cx="678.4" cy="1243.5" r="2.25" fill="#AA8282"/>
<circle cx="669.4" cy="1246.3" r="2.25" fill="#AA8282"/>
<circle cx="675.2" cy="1247.4" r="2.25" fill="#AA8282"/>
</g>
<rect x="101.40" y="1161.50" width="589.00" height="42.45" fill="#fff" stroke="#000" stroke-width="3.0"/>
<text x="395.90" y="1191.90" font-family='"Liberation Sans", Arial, sans-serif' font-size="23.73" fill="#1A1A1A" text-anchor="middle">SNTG1 (variance = 16.65)</text>
<line x1="100.1" y1="1203.05" x2="100.1" y2="1432.80" stroke="#000" stroke-width="3.2"/>
<line x1="92.77" y1="1421.60" x2="100.1" y2="1421.60" stroke="#000" stroke-width="3.2"/>
<text x="86.90" y="1430.55" font-family='"Liberation Sans", Arial, sans-serif' font-size="23.47" fill="#000" text-anchor="end">0</text>
<line x1="92.77" y1="1396.75" x2="100.1" y2="1396.75" stroke="#000" stroke-width="3.2"/>
<text x="86.90" y="1405.70" font-family='"Liberation Sans", Arial, sans-serif' font-size="23.47" fill="#000" text-anchor="end">10</text>
<line x1="92.77" y1="1382.21" x2="100.1" y2="1382.21" stroke="#000" stroke-width="3.2"/>
<text x="86.90" y="1391.16" font-family='"Liberation Sans", Arial, sans-serif' font-size="23.47" fill="#000" text-anchor="end">20</text>
<line x1="92.77" y1="1357.36" x2="100.1" y2="1357.36" stroke="#000" stroke-width="3.2"/>
<text x="86.90" y="1366.31" font-family='"Liberation Sans", Arial, sans-serif' font-size="23.47" fill="#000" text-anchor="end">50</text>
<line x1="92.77" y1="1335.62" x2="100.1" y2="1335.62" stroke="#000" stroke-width="3.2"/>
<text x="86.90" y="1344.57" font-family='"Liberation Sans", Arial, sans-serif' font-size="23.47" fill="#000" text-anchor="end">100</text>
<line x1="92.77" y1="1312.44" x2="100.1" y2="1312.44" stroke="#000" stroke-width="3.2"/>
<text x="86.90" y="1321.39" font-family='"Liberation Sans", Arial, sans-serif' font-size="23.47" fill="#000" text-anchor="end">200</text>
<line x1="92.77" y1="1280.62" x2="100.1" y2="1280.62" stroke="#000" stroke-width="3.2"/>
<text x="86.90" y="1289.57" font-family='"Liberation Sans", Arial, sans-serif' font-size="23.47" fill="#000" text-anchor="end">500</text>
<line x1="92.77" y1="1256.12" x2="100.1" y2="1256.12" stroke="#000" stroke-width="3.2"/>
<text x="86.90" y="1265.07" font-family='"Liberation Sans", Arial, sans-serif' font-size="23.47" fill="#000" text-anchor="end">1k</text>
<line x1="92.77" y1="1231.45" x2="100.1" y2="1231.45" stroke="#000" stroke-width="3.2"/>
<text x="86.90" y="1240.40" font-family='"Liberation Sans", Arial, sans-serif' font-size="23.47" fill="#000" text-anchor="end">2k</text>
<line x1="99.05" y1="1431.60" x2="692.90" y2="1431.60" stroke="#000" stroke-width="3.2"/>
<line x1="116.85" y1="1431.60" x2="116.85" y2="1438.93" stroke="#000" stroke-width="3.2"/>
<text transform="translate(125.65,1445.10) rotate(-90)" font-family='"Liberation Sans", Arial, sans-serif' font-size="23.47" fill="#000" text-anchor="end">cl01</text>
<line x1="144.76" y1="1431.60" x2="144.76" y2="1438.93" stroke="#000" stroke-width="3.2"/>
<text transform="translate(153.56,1445.10) rotate(-90)" font-family='"Liberation Sans", Arial, sans-serif' font-size="23.47" fill="#000" text-anchor="end">cl02</text>
<line x1="172.68" y1="1431.60" x2="172.68" y2="1438.93" stroke="#000" stroke-width="3.2"/>
<text transform="translate(181.48,1445.10) rotate(-90)" font-family='"Liberation Sans", Arial, sans-serif' font-size="23.47" fill="#000" text-anchor="end">cl03</text>
<line x1="200.59" y1="1431.60" x2="200.59" y2="1438.93" stroke="#000" stroke-width="3.2"/>
<text transform="translate(209.39,1445.10) rotate(-90)" font-family='"Liberation Sans", Arial, sans-serif' font-size="23.47" fill="#000" text-anchor="end">cl04</text>
<line x1="228.51" y1="1431.60" x2="228.51" y2="1438.93" stroke="#000" stroke-width="3.2"/>
<text transform="translate(237.31,1445.10) rotate(-90)" font-family='"Liberation Sans", Arial, sans-serif' font-size="23.47" fill="#000" text-anchor="end">cl05</text>
<line x1="256.42" y1="1431.60" x2="256.42" y2="1438.93" stroke="#000" stroke-width="3.2"/>
<text transform="translate(265.22,1445.10) rotate(-90)" font-family='"Liberation Sans", Arial, sans-serif' font-size="23.47" fill="#000" text-anchor="end">cl06</text>
<line x1="284.34" y1="1431.60" x2="284.34" y2="1438.93" stroke="#000" stroke-width="3.2"/>
<text transform="translate(293.14,1445.10) rotate(-90)" font-family='"Liberation Sans", Arial, sans-serif' font-size="23.47" fill="#000" text-anchor="end">cl07</text>
<line x1="312.25" y1="1431.60" x2="312.25" y2="1438.93" stroke="#000" stroke-width="3.2"/>
<text transform="translate(321.05,1445.10) rotate(-90)" font-family='"Liberation Sans", Arial, sans-serif' font-size="23.47" fill="#000" text-anchor="end">cl08</text>
<line x1="340.17" y1="1431.60" x2="340.17" y2="1438.93" stroke="#000" stroke-width="3.2"/>
<text transform="translate(348.97,1445.10) rotate(-90)" font-family='"Liberation Sans", Arial, sans-serif' font-size="23.47" fill="#000" text-anchor="end">cl09</text>
<line x1="368.08" y1="1431.60" x2="368.08" y2="1438.93" stroke="#000" stroke-width="3.2"/>
<text transform="translate(376.88,1445.10) rotate(-90)" font-family='"Liberation Sans", Arial, sans-serif' font-size="23.47" fill="#000" text-anchor="end">cl10</text>
<line x1="396.00" y1="1431.60" x2="396.00" y2="1438.93" stroke="#000" stroke-width="3.2"/>
<text transform="translate(404.80,1445.10) rotate(-90)" font-family='"Liberation Sans", Arial, sans-serif' font-size="23.47" fill="#000" text-anchor="end">cl11</text>
<line x1="423.91" y1="1431.60" x2="423.91" y2="1438.93" stroke="#000" stroke-width="3.2"/>
<text transform="translate(432.71,1445.10) rotate(-90)" font-family='"Liberation Sans", Arial, sans-serif' font-size="23.47" fill="#000" text-anchor="end">cl12</text>
<line x1="451.83" y1="1431.60" x2="451.83" y2="1438.93" stroke="#000" stroke-width="3.2"/>
<text transform="translate(460.63,1445.10) rotate(-90)" font-family='"Liberation Sans", Arial, sans-serif' font-size="23.47" fill="#000" text-anchor="end">cl13</text>
<line x1="479.74" y1="1431.60" x2="479.74" y2="1438.93" stroke="#000" stroke-width="3.2"/>
<text transform="translate(488.54,1445.10) rotate(-90)" font-family='"Liberation Sans", Arial, sans-serif' font-size="23.47" fill="#000" text-anchor="end">cl14</text>
<line x1="507.66" y1="1431.60" x2="507.66" y2="1438.93" stroke="#000" stroke-width="3.2"/>
<text transform="translate(516.46,1445.10) rotate(-90)" font-family='"Liberation Sans", Arial, sans-serif' font-size="23.47" fill="#000" text-anchor="end">cl15</text>
<line x1="535.57" y1="1431.60" x2="535.57" y2="1438.93" stroke="#000" stroke-width="3.2"/>
<text transform="translate(544.37,1445.10) rotate(-90)" font-family='"Liberation Sans", Arial, sans-serif' font-size="23.47" fill="#000" text-anchor="end">cl16</text>
<line x1="563.49" y1="1431.60" x2="563.49" y2="1438.93" stroke="#000" stroke-width="3.2"/>
<text transform="translate(572.29,1445.10) rotate(-90)" font-family='"Liberation Sans", Arial, sans-serif' font-size="23.47" fill="#000" text-anchor="end">cl17</text>
<line x1="591.40" y1="1431.60" x2="591.40" y2="1438.93" stroke="#000" stroke-width="3.2"/>
<text transform="translate(600.20,1445.10) rotate(-90)" font-family='"Liberation Sans", Arial, sans-serif' font-size="23.47" fill="#000" text-anchor="end">cl18</text>
<line x1="619.32" y1="1431.60" x2="619.32" y2="1438.93" stroke="#000" stroke-width="3.2"/>
<text transform="translate(628.12,1445.10) rotate(-90)" font-family='"Liberation Sans", Arial, sans-serif' font-size="23.47" fill="#000" text-anchor="end">cl19</text>
<line x1="647.23" y1="1431.60" x2="647.23" y2="1438.93" stroke="#000" stroke-width="3.2"/>
<text transform="translate(656.03,1445.10) rotate(-90)" font-family='"Liberation Sans", Arial, sans-serif' font-size="23.47" fill="#000" text-anchor="end">cl20</text>
<line x1="675.15" y1="1431.60" x2="675.15" y2="1438.93" stroke="#000" stroke-width="3.2"/>
<text transform="translate(683.95,1445.10) rotate(-90)" font-family='"Liberation Sans", Arial, sans-serif' font-size="23.47" fill="#000" text-anchor="end">cl21</text>
<clipPath id="cp9"><rect x="758.50" y="1202.05" width="591.8" height="229.55"/></clipPath>
<g stroke="#000" stroke-width="1.89" clip-path="url(#cp9)">
<circle cx="764.0" cy="1292.8" r="4.96" fill="#DC050C"/>
<circle cx="772.1" cy="1270.9" r="9.50" fill="#DC050C"/>
<circle cx="782.2" cy="1273.2" r="8.05" fill="#DC050C"/>
<circle cx="776.8" cy="1267.8" r="11.00" fill="#DC050C"/>
<circle cx="777.5" cy="1315.4" r="14.90" fill="#DC050C"/>
<circle cx="776.8" cy="1299.0" r="9.50" fill="#DC050C"/>
<circle cx="770.5" cy="1292.8" r="8.05" fill="#DC050C"/>
<circle cx="781.4" cy="1292.0" r="9.50" fill="#DC050C"/>
<circle cx="771.3" cy="1292.8" r="4.16" fill="#DC050C"/>
<circle cx="776.0" cy="1302.9" r="2.56" fill="#DC050C"/>
<circle cx="773.6" cy="1306.8" r="2.85" fill="#DC050C"/>
<circle cx="775.2" cy="1318.0" r="3.86" fill="#DC050C"/>
<circle cx="808.0" cy="1348.0" r="9.50" fill="#FB8072"/>
<circle cx="811.1" cy="1364.6" r="18.05" fill="#FB8072"/>
<circle cx="793.9" cy="1355.2" r="11.80" fill="#FB8072"/>
<circle cx="797.1" cy="1346.7" r="8.05" fill="#FB8072"/>
<circle cx="809.6" cy="1359.9" r="7.25" fill="#FB8072"/>
<circle cx="797.8" cy="1372.4" r="11.80" fill="#FB8072"/>
<circle cx="801.0" cy="1387.3" r="4.96" fill="#FB8072"/>
<circle cx="803.3" cy="1391.2" r="2.56" fill="#FB8072"/>
<circle cx="825.2" cy="1294.3" r="8.86" fill="#1965B0"/>
<circle cx="833.0" cy="1290.4" r="6.46" fill="#1965B0"/>
<circle cx="839.2" cy="1302.1" r="5.66" fill="#1965B0"/>
<circle cx="820.5" cy="1306.8" r="4.96" fill="#1965B0"/>
<circle cx="834.6" cy="1311.5" r="12.11" fill="#1965B0"/>
<circle cx="831.1" cy="1346.7" r="4.46" fill="#1965B0"/>
<circle cx="860.3" cy="1412.3" r="5.66" fill="#7BAFDE"/>
<circle cx="850.2" cy="1420.9" r="6.46" fill="#7BAFDE"/>
<circle cx="868.0" cy="1420.9" r="4.16" fill="#7BAFDE"/>
<circle cx="860.3" cy="1420.9" r="8.05" fill="#7BAFDE"/>
<circle cx="854.9" cy="1420.9" r="3.35" fill="#7BAFDE"/>
<circle cx="886.4" cy="1411.5" r="5.66" fill="#882E72"/>
<circle cx="879.1" cy="1420.9" r="7.25" fill="#882E72"/>
<circle cx="896.3" cy="1420.9" r="6.46" fill="#882E72"/>
<circle cx="888.5" cy="1420.9" r="5.66" fill="#882E72"/>
<circle cx="876.4" cy="1420.9" r="2.56" fill="#882E72"/>
<circle cx="887.7" cy="1420.9" r="2.25" fill="#882E72"/>
<circle cx="904.9" cy="1272.4" r="9.50" fill="#B17BA6"/>
<circle cx="914.0" cy="1271.0" r="8.05" fill="#B17BA6"/>
<circle cx="922.0" cy="1272.4" r="9.50" fill="#B17BA6"/>
<circle cx="918.2" cy="1273.2" r="4.16" fill="#B17BA6"/>
<circle cx="916.6" cy="1290.4" r="5.36" fill="#B17BA6"/>
<circle cx="913.5" cy="1299.0" r="7.25" fill="#B17BA6"/>
<circle cx="915.0" cy="1306.0" r="5.36" fill="#B17BA6"/>
<circle cx="939.1" cy="1242.8" r="7.25" fill="#FF7F00"/>
<circle cx="932.1" cy="1250.6" r="7.25" fill="#FF7F00"/>
<circle cx="944.6" cy="1249.0" r="5.66" fill="#FF7F00"/>
<circle cx="946.9" cy="1240.4" r="8.55" fill="#FF7F00"/>
<circle cx="943.8" cy="1261.5" r="4.46" fill="#FF7F00"/>
<circle cx="948.5" cy="1270.1" r="6.05" fill="#FF7F00"/>
<circle cx="938.3" cy="1273.2" r="2.85" fill="#FF7F00"/>
<circle cx="943.8" cy="1273.2" r="2.85" fill="#FF7F00"/>
<circle cx="936.8" cy="1267.8" r="1.75" fill="#FF7F00"/>
<circle cx="966.4" cy="1267.8" r="4.16" fill="#FDB462"/>
<circle cx="971.9" cy="1267.8" r="4.96" fill="#FDB462"/>
<circle cx="979.7" cy="1270.9" r="4.16" fill="#FDB462"/>
<circle cx="961.8" cy="1272.4" r="6.46" fill="#FDB462"/>
<circle cx="969.6" cy="1275.6" r="5.66" fill="#FDB462"/>
<circle cx="976.1" cy="1276.3" r="1.35" fill="#FDB462"/>
<circle cx="966.4" cy="1258.7" r="1.75" fill="#FDB462"/>
<circle cx="974.6" cy="1259.2" r="1.96" fill="#FDB462"/>
<circle cx="968.3" cy="1287.3" r="1.75" fill="#FDB462"/>
<circle cx="972.2" cy="1290.9" r="1.75" fill="#FDB462"/>
<circle cx="970.3" cy="1297.9" r="3.35" fill="#FDB462"/>
<circle cx="997.7" cy="1408.1" r="2.56" fill="#E7298A"/>
<circle cx="999.2" cy="1416.2" r="4.96" fill="#E7298A"/>
<circle cx="988.3" cy="1420.9" r="5.66" fill="#E7298A"/>
<circle cx="1007.0" cy="1420.9" r="6.05" fill="#E7298A"/>
<circle cx="991.4" cy="1420.9" r="1.75" fill="#E7298A"/>
<circle cx="997.7" cy="1421.6" r="4.16" fill="#E7298A"/>
<circle cx="1005.5" cy="1420.9" r="2.56" fill="#E7298A"/>
<circle cx="1031.3" cy="1269.0" r="4.96" fill="#E78AC3"/>
<circle cx="1021.9" cy="1270.9" r="1.75" fill="#E78AC3"/>
<circle cx="1027.4" cy="1272.4" r="4.16" fill="#E78AC3"/>
<circle cx="1017.2" cy="1273.7" r="2.25" fill="#E78AC3"/>
<circle cx="1033.6" cy="1277.1" r="4.16" fill="#E78AC3"/>
<circle cx="1024.2" cy="1277.9" r="4.16" fill="#E78AC3"/>
<circle cx="1019.6" cy="1283.4" r="4.96" fill="#E78AC3"/>
<circle cx="1029.7" cy="1284.9" r="2.85" fill="#E78AC3"/>
<circle cx="1024.2" cy="1295.1" r="5.36" fill="#E78AC3"/>
<circle cx="1026.6" cy="1297.5" r="1.75" fill="#E78AC3"/>
<circle cx="1054.7" cy="1246.7" r="4.96" fill="#33A02C"/>
<circle cx="1046.1" cy="1253.7" r="4.96" fill="#33A02C"/>
<circle cx="1062.5" cy="1255.2" r="5.36" fill="#33A02C"/>
<circle cx="1053.9" cy="1255.2" r="4.16" fill="#33A02C"/>
<circle cx="1047.7" cy="1261.5" r="4.96" fill="#33A02C"/>
<circle cx="1060.2" cy="1261.5" r="3.35" fill="#33A02C"/>
<circle cx="1055.5" cy="1263.8" r="4.16" fill="#33A02C"/>
<circle cx="1049.2" cy="1272.4" r="4.96" fill="#33A02C"/>
<circle cx="1057.8" cy="1277.1" r="3.35" fill="#33A02C"/>
<circle cx="1052.4" cy="1277.9" r="2.25" fill="#33A02C"/>
<circle cx="1054.7" cy="1288.0" r="3.35" fill="#33A02C"/>
<circle cx="1051.3" cy="1303.4" r="2.85" fill="#33A02C"/>
<circle cx="1056.3" cy="1303.4" r="2.85" fill="#33A02C"/>
<circle cx="1052.7" cy="1310.7" r="2.85" fill="#33A02C"/>
<circle cx="1054.4" cy="1333.7" r="1.96" fill="#33A02C"/>
<circle cx="1082.5" cy="1369.0" r="2.85" fill="#B2DF8A"/>
<circle cx="1081.8" cy="1395.9" r="3.35" fill="#B2DF8A"/>
<circle cx="1081.0" cy="1413.0" r="4.16" fill="#B2DF8A"/>
<circle cx="1082.0" cy="1413.0" r="2.25" fill="#B2DF8A"/>
<circle cx="1071.9" cy="1420.9" r="3.86" fill="#B2DF8A"/>
<circle cx="1080.5" cy="1420.9" r="6.46" fill="#B2DF8A"/>
<circle cx="1091.8" cy="1420.9" r="2.56" fill="#B2DF8A"/>
<circle cx="1110.5" cy="1355.7" r="2.85" fill="#55A1B1"/>
<circle cx="1109.9" cy="1368.2" r="1.96" fill="#55A1B1"/>
<circle cx="1110.2" cy="1390.4" r="3.86" fill="#55A1B1"/>
<circle cx="1099.2" cy="1420.9" r="3.35" fill="#55A1B1"/>
<circle cx="1108.3" cy="1420.9" r="3.35" fill="#55A1B1"/>
<circle cx="1114.9" cy="1420.9" r="2.56" fill="#55A1B1"/>
<circle cx="1119.6" cy="1420.9" r="3.86" fill="#55A1B1"/>
<circle cx="1136.0" cy="1216.5" r="5.66" fill="#8DD3C7"/>
<circle cx="1143.8" cy="1215.4" r="5.36" fill="#8DD3C7"/>
<circle cx="1129.0" cy="1222.4" r="1.75" fill="#8DD3C7"/>
<circle cx="1133.6" cy="1225.6" r="5.36" fill="#8DD3C7"/>
<circle cx="1141.4" cy="1222.4" r="4.96" fill="#8DD3C7"/>
<circle cx="1138.0" cy="1231.0" r="2.56" fill="#8DD3C7"/>
<circle cx="1163.0" cy="1320.4" r="3.86" fill="#A6761D"/>
<circle cx="1164.9" cy="1330.2" r="2.25" fill="#A6761D"/>
<circle cx="1173.5" cy="1329.9" r="3.86" fill="#A6761D"/>
<circle cx="1169.6" cy="1332.6" r="1.75" fill="#A6761D"/>
<circle cx="1160.2" cy="1336.8" r="1.75" fill="#A6761D"/>
<circle cx="1161.8" cy="1342.0" r="4.96" fill="#A6761D"/>
<circle cx="1172.7" cy="1341.5" r="4.16" fill="#A6761D"/>
<circle cx="1156.3" cy="1346.7" r="1.75" fill="#A6761D"/>
<circle cx="1167.2" cy="1345.9" r="1.75" fill="#A6761D"/>
<circle cx="1171.9" cy="1350.6" r="2.25" fill="#A6761D"/>
<circle cx="1163.3" cy="1356.0" r="2.56" fill="#A6761D"/>
<circle cx="1168.0" cy="1357.6" r="4.96" fill="#A6761D"/>
<circle cx="1159.1" cy="1360.4" r="1.75" fill="#A6761D"/>
<circle cx="1169.9" cy="1365.1" r="2.56" fill="#A6761D"/>
<circle cx="1163.0" cy="1367.8" r="2.56" fill="#A6761D"/>
<circle cx="1166.0" cy="1421.3" r="1.96" fill="#A6761D"/>
<circle cx="1191.1" cy="1231.5" r="4.16" fill="#E6AB02"/>
<circle cx="1199.2" cy="1236.2" r="2.56" fill="#E6AB02"/>
<circle cx="1190.2" cy="1237.3" r="2.56" fill="#E6AB02"/>
<circle cx="1194.6" cy="1239.0" r="1.75" fill="#E6AB02"/>
<circle cx="1186.0" cy="1242.0" r="2.56" fill="#E6AB02"/>
<circle cx="1200.3" cy="1242.0" r="4.16" fill="#E6AB02"/>
<circle cx="1192.7" cy="1246.7" r="2.56" fill="#E6AB02"/>
<circle cx="1195.0" cy="1252.1" r="2.25" fill="#E6AB02"/>
<circle cx="1185.2" cy="1255.6" r="4.46" fill="#E6AB02"/>
<circle cx="1199.2" cy="1255.6" r="3.35" fill="#E6AB02"/>
<circle cx="1193.8" cy="1258.4" r="2.56" fill="#E6AB02"/>
<circle cx="1189.1" cy="1258.1" r="3.35" fill="#E6AB02"/>
<circle cx="1216.1" cy="1398.7" r="4.46" fill="#7570B3"/>
<circle cx="1226.6" cy="1413.8" r="4.46" fill="#7570B3"/>
<circle cx="1216.4" cy="1416.7" r="4.96" fill="#7570B3"/>
<circle cx="1221.9" cy="1421.6" r="6.05" fill="#7570B3"/>
<circle cx="1250.5" cy="1377.9" r="1.96" fill="#BEAED4"/>
<circle cx="1249.6" cy="1406.5" r="2.56" fill="#BEAED4"/>
<circle cx="1239.9" cy="1421.6" r="1.75" fill="#BEAED4"/>
<circle cx="1243.0" cy="1421.6" r="1.75" fill="#BEAED4"/>
<circle cx="1246.1" cy="1421.6" r="1.75" fill="#BEAED4"/>
<circle cx="1250.8" cy="1421.6" r="1.96" fill="#BEAED4"/>
<circle cx="1254.7" cy="1421.6" r="1.75" fill="#BEAED4"/>
<circle cx="1258.3" cy="1421.6" r="1.75" fill="#BEAED4"/>
<circle cx="1268.8" cy="1287.8" r="1.96" fill="#666666"/>
<circle cx="1278.6" cy="1286.8" r="3.35" fill="#666666"/>
<circle cx="1285.7" cy="1291.7" r="3.35" fill="#666666"/>
<circle cx="1275.0" cy="1292.8" r="2.56" fill="#666666"/>
<circle cx="1279.7" cy="1299.0" r="3.35" fill="#666666"/>
<circle cx="1272.2" cy="1300.9" r="2.25" fill="#666666"/>
<circle cx="1280.5" cy="1308.8" r="2.25" fill="#666666"/>
<circle cx="1275.3" cy="1313.8" r="1.96" fill="#666666"/>
<circle cx="1277.7" cy="1324.0" r="2.16" fill="#666666"/>
<circle cx="1310.5" cy="1276.7" r="2.85" fill="#999999"/>
<circle cx="1303.6" cy="1281.8" r="2.56" fill="#999999"/>
<circle cx="1307.1" cy="1291.7" r="2.56" fill="#999999"/>
<circle cx="1298.0" cy="1297.8" r="2.16" fill="#999999"/>
<circle cx="1311.3" cy="1300.9" r="2.56" fill="#999999"/>
<circle cx="1300.0" cy="1305.2" r="2.25" fill="#999999"/>
<circle cx="1305.5" cy="1308.4" r="2.56" fill="#999999"/>
<circle cx="1325.8" cy="1243.5" r="2.16" fill="#AA8282"/>
<circle cx="1330.0" cy="1245.6" r="1.75" fill="#AA8282"/>
<circle cx="1333.3" cy="1248.2" r="2.25" fill="#AA8282"/>
<circle cx="1338.8" cy="1244.0" r="2.56" fill="#AA8282"/>
</g>
<rect x="759.80" y="1161.50" width="589.00" height="42.45" fill="#fff" stroke="#000" stroke-width="3.0"/>
<text x="1054.30" y="1191.90" font-family='"Liberation Sans", Arial, sans-serif' font-size="23.73" fill="#1A1A1A" text-anchor="middle">KCNC2 (variance = 16.60)</text>
<line x1="758.5" y1="1203.05" x2="758.5" y2="1432.80" stroke="#000" stroke-width="3.2"/>
<line x1="751.17" y1="1421.60" x2="758.5" y2="1421.60" stroke="#000" stroke-width="3.2"/>
<text x="745.30" y="1430.55" font-family='"Liberation Sans", Arial, sans-serif' font-size="23.47" fill="#000" text-anchor="end">0</text>
<line x1="751.17" y1="1395.63" x2="758.5" y2="1395.63" stroke="#000" stroke-width="3.2"/>
<text x="745.30" y="1404.58" font-family='"Liberation Sans", Arial, sans-serif' font-size="23.47" fill="#000" text-anchor="end">10</text>
<line x1="751.17" y1="1380.44" x2="758.5" y2="1380.44" stroke="#000" stroke-width="3.2"/>
<text x="745.30" y="1389.39" font-family='"Liberation Sans", Arial, sans-serif' font-size="23.47" fill="#000" text-anchor="end">20</text>
<line x1="751.17" y1="1354.47" x2="758.5" y2="1354.47" stroke="#000" stroke-width="3.2"/>
<text x="745.30" y="1363.42" font-family='"Liberation Sans", Arial, sans-serif' font-size="23.47" fill="#000" text-anchor="end">50</text>
<line x1="751.17" y1="1331.76" x2="758.5" y2="1331.76" stroke="#000" stroke-width="3.2"/>
<text x="745.30" y="1340.71" font-family='"Liberation Sans", Arial, sans-serif' font-size="23.47" fill="#000" text-anchor="end">100</text>
<line x1="751.17" y1="1307.53" x2="758.5" y2="1307.53" stroke="#000" stroke-width="3.2"/>
<text x="745.30" y="1316.48" font-family='"Liberation Sans", Arial, sans-serif' font-size="23.47" fill="#000" text-anchor="end">200</text>
<line x1="751.17" y1="1274.29" x2="758.5" y2="1274.29" stroke="#000" stroke-width="3.2"/>
<text x="745.30" y="1283.24" font-family='"Liberation Sans", Arial, sans-serif' font-size="23.47" fill="#000" text-anchor="end">500</text>
<line x1="751.17" y1="1248.69" x2="758.5" y2="1248.69" stroke="#000" stroke-width="3.2"/>
<text x="745.30" y="1257.64" font-family='"Liberation Sans", Arial, sans-serif' font-size="23.47" fill="#000" text-anchor="end">1k</text>
<line x1="751.17" y1="1222.90" x2="758.5" y2="1222.90" stroke="#000" stroke-width="3.2"/>
<text x="745.30" y="1231.85" font-family='"Liberation Sans", Arial, sans-serif' font-size="23.47" fill="#000" text-anchor="end">2k</text>
<line x1="757.45" y1="1431.60" x2="1351.30" y2="1431.60" stroke="#000" stroke-width="3.2"/>
<line x1="775.25" y1="1431.60" x2="775.25" y2="1438.93" stroke="#000" stroke-width="3.2"/>
<text transform="translate(784.05,1445.10) rotate(-90)" font-family='"Liberation Sans", Arial, sans-serif' font-size="23.47" fill="#000" text-anchor="end">cl01</text>
<line x1="803.16" y1="1431.60" x2="803.16" y2="1438.93" stroke="#000" stroke-width="3.2"/>
<text transform="translate(811.96,1445.10) rotate(-90)" font-family='"Liberation Sans", Arial, sans-serif' font-size="23.47" fill="#000" text-anchor="end">cl02</text>
<line x1="831.08" y1="1431.60" x2="831.08" y2="1438.93" stroke="#000" stroke-width="3.2"/>
<text transform="translate(839.88,1445.10) rotate(-90)" font-family='"Liberation Sans", Arial, sans-serif' font-size="23.47" fill="#000" text-anchor="end">cl03</text>
<line x1="858.99" y1="1431.60" x2="858.99" y2="1438.93" stroke="#000" stroke-width="3.2"/>
<text transform="translate(867.79,1445.10) rotate(-90)" font-family='"Liberation Sans", Arial, sans-serif' font-size="23.47" fill="#000" text-anchor="end">cl04</text>
<line x1="886.91" y1="1431.60" x2="886.91" y2="1438.93" stroke="#000" stroke-width="3.2"/>
<text transform="translate(895.71,1445.10) rotate(-90)" font-family='"Liberation Sans", Arial, sans-serif' font-size="23.47" fill="#000" text-anchor="end">cl05</text>
<line x1="914.82" y1="1431.60" x2="914.82" y2="1438.93" stroke="#000" stroke-width="3.2"/>
<text transform="translate(923.62,1445.10) rotate(-90)" font-family='"Liberation Sans", Arial, sans-serif' font-size="23.47" fill="#000" text-anchor="end">cl06</text>
<line x1="942.74" y1="1431.60" x2="942.74" y2="1438.93" stroke="#000" stroke-width="3.2"/>
<text transform="translate(951.54,1445.10) rotate(-90)" font-family='"Liberation Sans", Arial, sans-serif' font-size="23.47" fill="#000" text-anchor="end">cl07</text>
<line x1="970.65" y1="1431.60" x2="970.65" y2="1438.93" stroke="#000" stroke-width="3.2"/>
<text transform="translate(979.45,1445.10) rotate(-90)" font-family='"Liberation Sans", Arial, sans-serif' font-size="23.47" fill="#000" text-anchor="end">cl08</text>
<line x1="998.57" y1="1431.60" x2="998.57" y2="1438.93" stroke="#000" stroke-width="3.2"/>
<text transform="translate(1007.37,1445.10) rotate(-90)" font-family='"Liberation Sans", Arial, sans-serif' font-size="23.47" fill="#000" text-anchor="end">cl09</text>
<line x1="1026.48" y1="1431.60" x2="1026.48" y2="1438.93" stroke="#000" stroke-width="3.2"/>
<text transform="translate(1035.28,1445.10) rotate(-90)" font-family='"Liberation Sans", Arial, sans-serif' font-size="23.47" fill="#000" text-anchor="end">cl10</text>
<line x1="1054.40" y1="1431.60" x2="1054.40" y2="1438.93" stroke="#000" stroke-width="3.2"/>
<text transform="translate(1063.20,1445.10) rotate(-90)" font-family='"Liberation Sans", Arial, sans-serif' font-size="23.47" fill="#000" text-anchor="end">cl11</text>
<line x1="1082.31" y1="1431.60" x2="1082.31" y2="1438.93" stroke="#000" stroke-width="3.2"/>
<text transform="translate(1091.11,1445.10) rotate(-90)" font-family='"Liberation Sans", Arial, sans-serif' font-size="23.47" fill="#000" text-anchor="end">cl12</text>
<line x1="1110.23" y1="1431.60" x2="1110.23" y2="1438.93" stroke="#000" stroke-width="3.2"/>
<text transform="translate(1119.03,1445.10) rotate(-90)" font-family='"Liberation Sans", Arial, sans-serif' font-size="23.47" fill="#000" text-anchor="end">cl13</text>
<line x1="1138.14" y1="1431.60" x2="1138.14" y2="1438.93" stroke="#000" stroke-width="3.2"/>
<text transform="translate(1146.94,1445.10) rotate(-90)" font-family='"Liberation Sans", Arial, sans-serif' font-size="23.47" fill="#000" text-anchor="end">cl14</text>
<line x1="1166.06" y1="1431.60" x2="1166.06" y2="1438.93" stroke="#000" stroke-width="3.2"/>
<text transform="translate(1174.86,1445.10) rotate(-90)" font-family='"Liberation Sans", Arial, sans-serif' font-size="23.47" fill="#000" text-anchor="end">cl15</text>
<line x1="1193.97" y1="1431.60" x2="1193.97" y2="1438.93" stroke="#000" stroke-width="3.2"/>
<text transform="translate(1202.77,1445.10) rotate(-90)" font-family='"Liberation Sans", Arial, sans-serif' font-size="23.47" fill="#000" text-anchor="end">cl16</text>
<line x1="1221.89" y1="1431.60" x2="1221.89" y2="1438.93" stroke="#000" stroke-width="3.2"/>
<text transform="translate(1230.69,1445.10) rotate(-90)" font-family='"Liberation Sans", Arial, sans-serif' font-size="23.47" fill="#000" text-anchor="end">cl17</text>
<line x1="1249.80" y1="1431.60" x2="1249.80" y2="1438.93" stroke="#000" stroke-width="3.2"/>
<text transform="translate(1258.60,1445.10) rotate(-90)" font-family='"Liberation Sans", Arial, sans-serif' font-size="23.47" fill="#000" text-anchor="end">cl18</text>
<line x1="1277.72" y1="1431.60" x2="1277.72" y2="1438.93" stroke="#000" stroke-width="3.2"/>
<text transform="translate(1286.52,1445.10) rotate(-90)" font-family='"Liberation Sans", Arial, sans-serif' font-size="23.47" fill="#000" text-anchor="end">cl19</text>
<line x1="1305.63" y1="1431.60" x2="1305.63" y2="1438.93" stroke="#000" stroke-width="3.2"/>
<text transform="translate(1314.43,1445.10) rotate(-90)" font-family='"Liberation Sans", Arial, sans-serif' font-size="23.47" fill="#000" text-anchor="end">cl20</text>
<line x1="1333.55" y1="1431.60" x2="1333.55" y2="1438.93" stroke="#000" stroke-width="3.2"/>
<text transform="translate(1342.35,1445.10) rotate(-90)" font-family='"Liberation Sans", Arial, sans-serif' font-size="23.47" fill="#000" text-anchor="end">cl21</text>
<text x="725.1" y="1515.6" font-family='"Liberation Sans", Arial, sans-serif' font-size="29.33" fill="#000" text-anchor="middle">cluster</text>
<text transform="translate(34.0,745.1) rotate(-90)" font-family='"Liberation Sans", Arial, sans-serif' font-size="29.6" fill="#000" text-anchor="middle">counts per million</text>
<text x="1393.8" y="633.4" font-family='"Liberation Sans", Arial, sans-serif' font-size="29.33" fill="#000">#&#160;cells</text>
<circle cx="1417.0" cy="674.0" r="1.06" fill="none" stroke="#000" stroke-width="1.89"/>
<text x="1454.6" y="682.95" font-family='"Liberation Sans", Arial, sans-serif' font-size="23.47" fill="#000">0</text>
<circle cx="1417.0" cy="719.9" r="9.25" fill="none" stroke="#000" stroke-width="1.89"/>
<text x="1454.6" y="728.85" font-family='"Liberation Sans", Arial, sans-serif' font-size="23.47" fill="#000">1000</text>
<circle cx="1417.0" cy="766.2" r="12.65" fill="none" stroke="#000" stroke-width="1.89"/>
<text x="1454.6" y="775.15" font-family='"Liberation Sans", Arial, sans-serif' font-size="23.47" fill="#000">2000</text>
<circle cx="1417.0" cy="812.1" r="15.30" fill="none" stroke="#000" stroke-width="1.89"/>
<text x="1454.6" y="821.05" font-family='"Liberation Sans", Arial, sans-serif' font-size="23.47" fill="#000">3000</text>
<circle cx="1417.0" cy="858.3" r="17.50" fill="none" stroke="#000" stroke-width="1.89"/>
<text x="1454.6" y="867.25" font-family='"Liberation Sans", Arial, sans-serif' font-size="23.47" fill="#000">4000</text>
</svg>
</body></html>
